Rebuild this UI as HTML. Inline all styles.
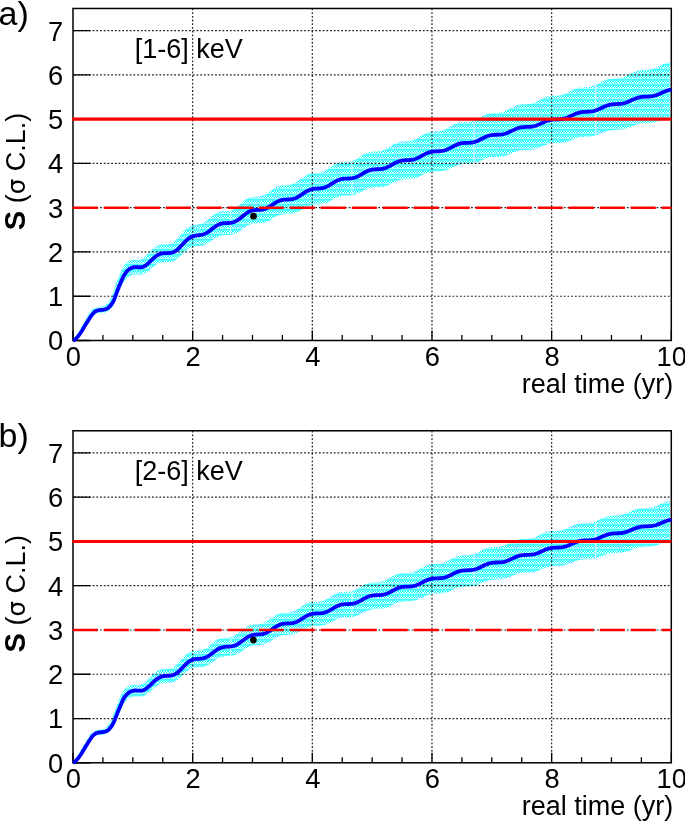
<!DOCTYPE html>
<html><head><meta charset="utf-8"><title>Significance vs real time</title>
<style>html,body{margin:0;padding:0;background:#fff;}svg{display:block;}</style>
</head><body>
<svg width="685" height="821" viewBox="0 0 685 821">
<defs><pattern id="hatch" width="5" height="5" patternUnits="userSpaceOnUse">
<rect width="5" height="5" fill="#00ffff"/>
<rect y="3" width="5" height="1" fill="#a8ffff"/>
<rect y="4" width="5" height="1" fill="#40ffff"/>
<rect y="0" width="5" height="1" fill="#60ffff"/>
<rect x="1" y="1" width="1" height="1" fill="#ffffff"/><rect x="4" y="1" width="1" height="1" fill="#ffffff"/>
<rect x="0" y="2" width="1" height="1" fill="#f0ffff"/><rect x="2" y="2" width="2" height="1" fill="#f0ffff"/>
</pattern></defs>
<rect width="685" height="821" fill="#fff"/>
<clipPath id="bca"><polygon points="73,339.35 73.5,338.86 74,338.32 74.5,337.73 74.99,337.12 75.49,336.49 75.99,335.87 76.49,335.19 76.99,334.47 77.49,333.71 77.99,332.92 78.48,332.12 78.98,331.29 79.48,330.46 79.98,329.6 80.48,328.7 80.98,327.77 81.48,326.82 81.97,325.87 82.47,324.94 82.97,324.03 83.47,323.14 83.97,322.25 84.47,321.38 84.97,320.51 85.46,319.64 85.96,318.79 86.46,317.94 86.96,317.09 87.46,316.22 87.96,315.34 88.46,314.46 88.95,313.62 89.45,312.83 89.95,312.12 90.45,311.5 90.95,310.91 91.45,310.34 91.95,309.8 92.44,309.3 92.94,308.87 93.44,308.5 93.94,308.22 94.44,308 94.94,307.8 95.44,307.63 95.93,307.48 96.43,307.34 96.93,307.23 97.43,307.14 97.93,307.06 98.43,307 98.93,306.95 99.42,306.91 99.92,306.86 100.42,306.81 100.92,306.75 101.42,306.67 101.92,306.57 102.42,306.44 102.91,306.3 103.41,306.13 103.91,305.95 104.41,305.73 104.91,305.49 105.41,305.2 105.91,304.82 106.41,304.37 106.9,303.86 107.4,303.3 107.9,302.71 108.4,302.08 108.9,301.44 109.4,300.74 109.9,299.98 110.39,299.15 110.89,298.24 111.39,297.24 111.89,296.13 112.39,294.85 112.89,293.13 113.39,291.54 113.88,290.02 114.38,288.53 114.88,287.06 115.38,285.63 115.88,284.21 116.38,282.83 116.88,281.48 117.37,280.15 117.87,278.84 118.37,277.52 118.87,276.19 119.37,274.87 119.87,273.58 120.37,272.34 120.86,271.16 121.36,270.07 121.86,269.08 122.36,268.2 122.86,267.4 123.36,266.62 123.86,265.87 124.35,265.16 124.85,264.48 125.35,263.87 125.85,263.3 126.35,262.78 126.85,262.31 127.35,261.9 127.84,261.55 128.34,261.29 128.84,261.05 129.34,260.83 129.84,260.62 130.34,260.43 130.84,260.26 131.33,260.12 131.83,260.01 132.33,259.93 132.83,259.88 133.33,259.85 133.83,259.86 134.33,259.89 134.82,259.94 135.32,259.98 135.82,260.02 136.32,260.05 136.82,260.08 137.32,260.09 137.82,260.09 138.31,260.08 138.81,260.04 139.31,259.98 139.81,259.89 140.31,259.76 140.81,259.61 141.31,259.41 141.8,259.18 142.3,258.9 142.8,258.57 143.3,258.2 143.8,257.81 144.3,257.4 144.8,256.97 145.29,256.52 145.79,256.05 146.29,255.57 146.79,255.07 147.29,254.56 147.79,254.03 148.29,253.51 148.78,252.97 149.28,252.44 149.78,251.91 150.28,251.38 150.78,250.86 151.28,250.35 151.78,249.85 152.27,249.37 152.77,248.91 153.27,248.46 153.77,248.04 154.27,247.64 154.77,247.26 155.27,246.91 155.76,246.58 156.26,246.28 156.76,246 157.26,245.75 157.76,245.53 158.26,245.33 158.76,245.16 159.25,245 159.75,244.87 160.25,244.77 160.75,244.68 161.25,244.6 161.75,244.55 162.25,244.5 162.75,244.47 163.24,244.45 163.74,244.44 164.24,244.43 164.74,244.42 165.24,244.41 165.74,244.4 166.24,244.38 166.73,244.36 167.23,244.32 167.73,244.28 168.23,244.21 168.73,244.13 169.23,244.03 169.73,243.9 170.22,243.75 170.72,243.58 171.22,243.38 171.72,243.15 172.22,242.9 172.72,242.61 173.22,242.28 173.71,241.92 174.21,241.53 174.71,241.11 175.21,240.67 175.71,240.19 176.21,239.7 176.71,239.18 177.2,238.64 177.7,238.08 178.2,237.52 178.7,236.94 179.2,236.35 179.7,235.75 180.2,235.16 180.69,234.56 181.19,233.97 181.69,233.38 182.19,232.8 182.69,232.23 183.19,231.68 183.69,231.14 184.18,230.62 184.68,230.11 185.18,229.63 185.68,229.17 186.18,228.73 186.68,228.32 187.18,227.94 187.67,227.58 188.17,227.25 188.67,226.94 189.17,226.66 189.67,226.4 190.17,226.17 190.67,225.97 191.16,225.79 191.66,225.62 192.16,225.48 192.66,225.36 193.16,225.25 193.66,225.16 194.16,225.08 194.65,225 195.15,224.94 195.65,224.87 196.15,224.82 196.65,224.75 197.15,224.69 197.65,224.62 198.14,224.55 198.64,224.46 199.14,224.36 199.64,224.25 200.14,224.12 200.64,223.97 201.14,223.81 201.63,223.62 202.13,223.42 202.63,223.2 203.13,222.95 203.63,222.68 204.13,222.39 204.63,222.08 205.12,221.76 205.62,221.41 206.12,221.05 206.62,220.67 207.12,220.27 207.62,219.87 208.12,219.46 208.61,219.03 209.11,218.61 209.61,218.17 210.11,217.74 210.61,217.31 211.11,216.88 211.61,216.46 212.1,216.05 212.6,215.64 213.1,215.25 213.6,214.87 214.1,214.51 214.6,214.16 215.1,213.83 215.59,213.52 216.09,213.23 216.59,212.97 217.09,212.72 217.59,212.49 218.09,212.29 218.59,212.11 219.08,211.95 219.58,211.81 220.08,211.7 220.58,211.6 221.08,211.51 221.58,211.45 222.08,211.4 222.57,211.36 223.07,211.33 223.57,211.31 224.07,211.3 224.57,211.29 225.07,211.28 225.57,211.27 226.07,211.26 226.56,211.25 227.06,211.22 227.56,211.18 228.06,211.14 228.56,211.07 229.06,211 229.56,210.9 230.05,210.79 230.55,210.65 231.05,210.5 231.55,210.32 232.05,210.12 232.55,209.9 233.05,209.65 233.54,209.38 234.04,209.09 234.54,208.77 235.04,208.44 235.54,208.08 236.04,207.7 236.54,207.31 237.03,206.9 237.53,206.48 238.03,206.05 238.53,205.6 239.03,205.15 239.53,204.69 240.03,204.23 240.52,203.77 241.02,203.31 241.52,202.86 242.02,202.41 242.52,201.97 243.02,201.54 243.52,201.12 244.01,200.72 244.51,200.33 245.01,199.97 245.51,199.62 246.01,199.29 246.51,198.98 247.01,198.69 247.5,198.43 248,198.19 248.5,197.97 249,197.77 249.5,197.6 250,197.44 250.5,197.31 250.99,197.19 251.49,197.1 251.99,197.02 252.49,196.95 252.99,196.9 253.49,196.86 253.99,196.82 254.48,196.8 254.98,196.78 255.48,196.77 255.98,196.75 256.48,196.74 256.98,196.72 257.48,196.69 257.97,196.66 258.47,196.62 258.97,196.57 259.47,196.5 259.97,196.43 260.47,196.33 260.97,196.22 261.46,196.09 261.96,195.95 262.46,195.78 262.96,195.6 263.46,195.39 263.96,195.17 264.46,194.92 264.95,194.66 265.45,194.39 265.95,194.09 266.45,193.78 266.95,193.46 267.45,193.12 267.95,192.77 268.44,192.42 268.94,192.05 269.44,191.69 269.94,191.31 270.44,190.94 270.94,190.57 271.44,190.2 271.93,189.83 272.43,189.48 272.93,189.13 273.43,188.79 273.93,188.46 274.43,188.14 274.93,187.84 275.42,187.56 275.92,187.29 276.42,187.04 276.92,186.8 277.42,186.59 277.92,186.39 278.42,186.21 278.91,186.05 279.41,185.91 279.91,185.79 280.41,185.68 280.91,185.59 281.41,185.51 281.91,185.45 282.4,185.39 282.9,185.35 283.4,185.32 283.9,185.29 284.4,185.27 284.9,185.25 285.4,185.23 285.9,185.21 286.39,185.19 286.89,185.17 287.39,185.14 287.89,185.1 288.39,185.05 288.89,184.98 289.39,184.91 289.88,184.82 290.38,184.72 290.88,184.59 291.38,184.45 291.88,184.3 292.38,184.12 292.88,183.92 293.37,183.71 293.87,183.47 294.37,183.22 294.87,182.95 295.37,182.67 295.87,182.36 296.37,182.05 296.86,181.71 297.36,181.37 297.86,181.02 298.36,180.65 298.86,180.28 299.36,179.91 299.86,179.53 300.35,179.15 300.85,178.77 301.35,178.39 301.85,178.02 302.35,177.65 302.85,177.29 303.35,176.94 303.84,176.6 304.34,176.28 304.84,175.96 305.34,175.67 305.84,175.39 306.34,175.12 306.84,174.87 307.33,174.65 307.83,174.43 308.33,174.24 308.83,174.07 309.33,173.91 309.83,173.77 310.33,173.65 310.82,173.54 311.32,173.44 311.82,173.36 312.32,173.3 312.82,173.24 313.32,173.19 313.82,173.15 314.31,173.12 314.81,173.09 315.31,173.06 315.81,173.03 316.31,173 316.81,172.97 317.31,172.93 317.8,172.89 318.3,172.83 318.8,172.77 319.3,172.7 319.8,172.61 320.3,172.51 320.8,172.39 321.29,172.26 321.79,172.11 322.29,171.95 322.79,171.76 323.29,171.56 323.79,171.35 324.29,171.11 324.78,170.86 325.28,170.6 325.78,170.32 326.28,170.02 326.78,169.72 327.28,169.4 327.78,169.07 328.27,168.74 328.77,168.4 329.27,168.05 329.77,167.71 330.27,167.36 330.77,167.01 331.27,166.66 331.76,166.32 332.26,165.99 332.76,165.66 333.26,165.34 333.76,165.03 334.26,164.74 334.76,164.45 335.25,164.19 335.75,163.93 336.25,163.7 336.75,163.48 337.25,163.27 337.75,163.09 338.25,162.92 338.74,162.76 339.24,162.63 339.74,162.51 340.24,162.41 340.74,162.32 341.24,162.24 341.74,162.18 342.24,162.13 342.73,162.09 343.23,162.06 343.73,162.03 344.23,162.01 344.73,161.99 345.23,161.98 345.73,161.96 346.22,161.95 346.72,161.93 347.22,161.9 347.72,161.87 348.22,161.83 348.72,161.78 349.22,161.72 349.71,161.64 350.21,161.56 350.71,161.45 351.21,161.33 351.71,161.2 352.21,161.05 352.71,160.88 353.2,160.7 353.7,160.5 354.2,160.28 354.7,160.05 355.2,159.8 355.7,159.54 356.2,159.27 356.69,158.98 357.19,158.68 357.69,158.37 358.19,158.06 358.69,157.74 359.19,157.41 359.69,157.08 360.18,156.75 360.68,156.42 361.18,156.09 361.68,155.77 362.18,155.45 362.68,155.14 363.18,154.83 363.67,154.54 364.17,154.26 364.67,153.99 365.17,153.73 365.67,153.49 366.17,153.26 366.67,153.05 367.16,152.85 367.66,152.67 368.16,152.51 368.66,152.36 369.16,152.23 369.66,152.12 370.16,152.01 370.65,151.93 371.15,151.85 371.65,151.79 372.15,151.74 372.65,151.7 373.15,151.66 373.65,151.63 374.14,151.61 374.64,151.59 375.14,151.57 375.64,151.56 376.14,151.54 376.64,151.51 377.14,151.49 377.63,151.45 378.13,151.41 378.63,151.36 379.13,151.29 379.63,151.22 380.13,151.13 380.63,151.03 381.12,150.91 381.62,150.78 382.12,150.63 382.62,150.47 383.12,150.29 383.62,150.09 384.12,149.88 384.61,149.66 385.11,149.42 385.61,149.16 386.11,148.9 386.61,148.62 387.11,148.33 387.61,148.03 388.1,147.73 388.6,147.42 389.1,147.1 389.6,146.79 390.1,146.47 390.6,146.15 391.1,145.83 391.59,145.52 392.09,145.21 392.59,144.91 393.09,144.61 393.59,144.33 394.09,144.05 394.59,143.79 395.08,143.54 395.58,143.31 396.08,143.09 396.58,142.88 397.08,142.69 397.58,142.52 398.08,142.36 398.57,142.21 399.07,142.09 399.57,141.97 400.07,141.87 400.57,141.79 401.07,141.71 401.57,141.65 402.06,141.6 402.56,141.55 403.06,141.52 403.56,141.49 404.06,141.46 404.56,141.44 405.06,141.42 405.56,141.4 406.05,141.38 406.55,141.36 407.05,141.33 407.55,141.29 408.05,141.25 408.55,141.2 409.05,141.13 409.54,141.06 410.04,140.97 410.54,140.87 411.04,140.76 411.54,140.63 412.04,140.49 412.54,140.33 413.03,140.16 413.53,139.97 414.03,139.76 414.53,139.55 415.03,139.31 415.53,139.07 416.03,138.81 416.52,138.54 417.02,138.26 417.52,137.98 418.02,137.68 418.52,137.38 419.02,137.08 419.52,136.77 420.01,136.46 420.51,136.16 421.01,135.85 421.51,135.55 422.01,135.25 422.51,134.96 423.01,134.67 423.5,134.4 424,134.14 424.5,133.88 425,133.64 425.5,133.42 426,133.2 426.5,133 426.99,132.82 427.49,132.65 427.99,132.5 428.49,132.36 428.99,132.23 429.49,132.12 429.99,132.02 430.48,131.94 430.98,131.87 431.48,131.81 431.98,131.76 432.48,131.71 432.98,131.68 433.48,131.65 433.97,131.63 434.47,131.61 434.97,131.59 435.47,131.57 435.97,131.55 436.47,131.52 436.97,131.49 437.46,131.46 437.96,131.42 438.46,131.37 438.96,131.31 439.46,131.23 439.96,131.15 440.46,131.05 440.95,130.95 441.45,130.82 441.95,130.68 442.45,130.53 442.95,130.36 443.45,130.18 443.95,129.99 444.44,129.77 444.94,129.55 445.44,129.32 445.94,129.07 446.44,128.81 446.94,128.54 447.44,128.27 447.93,127.98 448.43,127.69 448.93,127.4 449.43,127.11 449.93,126.81 450.43,126.51 450.93,126.22 451.42,125.93 451.92,125.64 452.42,125.36 452.92,125.09 453.42,124.82 453.92,124.57 454.42,124.33 454.91,124.09 455.41,123.88 455.91,123.67 456.41,123.48 456.91,123.3 457.41,123.14 457.91,122.99 458.4,122.86 458.9,122.74 459.4,122.63 459.9,122.54 460.4,122.46 460.9,122.39 461.4,122.33 461.89,122.28 462.39,122.24 462.89,122.21 463.39,122.18 463.89,122.16 464.39,122.14 464.89,122.12 465.39,122.1 465.88,122.08 466.38,122.06 466.88,122.03 467.38,122 467.88,121.96 468.38,121.91 468.88,121.86 469.37,121.79 469.87,121.71 470.37,121.62 470.87,121.51 471.37,121.39 471.87,121.26 472.37,121.11 472.86,120.95 473.36,120.78 473.86,120.59 474.36,120.39 474.86,120.17 475.36,119.94 475.86,119.71 476.35,119.46 476.85,119.2 477.35,118.93 477.85,118.66 478.35,118.38 478.85,118.1 479.35,117.82 479.84,117.53 480.34,117.24 480.84,116.96 481.34,116.68 481.84,116.4 482.34,116.13 482.84,115.87 483.33,115.62 483.83,115.37 484.33,115.14 484.83,114.91 485.33,114.7 485.83,114.51 486.33,114.32 486.82,114.15 487.32,113.99 487.82,113.85 488.32,113.72 488.82,113.61 489.32,113.51 489.82,113.42 490.31,113.34 490.81,113.27 491.31,113.22 491.81,113.17 492.31,113.14 492.81,113.1 493.31,113.08 493.8,113.06 494.3,113.04 494.8,113.02 495.3,113.01 495.8,112.99 496.3,112.97 496.8,112.94 497.29,112.91 497.79,112.87 498.29,112.83 498.79,112.77 499.29,112.71 499.79,112.63 500.29,112.54 500.78,112.44 501.28,112.33 501.78,112.2 502.28,112.06 502.78,111.91 503.28,111.74 503.78,111.56 504.27,111.36 504.77,111.16 505.27,110.94 505.77,110.71 506.27,110.47 506.77,110.22 507.27,109.96 507.76,109.7 508.26,109.43 508.76,109.16 509.26,108.88 509.76,108.61 510.26,108.33 510.76,108.06 511.25,107.79 511.75,107.52 512.25,107.26 512.75,107.01 513.25,106.76 513.75,106.53 514.25,106.3 514.74,106.09 515.24,105.88 515.74,105.69 516.24,105.51 516.74,105.35 517.24,105.2 517.74,105.06 518.23,104.94 518.73,104.83 519.23,104.73 519.73,104.65 520.23,104.57 520.73,104.51 521.23,104.46 521.72,104.41 522.22,104.38 522.72,104.35 523.22,104.33 523.72,104.31 524.22,104.29 524.72,104.27 525.22,104.26 525.71,104.24 526.21,104.22 526.71,104.2 527.21,104.17 527.71,104.13 528.21,104.09 528.71,104.04 529.2,103.98 529.7,103.9 530.2,103.82 530.7,103.72 531.2,103.61 531.7,103.49 532.2,103.35 532.69,103.2 533.19,103.04 533.69,102.86 534.19,102.68 534.69,102.48 535.19,102.26 535.69,102.04 536.18,101.81 536.68,101.57 537.18,101.32 537.68,101.06 538.18,100.8 538.68,100.54 539.18,100.27 539.67,100 540.17,99.74 540.67,99.47 541.17,99.21 541.67,98.95 542.17,98.69 542.67,98.45 543.16,98.21 543.66,97.98 544.16,97.76 544.66,97.55 545.16,97.35 545.66,97.17 546.16,96.99 546.65,96.83 547.15,96.68 547.65,96.55 548.15,96.43 548.65,96.32 549.15,96.22 549.65,96.14 550.14,96.07 550.64,96 551.14,95.95 551.64,95.91 552.14,95.87 552.64,95.84 553.14,95.82 553.63,95.8 554.13,95.78 554.63,95.76 555.13,95.74 555.63,95.73 556.13,95.71 556.63,95.68 557.12,95.65 557.62,95.61 558.12,95.57 558.62,95.51 559.12,95.45 559.62,95.38 560.12,95.29 560.61,95.2 561.11,95.09 561.61,94.96 562.11,94.83 562.61,94.68 563.11,94.52 563.61,94.34 564.1,94.16 564.6,93.96 565.1,93.75 565.6,93.53 566.1,93.3 566.6,93.06 567.1,92.82 567.59,92.57 568.09,92.31 568.59,92.05 569.09,91.79 569.59,91.52 570.09,91.26 570.59,90.99 571.08,90.73 571.58,90.48 572.08,90.23 572.58,89.98 573.08,89.75 573.58,89.52 574.08,89.3 574.57,89.09 575.07,88.9 575.57,88.71 576.07,88.54 576.57,88.38 577.07,88.23 577.57,88.09 578.06,87.97 578.56,87.86 579.06,87.76 579.56,87.67 580.06,87.6 580.56,87.53 581.06,87.47 581.56,87.43 582.05,87.38 582.55,87.35 583.05,87.32 583.55,87.29 584.05,87.27 584.55,87.25 585.05,87.23 585.54,87.2 586.04,87.18 586.54,87.15 587.04,87.11 587.54,87.07 588.04,87.02 588.54,86.96 589.03,86.89 589.53,86.82 590.03,86.73 590.53,86.63 591.03,86.51 591.53,86.39 592.03,86.25 592.52,86.1 593.02,85.93 593.52,85.76 594.02,85.57 594.52,85.37 595.02,85.16 595.52,84.94 596.01,84.71 596.51,84.47 597.01,84.22 597.51,83.97 598.01,83.71 598.51,83.45 599.01,83.19 599.5,82.92 600,82.66 600.5,82.39 601,82.13 601.5,81.88 602,81.62 602.5,81.38 602.99,81.14 603.49,80.91 603.99,80.69 604.49,80.48 604.99,80.28 605.49,80.09 605.99,79.92 606.48,79.75 606.98,79.6 607.48,79.46 607.98,79.34 608.48,79.22 608.98,79.12 609.48,79.03 609.97,78.95 610.47,78.88 610.97,78.81 611.47,78.76 611.97,78.71 612.47,78.68 612.97,78.64 613.46,78.61 613.96,78.58 614.46,78.55 614.96,78.53 615.46,78.5 615.96,78.47 616.46,78.44 616.95,78.4 617.45,78.35 617.95,78.3 618.45,78.24 618.95,78.17 619.45,78.09 619.95,78 620.44,77.89 620.94,77.78 621.44,77.66 621.94,77.52 622.44,77.37 622.94,77.21 623.44,77.03 623.93,76.85 624.43,76.65 624.93,76.45 625.43,76.23 625.93,76 626.43,75.77 626.93,75.53 627.42,75.28 627.92,75.03 628.42,74.78 628.92,74.52 629.42,74.27 629.92,74.01 630.42,73.75 630.91,73.5 631.41,73.25 631.91,73.01 632.41,72.77 632.91,72.54 633.41,72.32 633.91,72.11 634.4,71.91 634.9,71.72 635.4,71.54 635.9,71.38 636.4,71.22 636.9,71.08 637.4,70.95 637.89,70.83 638.39,70.72 638.89,70.63 639.39,70.55 639.89,70.47 640.39,70.41 640.89,70.36 641.38,70.31 641.88,70.28 642.38,70.24 642.88,70.22 643.38,70.2 643.88,70.17 644.38,70.16 644.88,70.14 645.37,70.12 645.87,70.09 646.37,70.07 646.87,70.03 647.37,70 647.87,69.95 648.37,69.9 648.86,69.84 649.36,69.76 649.86,69.68 650.36,69.59 650.86,69.48 651.36,69.36 651.86,69.23 652.35,69.09 652.85,68.94 653.35,68.77 653.85,68.59 654.35,68.4 654.85,68.2 655.35,67.99 655.84,67.77 656.34,67.55 656.84,67.31 657.34,67.07 657.84,66.83 658.34,66.58 658.84,66.32 659.33,66.07 659.83,65.81 660.33,65.56 660.83,65.31 661.33,65.06 661.83,64.82 662.33,64.58 662.82,64.35 663.32,64.12 663.82,63.91 664.32,63.7 664.82,63.5 665.32,63.32 665.82,63.14 666.31,62.97 666.81,62.82 667.31,62.68 667.81,62.55 668.31,62.42 668.81,62.31 669.31,62.23 669.8,62.23 669.8,117.43 669.31,117.54 668.81,117.65 668.31,117.77 667.81,117.9 667.31,118.04 666.81,118.19 666.31,118.34 665.82,118.51 665.32,118.68 664.82,118.86 664.32,119.04 663.82,119.23 663.32,119.42 662.82,119.62 662.33,119.81 661.83,120.01 661.33,120.21 660.83,120.41 660.33,120.61 659.83,120.81 659.33,121 658.84,121.19 658.34,121.37 657.84,121.55 657.34,121.72 656.84,121.88 656.34,122.04 655.84,122.18 655.35,122.32 654.85,122.45 654.35,122.57 653.85,122.68 653.35,122.77 652.85,122.86 652.35,122.94 651.86,123.01 651.36,123.07 650.86,123.12 650.36,123.17 649.86,123.21 649.36,123.24 648.86,123.26 648.37,123.28 647.87,123.3 647.37,123.31 646.87,123.33 646.37,123.34 645.87,123.35 645.37,123.36 644.88,123.38 644.38,123.39 643.88,123.42 643.38,123.44 642.88,123.48 642.38,123.52 641.88,123.57 641.38,123.62 640.89,123.69 640.39,123.76 639.89,123.84 639.39,123.94 638.89,124.04 638.39,124.15 637.89,124.27 637.4,124.4 636.9,124.55 636.4,124.7 635.9,124.86 635.4,125.02 634.9,125.2 634.4,125.38 633.91,125.57 633.41,125.76 632.91,125.96 632.41,126.16 631.91,126.36 631.41,126.56 630.91,126.76 630.42,126.96 629.92,127.16 629.42,127.36 628.92,127.55 628.42,127.74 627.92,127.92 627.42,128.1 626.93,128.27 626.43,128.43 625.93,128.58 625.43,128.72 624.93,128.86 624.43,128.98 623.93,129.1 623.44,129.2 622.94,129.3 622.44,129.38 621.94,129.46 621.44,129.53 620.94,129.58 620.44,129.63 619.95,129.68 619.45,129.72 618.95,129.75 618.45,129.77 617.95,129.8 617.45,129.82 616.95,129.84 616.46,129.85 615.96,129.87 615.46,129.89 614.96,129.91 614.46,129.94 613.96,129.97 613.46,130 612.97,130.04 612.47,130.09 611.97,130.14 611.47,130.2 610.97,130.28 610.47,130.36 609.97,130.45 609.48,130.55 608.98,130.66 608.48,130.78 607.98,130.91 607.48,131.05 606.98,131.2 606.48,131.35 605.99,131.52 605.49,131.7 604.99,131.88 604.49,132.07 603.99,132.26 603.49,132.46 602.99,132.66 602.5,132.87 602,133.08 601.5,133.29 601,133.5 600.5,133.71 600,133.91 599.5,134.12 599.01,134.31 598.51,134.51 598.01,134.69 597.51,134.87 597.01,135.05 596.51,135.21 596.01,135.37 595.52,135.51 595.02,135.65 594.52,135.77 594.02,135.89 593.52,136 593.02,136.09 592.52,136.18 592.03,136.25 591.53,136.32 591.03,136.38 590.53,136.42 590.03,136.47 589.53,136.5 589.03,136.53 588.54,136.55 588.04,136.57 587.54,136.59 587.04,136.61 586.54,136.62 586.04,136.63 585.54,136.65 585.05,136.67 584.55,136.69 584.05,136.71 583.55,136.74 583.05,136.78 582.55,136.82 582.05,136.87 581.56,136.93 581.06,137 580.56,137.08 580.06,137.17 579.56,137.26 579.06,137.37 578.56,137.49 578.06,137.62 577.57,137.75 577.07,137.9 576.57,138.06 576.07,138.22 575.57,138.4 575.07,138.58 574.57,138.77 574.08,138.96 573.58,139.16 573.08,139.36 572.58,139.57 572.08,139.78 571.58,139.99 571.08,140.2 570.59,140.41 570.09,140.61 569.59,140.81 569.09,141.01 568.59,141.2 568.09,141.39 567.59,141.57 567.1,141.74 566.6,141.91 566.1,142.06 565.6,142.2 565.1,142.34 564.6,142.46 564.1,142.58 563.61,142.68 563.11,142.77 562.61,142.86 562.11,142.93 561.61,142.99 561.11,143.05 560.61,143.09 560.12,143.13 559.62,143.16 559.12,143.19 558.62,143.21 558.12,143.22 557.62,143.23 557.12,143.24 556.63,143.25 556.13,143.26 555.63,143.28 555.13,143.29 554.63,143.31 554.13,143.33 553.63,143.35 553.14,143.39 552.64,143.43 552.14,143.48 551.64,143.53 551.14,143.6 550.64,143.68 550.14,143.76 549.65,143.86 549.15,143.96 548.65,144.08 548.15,144.21 547.65,144.35 547.15,144.5 546.65,144.65 546.16,144.82 545.66,145 545.16,145.18 544.66,145.37 544.16,145.57 543.66,145.77 543.16,145.97 542.67,146.18 542.17,146.39 541.67,146.61 541.17,146.82 540.67,147.03 540.17,147.24 539.67,147.45 539.18,147.65 538.68,147.84 538.18,148.03 537.68,148.21 537.18,148.39 536.68,148.55 536.18,148.71 535.69,148.86 535.19,148.99 534.69,149.12 534.19,149.23 533.69,149.34 533.19,149.43 532.69,149.51 532.2,149.59 531.7,149.65 531.2,149.7 530.7,149.75 530.2,149.79 529.7,149.82 529.2,149.84 528.71,149.86 528.21,149.88 527.71,149.89 527.21,149.9 526.71,149.9 526.21,149.91 525.71,149.92 525.22,149.94 524.72,149.95 524.22,149.97 523.72,150 523.22,150.03 522.72,150.07 522.22,150.12 521.72,150.18 521.23,150.25 520.73,150.33 520.23,150.41 519.73,150.51 519.23,150.62 518.73,150.74 518.23,150.87 517.74,151.01 517.24,151.17 516.74,151.33 516.24,151.5 515.74,151.68 515.24,151.87 514.74,152.07 514.25,152.27 513.75,152.48 513.25,152.69 512.75,152.9 512.25,153.12 511.75,153.34 511.25,153.56 510.76,153.78 510.26,153.99 509.76,154.21 509.26,154.41 508.76,154.62 508.26,154.81 507.76,155 507.27,155.18 506.77,155.35 506.27,155.51 505.77,155.67 505.27,155.81 504.77,155.94 504.27,156.06 503.78,156.17 503.28,156.26 502.78,156.35 502.28,156.42 501.78,156.49 501.28,156.55 500.78,156.59 500.29,156.63 499.79,156.67 499.29,156.69 498.79,156.71 498.29,156.73 497.79,156.74 497.29,156.75 496.8,156.76 496.3,156.77 495.8,156.78 495.3,156.8 494.8,156.82 494.3,156.84 493.8,156.87 493.31,156.9 492.81,156.95 492.31,157 491.81,157.06 491.31,157.13 490.81,157.21 490.31,157.3 489.82,157.4 489.32,157.52 488.82,157.64 488.32,157.78 487.82,157.93 487.32,158.09 486.82,158.25 486.33,158.43 485.83,158.62 485.33,158.82 484.83,159.02 484.33,159.23 483.83,159.45 483.33,159.67 482.84,159.89 482.34,160.12 481.84,160.35 481.34,160.57 480.84,160.8 480.34,161.02 479.84,161.25 479.35,161.46 478.85,161.67 478.35,161.88 477.85,162.07 477.35,162.26 476.85,162.44 476.35,162.61 475.86,162.76 475.36,162.91 474.86,163.05 474.36,163.17 473.86,163.28 473.36,163.39 472.86,163.48 472.37,163.56 471.87,163.63 471.37,163.68 470.87,163.73 470.37,163.78 469.87,163.81 469.37,163.84 468.88,163.86 468.38,163.88 467.88,163.89 467.38,163.91 466.88,163.92 466.38,163.93 465.88,163.94 465.39,163.96 464.89,163.98 464.39,164 463.89,164.03 463.39,164.07 462.89,164.11 462.39,164.17 461.89,164.23 461.4,164.31 460.9,164.39 460.4,164.49 459.9,164.59 459.4,164.71 458.9,164.84 458.4,164.99 457.91,165.14 457.41,165.31 456.91,165.48 456.41,165.67 455.91,165.86 455.41,166.07 454.91,166.28 454.42,166.5 453.92,166.72 453.42,166.95 452.92,167.18 452.42,167.42 451.92,167.66 451.42,167.89 450.93,168.13 450.43,168.36 449.93,168.59 449.43,168.82 448.93,169.04 448.43,169.25 447.93,169.45 447.44,169.65 446.94,169.83 446.44,170.01 445.94,170.17 445.44,170.33 444.94,170.47 444.44,170.6 443.95,170.72 443.45,170.82 442.95,170.92 442.45,171 441.95,171.07 441.45,171.14 440.95,171.19 440.46,171.23 439.96,171.27 439.46,171.3 438.96,171.32 438.46,171.34 437.96,171.36 437.46,171.37 436.97,171.38 436.47,171.4 435.97,171.41 435.47,171.43 434.97,171.45 434.47,171.48 433.97,171.51 433.48,171.55 432.98,171.6 432.48,171.65 431.98,171.72 431.48,171.8 430.98,171.89 430.48,171.99 429.99,172.1 429.49,172.22 428.99,172.36 428.49,172.51 427.99,172.67 427.49,172.84 426.99,173.02 426.5,173.22 426,173.42 425.5,173.63 425,173.85 424.5,174.08 424,174.31 423.5,174.55 423.01,174.8 422.51,175.04 422.01,175.29 421.51,175.53 421.01,175.78 420.51,176.02 420.01,176.26 419.52,176.5 419.02,176.72 418.52,176.94 418.02,177.16 417.52,177.36 417.02,177.55 416.52,177.74 416.03,177.91 415.53,178.07 415.03,178.22 414.53,178.35 414.03,178.47 413.53,178.59 413.03,178.68 412.54,178.77 412.04,178.85 411.54,178.91 411.04,178.97 410.54,179.01 410.04,179.05 409.54,179.08 409.05,179.11 408.55,179.13 408.05,179.14 407.55,179.16 407.05,179.17 406.55,179.18 406.05,179.2 405.56,179.21 405.06,179.24 404.56,179.26 404.06,179.3 403.56,179.34 403.06,179.39 402.56,179.45 402.06,179.52 401.57,179.6 401.07,179.69 400.57,179.79 400.07,179.91 399.57,180.04 399.07,180.18 398.57,180.33 398.08,180.5 397.58,180.68 397.08,180.87 396.58,181.07 396.08,181.28 395.58,181.5 395.08,181.73 394.59,181.96 394.09,182.21 393.59,182.45 393.09,182.71 392.59,182.96 392.09,183.22 391.59,183.47 391.1,183.73 390.6,183.98 390.1,184.23 389.6,184.47 389.1,184.71 388.6,184.94 388.1,185.16 387.61,185.37 387.11,185.57 386.61,185.76 386.11,185.94 385.61,186.1 385.11,186.26 384.61,186.4 384.12,186.52 383.62,186.64 383.12,186.74 382.62,186.83 382.12,186.91 381.62,186.97 381.12,187.03 380.63,187.08 380.13,187.11 379.63,187.14 379.13,187.17 378.63,187.19 378.13,187.2 377.63,187.21 377.14,187.23 376.64,187.24 376.14,187.25 375.64,187.27 375.14,187.29 374.64,187.31 374.14,187.35 373.65,187.39 373.15,187.44 372.65,187.5 372.15,187.57 371.65,187.65 371.15,187.74 370.65,187.85 370.16,187.97 369.66,188.1 369.16,188.25 368.66,188.41 368.16,188.58 367.66,188.76 367.16,188.96 366.67,189.17 366.17,189.38 365.67,189.61 365.17,189.85 364.67,190.09 364.17,190.35 363.67,190.6 363.18,190.86 362.68,191.13 362.18,191.39 361.68,191.66 361.18,191.92 360.68,192.19 360.18,192.44 359.69,192.69 359.19,192.94 358.69,193.18 358.19,193.41 357.69,193.62 357.19,193.83 356.69,194.03 356.2,194.21 355.7,194.38 355.2,194.54 354.7,194.68 354.2,194.81 353.7,194.93 353.2,195.03 352.71,195.12 352.21,195.2 351.71,195.27 351.21,195.32 350.71,195.37 350.21,195.41 349.71,195.44 349.22,195.46 348.72,195.48 348.22,195.49 347.72,195.5 347.22,195.51 346.72,195.52 346.22,195.53 345.73,195.54 345.23,195.56 344.73,195.59 344.23,195.62 343.73,195.66 343.23,195.71 342.73,195.77 342.24,195.84 341.74,195.93 341.24,196.02 340.74,196.13 340.24,196.26 339.74,196.39 339.24,196.54 338.74,196.71 338.25,196.89 337.75,197.08 337.25,197.29 336.75,197.51 336.25,197.73 335.75,197.97 335.25,198.22 334.76,198.48 334.26,198.75 333.76,199.02 333.26,199.29 332.76,199.57 332.26,199.85 331.76,200.13 331.27,200.41 330.77,200.69 330.27,200.96 329.77,201.23 329.27,201.49 328.77,201.75 328.27,201.99 327.78,202.22 327.28,202.45 326.78,202.66 326.28,202.86 325.78,203.04 325.28,203.21 324.78,203.37 324.29,203.51 323.79,203.64 323.29,203.76 322.79,203.86 322.29,203.95 321.79,204.03 321.29,204.09 320.8,204.15 320.3,204.2 319.8,204.23 319.3,204.27 318.8,204.29 318.3,204.32 317.8,204.34 317.31,204.36 316.81,204.38 316.31,204.4 315.81,204.43 315.31,204.46 314.81,204.5 314.31,204.54 313.82,204.6 313.32,204.66 312.82,204.74 312.32,204.83 311.82,204.93 311.32,205.04 310.82,205.17 310.33,205.31 309.83,205.47 309.33,205.64 308.83,205.83 308.33,206.03 307.83,206.24 307.33,206.47 306.84,206.71 306.34,206.97 305.84,207.23 305.34,207.51 304.84,207.79 304.34,208.08 303.84,208.38 303.35,208.68 302.85,208.99 302.35,209.29 301.85,209.6 301.35,209.91 300.85,210.21 300.35,210.51 299.86,210.8 299.36,211.08 298.86,211.36 298.36,211.62 297.86,211.88 297.36,212.12 296.86,212.35 296.37,212.56 295.87,212.76 295.37,212.95 294.87,213.12 294.37,213.27 293.87,213.41 293.37,213.53 292.88,213.64 292.38,213.73 291.88,213.81 291.38,213.88 290.88,213.94 290.38,213.98 289.88,214.02 289.39,214.05 288.89,214.07 288.39,214.09 287.89,214.1 287.39,214.12 286.89,214.13 286.39,214.14 285.9,214.16 285.4,214.18 284.9,214.2 284.4,214.24 283.9,214.28 283.4,214.33 282.9,214.4 282.4,214.47 281.91,214.56 281.41,214.66 280.91,214.78 280.41,214.91 279.91,215.05 279.41,215.21 278.91,215.39 278.42,215.58 277.92,215.79 277.42,216 276.92,216.24 276.42,216.48 275.92,216.74 275.42,217.01 274.93,217.28 274.43,217.57 273.93,217.86 273.43,218.15 272.93,218.45 272.43,218.75 271.93,219.06 271.44,219.36 270.94,219.65 270.44,219.95 269.94,220.23 269.44,220.51 268.94,220.78 268.44,221.04 267.95,221.29 267.45,221.52 266.95,221.74 266.45,221.95 265.95,222.14 265.45,222.32 264.95,222.48 264.46,222.63 263.96,222.76 263.46,222.87 262.96,222.97 262.46,223.06 261.96,223.13 261.46,223.19 260.97,223.24 260.47,223.27 259.97,223.3 259.47,223.33 258.97,223.34 258.47,223.35 257.97,223.36 257.48,223.37 256.98,223.39 256.48,223.4 255.98,223.42 255.48,223.44 254.98,223.48 254.48,223.52 253.99,223.57 253.49,223.64 252.99,223.72 252.49,223.81 251.99,223.92 251.49,224.05 250.99,224.2 250.5,224.36 250,224.54 249.5,224.74 249,224.95 248.5,225.19 248,225.44 247.5,225.71 247.01,226 246.51,226.3 246.01,226.61 245.51,226.94 245.01,227.28 244.51,227.63 244.01,227.99 243.52,228.35 243.02,228.72 242.52,229.1 242.02,229.47 241.52,229.84 241.02,230.21 240.52,230.58 240.03,230.94 239.53,231.29 239.03,231.63 238.53,231.95 238.03,232.27 237.53,232.57 237.03,232.86 236.54,233.13 236.04,233.38 235.54,233.61 235.04,233.82 234.54,234.02 234.04,234.2 233.54,234.35 233.05,234.49 232.55,234.61 232.05,234.72 231.55,234.81 231.05,234.88 230.55,234.94 230.05,234.98 229.56,235.02 229.06,235.04 228.56,235.06 228.06,235.07 227.56,235.08 227.06,235.08 226.56,235.09 226.07,235.09 225.57,235.1 225.07,235.12 224.57,235.14 224.07,235.17 223.57,235.22 223.07,235.27 222.57,235.34 222.08,235.42 221.58,235.52 221.08,235.63 220.58,235.76 220.08,235.91 219.58,236.08 219.08,236.26 218.59,236.47 218.09,236.69 217.59,236.92 217.09,237.18 216.59,237.45 216.09,237.73 215.59,238.03 215.1,238.34 214.6,238.66 214.1,238.99 213.6,239.33 213.1,239.67 212.6,240.02 212.1,240.37 211.61,240.72 211.11,241.07 210.61,241.42 210.11,241.76 209.61,242.09 209.11,242.42 208.61,242.74 208.12,243.04 207.62,243.33 207.12,243.61 206.62,243.87 206.12,244.12 205.62,244.35 205.12,244.56 204.63,244.76 204.13,244.94 203.63,245.1 203.13,245.25 202.63,245.38 202.13,245.49 201.63,245.59 201.14,245.68 200.64,245.76 200.14,245.82 199.64,245.88 199.14,245.94 198.64,245.99 198.14,246.03 197.65,246.08 197.15,246.13 196.65,246.18 196.15,246.24 195.65,246.31 195.15,246.39 194.65,246.47 194.16,246.58 193.66,246.69 193.16,246.83 192.66,246.98 192.16,247.15 191.66,247.34 191.16,247.55 190.67,247.78 190.17,248.03 189.67,248.31 189.17,248.6 188.67,248.92 188.17,249.26 187.67,249.62 187.18,250 186.68,250.39 186.18,250.81 185.68,251.23 185.18,251.68 184.68,252.13 184.18,252.6 183.69,253.07 183.19,253.55 182.69,254.03 182.19,254.52 181.69,255 181.19,255.48 180.69,255.96 180.2,256.43 179.7,256.89 179.2,257.34 178.7,257.78 178.2,258.2 177.7,258.6 177.2,258.98 176.71,259.34 176.21,259.68 175.71,259.99 175.21,260.27 174.71,260.54 174.21,260.76 173.71,260.97 173.22,261.15 172.72,261.3 172.22,261.44 171.72,261.56 171.22,261.65 170.72,261.73 170.22,261.79 169.73,261.84 169.23,261.88 168.73,261.9 168.23,261.92 167.73,261.93 167.23,261.94 166.73,261.94 166.24,261.95 165.74,261.95 165.24,261.97 164.74,261.98 164.24,262.01 163.74,262.05 163.24,262.09 162.75,262.15 162.25,262.23 161.75,262.32 161.25,262.43 160.75,262.55 160.25,262.7 159.75,262.86 159.25,263.05 158.76,263.26 158.26,263.48 157.76,263.73 157.26,264 156.76,264.3 156.26,264.61 155.76,264.94 155.27,265.29 154.77,265.65 154.27,266.04 153.77,266.43 153.27,266.84 152.77,267.26 152.27,267.68 151.78,268.11 151.28,268.55 150.78,268.98 150.28,269.41 149.78,269.84 149.28,270.27 148.78,270.69 148.29,271.09 147.79,271.48 147.29,271.86 146.79,272.23 146.29,272.57 145.79,272.9 145.29,273.22 144.8,273.52 144.3,273.77 143.8,273.99 143.3,274.18 142.8,274.33 142.3,274.45 141.8,274.54 141.31,274.61 140.81,274.66 140.31,274.68 139.81,274.69 139.31,274.69 138.81,274.68 138.31,274.65 137.82,274.62 137.32,274.59 136.82,274.55 136.32,274.51 135.82,274.49 135.32,274.49 134.82,274.51 134.33,274.55 133.83,274.63 133.33,274.72 132.83,274.84 132.33,274.98 131.83,275.13 131.33,275.31 130.84,275.5 130.34,275.69 129.84,275.91 129.34,276.21 128.84,276.55 128.34,276.94 127.84,277.38 127.35,277.85 126.85,278.36 126.35,278.92 125.85,279.51 125.35,280.13 124.85,280.77 124.35,281.43 123.86,282.17 123.36,283 122.86,283.9 122.36,284.88 121.86,285.9 121.36,286.96 120.86,288.05 120.37,289.13 119.87,290.22 119.37,291.29 118.87,292.38 118.37,293.49 117.87,294.63 117.37,295.79 116.88,296.97 116.38,298.17 115.88,299.4 115.38,300.65 114.88,301.98 114.38,303.35 113.88,304.34 113.39,305.23 112.89,306.03 112.39,306.77 111.89,307.43 111.39,308.04 110.89,308.6 110.39,309.13 109.9,309.63 109.4,310.12 108.9,310.56 108.4,310.97 107.9,311.33 107.4,311.63 106.9,311.86 106.41,312.05 105.91,312.22 105.41,312.37 104.91,312.5 104.41,312.61 103.91,312.71 103.41,312.79 102.91,312.85 102.42,312.9 101.92,312.94 101.42,312.97 100.92,313.01 100.42,313.05 99.92,313.1 99.42,313.17 98.93,313.25 98.43,313.34 97.93,313.45 97.43,313.58 96.93,313.73 96.43,313.89 95.93,314.08 95.44,314.32 94.94,314.64 94.44,315 93.94,315.42 93.44,315.86 92.94,316.33 92.44,316.82 91.95,317.34 91.45,317.94 90.95,318.6 90.45,319.29 89.95,320.01 89.45,320.74 88.95,321.45 88.46,322.14 87.96,322.83 87.46,323.54 86.96,324.25 86.46,325 85.96,325.8 85.46,326.61 84.97,327.42 84.47,328.26 83.97,329.11 83.47,329.98 82.97,330.83 82.47,331.68 81.97,332.5 81.48,333.27 80.98,334.03 80.48,334.78 79.98,335.51 79.48,336.22 78.98,336.91 78.48,337.56 77.99,338.16 77.49,338.62 76.99,339 76.49,339.37 75.99,339.72 75.49,340.02 74.99,340.27 74.5,340.45 74,340.55 73.5,340.59 73,340.58"/></clipPath>
<polygon points="73,339.35 73.5,338.86 74,338.32 74.5,337.73 74.99,337.12 75.49,336.49 75.99,335.87 76.49,335.19 76.99,334.47 77.49,333.71 77.99,332.92 78.48,332.12 78.98,331.29 79.48,330.46 79.98,329.6 80.48,328.7 80.98,327.77 81.48,326.82 81.97,325.87 82.47,324.94 82.97,324.03 83.47,323.14 83.97,322.25 84.47,321.38 84.97,320.51 85.46,319.64 85.96,318.79 86.46,317.94 86.96,317.09 87.46,316.22 87.96,315.34 88.46,314.46 88.95,313.62 89.45,312.83 89.95,312.12 90.45,311.5 90.95,310.91 91.45,310.34 91.95,309.8 92.44,309.3 92.94,308.87 93.44,308.5 93.94,308.22 94.44,308 94.94,307.8 95.44,307.63 95.93,307.48 96.43,307.34 96.93,307.23 97.43,307.14 97.93,307.06 98.43,307 98.93,306.95 99.42,306.91 99.92,306.86 100.42,306.81 100.92,306.75 101.42,306.67 101.92,306.57 102.42,306.44 102.91,306.3 103.41,306.13 103.91,305.95 104.41,305.73 104.91,305.49 105.41,305.2 105.91,304.82 106.41,304.37 106.9,303.86 107.4,303.3 107.9,302.71 108.4,302.08 108.9,301.44 109.4,300.74 109.9,299.98 110.39,299.15 110.89,298.24 111.39,297.24 111.89,296.13 112.39,294.85 112.89,293.13 113.39,291.54 113.88,290.02 114.38,288.53 114.88,287.06 115.38,285.63 115.88,284.21 116.38,282.83 116.88,281.48 117.37,280.15 117.87,278.84 118.37,277.52 118.87,276.19 119.37,274.87 119.87,273.58 120.37,272.34 120.86,271.16 121.36,270.07 121.86,269.08 122.36,268.2 122.86,267.4 123.36,266.62 123.86,265.87 124.35,265.16 124.85,264.48 125.35,263.87 125.85,263.3 126.35,262.78 126.85,262.31 127.35,261.9 127.84,261.55 128.34,261.29 128.84,261.05 129.34,260.83 129.84,260.62 130.34,260.43 130.84,260.26 131.33,260.12 131.83,260.01 132.33,259.93 132.83,259.88 133.33,259.85 133.83,259.86 134.33,259.89 134.82,259.94 135.32,259.98 135.82,260.02 136.32,260.05 136.82,260.08 137.32,260.09 137.82,260.09 138.31,260.08 138.81,260.04 139.31,259.98 139.81,259.89 140.31,259.76 140.81,259.61 141.31,259.41 141.8,259.18 142.3,258.9 142.8,258.57 143.3,258.2 143.8,257.81 144.3,257.4 144.8,256.97 145.29,256.52 145.79,256.05 146.29,255.57 146.79,255.07 147.29,254.56 147.79,254.03 148.29,253.51 148.78,252.97 149.28,252.44 149.78,251.91 150.28,251.38 150.78,250.86 151.28,250.35 151.78,249.85 152.27,249.37 152.77,248.91 153.27,248.46 153.77,248.04 154.27,247.64 154.77,247.26 155.27,246.91 155.76,246.58 156.26,246.28 156.76,246 157.26,245.75 157.76,245.53 158.26,245.33 158.76,245.16 159.25,245 159.75,244.87 160.25,244.77 160.75,244.68 161.25,244.6 161.75,244.55 162.25,244.5 162.75,244.47 163.24,244.45 163.74,244.44 164.24,244.43 164.74,244.42 165.24,244.41 165.74,244.4 166.24,244.38 166.73,244.36 167.23,244.32 167.73,244.28 168.23,244.21 168.73,244.13 169.23,244.03 169.73,243.9 170.22,243.75 170.72,243.58 171.22,243.38 171.72,243.15 172.22,242.9 172.72,242.61 173.22,242.28 173.71,241.92 174.21,241.53 174.71,241.11 175.21,240.67 175.71,240.19 176.21,239.7 176.71,239.18 177.2,238.64 177.7,238.08 178.2,237.52 178.7,236.94 179.2,236.35 179.7,235.75 180.2,235.16 180.69,234.56 181.19,233.97 181.69,233.38 182.19,232.8 182.69,232.23 183.19,231.68 183.69,231.14 184.18,230.62 184.68,230.11 185.18,229.63 185.68,229.17 186.18,228.73 186.68,228.32 187.18,227.94 187.67,227.58 188.17,227.25 188.67,226.94 189.17,226.66 189.67,226.4 190.17,226.17 190.67,225.97 191.16,225.79 191.66,225.62 192.16,225.48 192.66,225.36 193.16,225.25 193.66,225.16 194.16,225.08 194.65,225 195.15,224.94 195.65,224.87 196.15,224.82 196.65,224.75 197.15,224.69 197.65,224.62 198.14,224.55 198.64,224.46 199.14,224.36 199.64,224.25 200.14,224.12 200.64,223.97 201.14,223.81 201.63,223.62 202.13,223.42 202.63,223.2 203.13,222.95 203.63,222.68 204.13,222.39 204.63,222.08 205.12,221.76 205.62,221.41 206.12,221.05 206.62,220.67 207.12,220.27 207.62,219.87 208.12,219.46 208.61,219.03 209.11,218.61 209.61,218.17 210.11,217.74 210.61,217.31 211.11,216.88 211.61,216.46 212.1,216.05 212.6,215.64 213.1,215.25 213.6,214.87 214.1,214.51 214.6,214.16 215.1,213.83 215.59,213.52 216.09,213.23 216.59,212.97 217.09,212.72 217.59,212.49 218.09,212.29 218.59,212.11 219.08,211.95 219.58,211.81 220.08,211.7 220.58,211.6 221.08,211.51 221.58,211.45 222.08,211.4 222.57,211.36 223.07,211.33 223.57,211.31 224.07,211.3 224.57,211.29 225.07,211.28 225.57,211.27 226.07,211.26 226.56,211.25 227.06,211.22 227.56,211.18 228.06,211.14 228.56,211.07 229.06,211 229.56,210.9 230.05,210.79 230.55,210.65 231.05,210.5 231.55,210.32 232.05,210.12 232.55,209.9 233.05,209.65 233.54,209.38 234.04,209.09 234.54,208.77 235.04,208.44 235.54,208.08 236.04,207.7 236.54,207.31 237.03,206.9 237.53,206.48 238.03,206.05 238.53,205.6 239.03,205.15 239.53,204.69 240.03,204.23 240.52,203.77 241.02,203.31 241.52,202.86 242.02,202.41 242.52,201.97 243.02,201.54 243.52,201.12 244.01,200.72 244.51,200.33 245.01,199.97 245.51,199.62 246.01,199.29 246.51,198.98 247.01,198.69 247.5,198.43 248,198.19 248.5,197.97 249,197.77 249.5,197.6 250,197.44 250.5,197.31 250.99,197.19 251.49,197.1 251.99,197.02 252.49,196.95 252.99,196.9 253.49,196.86 253.99,196.82 254.48,196.8 254.98,196.78 255.48,196.77 255.98,196.75 256.48,196.74 256.98,196.72 257.48,196.69 257.97,196.66 258.47,196.62 258.97,196.57 259.47,196.5 259.97,196.43 260.47,196.33 260.97,196.22 261.46,196.09 261.96,195.95 262.46,195.78 262.96,195.6 263.46,195.39 263.96,195.17 264.46,194.92 264.95,194.66 265.45,194.39 265.95,194.09 266.45,193.78 266.95,193.46 267.45,193.12 267.95,192.77 268.44,192.42 268.94,192.05 269.44,191.69 269.94,191.31 270.44,190.94 270.94,190.57 271.44,190.2 271.93,189.83 272.43,189.48 272.93,189.13 273.43,188.79 273.93,188.46 274.43,188.14 274.93,187.84 275.42,187.56 275.92,187.29 276.42,187.04 276.92,186.8 277.42,186.59 277.92,186.39 278.42,186.21 278.91,186.05 279.41,185.91 279.91,185.79 280.41,185.68 280.91,185.59 281.41,185.51 281.91,185.45 282.4,185.39 282.9,185.35 283.4,185.32 283.9,185.29 284.4,185.27 284.9,185.25 285.4,185.23 285.9,185.21 286.39,185.19 286.89,185.17 287.39,185.14 287.89,185.1 288.39,185.05 288.89,184.98 289.39,184.91 289.88,184.82 290.38,184.72 290.88,184.59 291.38,184.45 291.88,184.3 292.38,184.12 292.88,183.92 293.37,183.71 293.87,183.47 294.37,183.22 294.87,182.95 295.37,182.67 295.87,182.36 296.37,182.05 296.86,181.71 297.36,181.37 297.86,181.02 298.36,180.65 298.86,180.28 299.36,179.91 299.86,179.53 300.35,179.15 300.85,178.77 301.35,178.39 301.85,178.02 302.35,177.65 302.85,177.29 303.35,176.94 303.84,176.6 304.34,176.28 304.84,175.96 305.34,175.67 305.84,175.39 306.34,175.12 306.84,174.87 307.33,174.65 307.83,174.43 308.33,174.24 308.83,174.07 309.33,173.91 309.83,173.77 310.33,173.65 310.82,173.54 311.32,173.44 311.82,173.36 312.32,173.3 312.82,173.24 313.32,173.19 313.82,173.15 314.31,173.12 314.81,173.09 315.31,173.06 315.81,173.03 316.31,173 316.81,172.97 317.31,172.93 317.8,172.89 318.3,172.83 318.8,172.77 319.3,172.7 319.8,172.61 320.3,172.51 320.8,172.39 321.29,172.26 321.79,172.11 322.29,171.95 322.79,171.76 323.29,171.56 323.79,171.35 324.29,171.11 324.78,170.86 325.28,170.6 325.78,170.32 326.28,170.02 326.78,169.72 327.28,169.4 327.78,169.07 328.27,168.74 328.77,168.4 329.27,168.05 329.77,167.71 330.27,167.36 330.77,167.01 331.27,166.66 331.76,166.32 332.26,165.99 332.76,165.66 333.26,165.34 333.76,165.03 334.26,164.74 334.76,164.45 335.25,164.19 335.75,163.93 336.25,163.7 336.75,163.48 337.25,163.27 337.75,163.09 338.25,162.92 338.74,162.76 339.24,162.63 339.74,162.51 340.24,162.41 340.74,162.32 341.24,162.24 341.74,162.18 342.24,162.13 342.73,162.09 343.23,162.06 343.73,162.03 344.23,162.01 344.73,161.99 345.23,161.98 345.73,161.96 346.22,161.95 346.72,161.93 347.22,161.9 347.72,161.87 348.22,161.83 348.72,161.78 349.22,161.72 349.71,161.64 350.21,161.56 350.71,161.45 351.21,161.33 351.71,161.2 352.21,161.05 352.71,160.88 353.2,160.7 353.7,160.5 354.2,160.28 354.7,160.05 355.2,159.8 355.7,159.54 356.2,159.27 356.69,158.98 357.19,158.68 357.69,158.37 358.19,158.06 358.69,157.74 359.19,157.41 359.69,157.08 360.18,156.75 360.68,156.42 361.18,156.09 361.68,155.77 362.18,155.45 362.68,155.14 363.18,154.83 363.67,154.54 364.17,154.26 364.67,153.99 365.17,153.73 365.67,153.49 366.17,153.26 366.67,153.05 367.16,152.85 367.66,152.67 368.16,152.51 368.66,152.36 369.16,152.23 369.66,152.12 370.16,152.01 370.65,151.93 371.15,151.85 371.65,151.79 372.15,151.74 372.65,151.7 373.15,151.66 373.65,151.63 374.14,151.61 374.64,151.59 375.14,151.57 375.64,151.56 376.14,151.54 376.64,151.51 377.14,151.49 377.63,151.45 378.13,151.41 378.63,151.36 379.13,151.29 379.63,151.22 380.13,151.13 380.63,151.03 381.12,150.91 381.62,150.78 382.12,150.63 382.62,150.47 383.12,150.29 383.62,150.09 384.12,149.88 384.61,149.66 385.11,149.42 385.61,149.16 386.11,148.9 386.61,148.62 387.11,148.33 387.61,148.03 388.1,147.73 388.6,147.42 389.1,147.1 389.6,146.79 390.1,146.47 390.6,146.15 391.1,145.83 391.59,145.52 392.09,145.21 392.59,144.91 393.09,144.61 393.59,144.33 394.09,144.05 394.59,143.79 395.08,143.54 395.58,143.31 396.08,143.09 396.58,142.88 397.08,142.69 397.58,142.52 398.08,142.36 398.57,142.21 399.07,142.09 399.57,141.97 400.07,141.87 400.57,141.79 401.07,141.71 401.57,141.65 402.06,141.6 402.56,141.55 403.06,141.52 403.56,141.49 404.06,141.46 404.56,141.44 405.06,141.42 405.56,141.4 406.05,141.38 406.55,141.36 407.05,141.33 407.55,141.29 408.05,141.25 408.55,141.2 409.05,141.13 409.54,141.06 410.04,140.97 410.54,140.87 411.04,140.76 411.54,140.63 412.04,140.49 412.54,140.33 413.03,140.16 413.53,139.97 414.03,139.76 414.53,139.55 415.03,139.31 415.53,139.07 416.03,138.81 416.52,138.54 417.02,138.26 417.52,137.98 418.02,137.68 418.52,137.38 419.02,137.08 419.52,136.77 420.01,136.46 420.51,136.16 421.01,135.85 421.51,135.55 422.01,135.25 422.51,134.96 423.01,134.67 423.5,134.4 424,134.14 424.5,133.88 425,133.64 425.5,133.42 426,133.2 426.5,133 426.99,132.82 427.49,132.65 427.99,132.5 428.49,132.36 428.99,132.23 429.49,132.12 429.99,132.02 430.48,131.94 430.98,131.87 431.48,131.81 431.98,131.76 432.48,131.71 432.98,131.68 433.48,131.65 433.97,131.63 434.47,131.61 434.97,131.59 435.47,131.57 435.97,131.55 436.47,131.52 436.97,131.49 437.46,131.46 437.96,131.42 438.46,131.37 438.96,131.31 439.46,131.23 439.96,131.15 440.46,131.05 440.95,130.95 441.45,130.82 441.95,130.68 442.45,130.53 442.95,130.36 443.45,130.18 443.95,129.99 444.44,129.77 444.94,129.55 445.44,129.32 445.94,129.07 446.44,128.81 446.94,128.54 447.44,128.27 447.93,127.98 448.43,127.69 448.93,127.4 449.43,127.11 449.93,126.81 450.43,126.51 450.93,126.22 451.42,125.93 451.92,125.64 452.42,125.36 452.92,125.09 453.42,124.82 453.92,124.57 454.42,124.33 454.91,124.09 455.41,123.88 455.91,123.67 456.41,123.48 456.91,123.3 457.41,123.14 457.91,122.99 458.4,122.86 458.9,122.74 459.4,122.63 459.9,122.54 460.4,122.46 460.9,122.39 461.4,122.33 461.89,122.28 462.39,122.24 462.89,122.21 463.39,122.18 463.89,122.16 464.39,122.14 464.89,122.12 465.39,122.1 465.88,122.08 466.38,122.06 466.88,122.03 467.38,122 467.88,121.96 468.38,121.91 468.88,121.86 469.37,121.79 469.87,121.71 470.37,121.62 470.87,121.51 471.37,121.39 471.87,121.26 472.37,121.11 472.86,120.95 473.36,120.78 473.86,120.59 474.36,120.39 474.86,120.17 475.36,119.94 475.86,119.71 476.35,119.46 476.85,119.2 477.35,118.93 477.85,118.66 478.35,118.38 478.85,118.1 479.35,117.82 479.84,117.53 480.34,117.24 480.84,116.96 481.34,116.68 481.84,116.4 482.34,116.13 482.84,115.87 483.33,115.62 483.83,115.37 484.33,115.14 484.83,114.91 485.33,114.7 485.83,114.51 486.33,114.32 486.82,114.15 487.32,113.99 487.82,113.85 488.32,113.72 488.82,113.61 489.32,113.51 489.82,113.42 490.31,113.34 490.81,113.27 491.31,113.22 491.81,113.17 492.31,113.14 492.81,113.1 493.31,113.08 493.8,113.06 494.3,113.04 494.8,113.02 495.3,113.01 495.8,112.99 496.3,112.97 496.8,112.94 497.29,112.91 497.79,112.87 498.29,112.83 498.79,112.77 499.29,112.71 499.79,112.63 500.29,112.54 500.78,112.44 501.28,112.33 501.78,112.2 502.28,112.06 502.78,111.91 503.28,111.74 503.78,111.56 504.27,111.36 504.77,111.16 505.27,110.94 505.77,110.71 506.27,110.47 506.77,110.22 507.27,109.96 507.76,109.7 508.26,109.43 508.76,109.16 509.26,108.88 509.76,108.61 510.26,108.33 510.76,108.06 511.25,107.79 511.75,107.52 512.25,107.26 512.75,107.01 513.25,106.76 513.75,106.53 514.25,106.3 514.74,106.09 515.24,105.88 515.74,105.69 516.24,105.51 516.74,105.35 517.24,105.2 517.74,105.06 518.23,104.94 518.73,104.83 519.23,104.73 519.73,104.65 520.23,104.57 520.73,104.51 521.23,104.46 521.72,104.41 522.22,104.38 522.72,104.35 523.22,104.33 523.72,104.31 524.22,104.29 524.72,104.27 525.22,104.26 525.71,104.24 526.21,104.22 526.71,104.2 527.21,104.17 527.71,104.13 528.21,104.09 528.71,104.04 529.2,103.98 529.7,103.9 530.2,103.82 530.7,103.72 531.2,103.61 531.7,103.49 532.2,103.35 532.69,103.2 533.19,103.04 533.69,102.86 534.19,102.68 534.69,102.48 535.19,102.26 535.69,102.04 536.18,101.81 536.68,101.57 537.18,101.32 537.68,101.06 538.18,100.8 538.68,100.54 539.18,100.27 539.67,100 540.17,99.74 540.67,99.47 541.17,99.21 541.67,98.95 542.17,98.69 542.67,98.45 543.16,98.21 543.66,97.98 544.16,97.76 544.66,97.55 545.16,97.35 545.66,97.17 546.16,96.99 546.65,96.83 547.15,96.68 547.65,96.55 548.15,96.43 548.65,96.32 549.15,96.22 549.65,96.14 550.14,96.07 550.64,96 551.14,95.95 551.64,95.91 552.14,95.87 552.64,95.84 553.14,95.82 553.63,95.8 554.13,95.78 554.63,95.76 555.13,95.74 555.63,95.73 556.13,95.71 556.63,95.68 557.12,95.65 557.62,95.61 558.12,95.57 558.62,95.51 559.12,95.45 559.62,95.38 560.12,95.29 560.61,95.2 561.11,95.09 561.61,94.96 562.11,94.83 562.61,94.68 563.11,94.52 563.61,94.34 564.1,94.16 564.6,93.96 565.1,93.75 565.6,93.53 566.1,93.3 566.6,93.06 567.1,92.82 567.59,92.57 568.09,92.31 568.59,92.05 569.09,91.79 569.59,91.52 570.09,91.26 570.59,90.99 571.08,90.73 571.58,90.48 572.08,90.23 572.58,89.98 573.08,89.75 573.58,89.52 574.08,89.3 574.57,89.09 575.07,88.9 575.57,88.71 576.07,88.54 576.57,88.38 577.07,88.23 577.57,88.09 578.06,87.97 578.56,87.86 579.06,87.76 579.56,87.67 580.06,87.6 580.56,87.53 581.06,87.47 581.56,87.43 582.05,87.38 582.55,87.35 583.05,87.32 583.55,87.29 584.05,87.27 584.55,87.25 585.05,87.23 585.54,87.2 586.04,87.18 586.54,87.15 587.04,87.11 587.54,87.07 588.04,87.02 588.54,86.96 589.03,86.89 589.53,86.82 590.03,86.73 590.53,86.63 591.03,86.51 591.53,86.39 592.03,86.25 592.52,86.1 593.02,85.93 593.52,85.76 594.02,85.57 594.52,85.37 595.02,85.16 595.52,84.94 596.01,84.71 596.51,84.47 597.01,84.22 597.51,83.97 598.01,83.71 598.51,83.45 599.01,83.19 599.5,82.92 600,82.66 600.5,82.39 601,82.13 601.5,81.88 602,81.62 602.5,81.38 602.99,81.14 603.49,80.91 603.99,80.69 604.49,80.48 604.99,80.28 605.49,80.09 605.99,79.92 606.48,79.75 606.98,79.6 607.48,79.46 607.98,79.34 608.48,79.22 608.98,79.12 609.48,79.03 609.97,78.95 610.47,78.88 610.97,78.81 611.47,78.76 611.97,78.71 612.47,78.68 612.97,78.64 613.46,78.61 613.96,78.58 614.46,78.55 614.96,78.53 615.46,78.5 615.96,78.47 616.46,78.44 616.95,78.4 617.45,78.35 617.95,78.3 618.45,78.24 618.95,78.17 619.45,78.09 619.95,78 620.44,77.89 620.94,77.78 621.44,77.66 621.94,77.52 622.44,77.37 622.94,77.21 623.44,77.03 623.93,76.85 624.43,76.65 624.93,76.45 625.43,76.23 625.93,76 626.43,75.77 626.93,75.53 627.42,75.28 627.92,75.03 628.42,74.78 628.92,74.52 629.42,74.27 629.92,74.01 630.42,73.75 630.91,73.5 631.41,73.25 631.91,73.01 632.41,72.77 632.91,72.54 633.41,72.32 633.91,72.11 634.4,71.91 634.9,71.72 635.4,71.54 635.9,71.38 636.4,71.22 636.9,71.08 637.4,70.95 637.89,70.83 638.39,70.72 638.89,70.63 639.39,70.55 639.89,70.47 640.39,70.41 640.89,70.36 641.38,70.31 641.88,70.28 642.38,70.24 642.88,70.22 643.38,70.2 643.88,70.17 644.38,70.16 644.88,70.14 645.37,70.12 645.87,70.09 646.37,70.07 646.87,70.03 647.37,70 647.87,69.95 648.37,69.9 648.86,69.84 649.36,69.76 649.86,69.68 650.36,69.59 650.86,69.48 651.36,69.36 651.86,69.23 652.35,69.09 652.85,68.94 653.35,68.77 653.85,68.59 654.35,68.4 654.85,68.2 655.35,67.99 655.84,67.77 656.34,67.55 656.84,67.31 657.34,67.07 657.84,66.83 658.34,66.58 658.84,66.32 659.33,66.07 659.83,65.81 660.33,65.56 660.83,65.31 661.33,65.06 661.83,64.82 662.33,64.58 662.82,64.35 663.32,64.12 663.82,63.91 664.32,63.7 664.82,63.5 665.32,63.32 665.82,63.14 666.31,62.97 666.81,62.82 667.31,62.68 667.81,62.55 668.31,62.42 668.81,62.31 669.31,62.23 669.8,62.23 669.8,117.43 669.31,117.54 668.81,117.65 668.31,117.77 667.81,117.9 667.31,118.04 666.81,118.19 666.31,118.34 665.82,118.51 665.32,118.68 664.82,118.86 664.32,119.04 663.82,119.23 663.32,119.42 662.82,119.62 662.33,119.81 661.83,120.01 661.33,120.21 660.83,120.41 660.33,120.61 659.83,120.81 659.33,121 658.84,121.19 658.34,121.37 657.84,121.55 657.34,121.72 656.84,121.88 656.34,122.04 655.84,122.18 655.35,122.32 654.85,122.45 654.35,122.57 653.85,122.68 653.35,122.77 652.85,122.86 652.35,122.94 651.86,123.01 651.36,123.07 650.86,123.12 650.36,123.17 649.86,123.21 649.36,123.24 648.86,123.26 648.37,123.28 647.87,123.3 647.37,123.31 646.87,123.33 646.37,123.34 645.87,123.35 645.37,123.36 644.88,123.38 644.38,123.39 643.88,123.42 643.38,123.44 642.88,123.48 642.38,123.52 641.88,123.57 641.38,123.62 640.89,123.69 640.39,123.76 639.89,123.84 639.39,123.94 638.89,124.04 638.39,124.15 637.89,124.27 637.4,124.4 636.9,124.55 636.4,124.7 635.9,124.86 635.4,125.02 634.9,125.2 634.4,125.38 633.91,125.57 633.41,125.76 632.91,125.96 632.41,126.16 631.91,126.36 631.41,126.56 630.91,126.76 630.42,126.96 629.92,127.16 629.42,127.36 628.92,127.55 628.42,127.74 627.92,127.92 627.42,128.1 626.93,128.27 626.43,128.43 625.93,128.58 625.43,128.72 624.93,128.86 624.43,128.98 623.93,129.1 623.44,129.2 622.94,129.3 622.44,129.38 621.94,129.46 621.44,129.53 620.94,129.58 620.44,129.63 619.95,129.68 619.45,129.72 618.95,129.75 618.45,129.77 617.95,129.8 617.45,129.82 616.95,129.84 616.46,129.85 615.96,129.87 615.46,129.89 614.96,129.91 614.46,129.94 613.96,129.97 613.46,130 612.97,130.04 612.47,130.09 611.97,130.14 611.47,130.2 610.97,130.28 610.47,130.36 609.97,130.45 609.48,130.55 608.98,130.66 608.48,130.78 607.98,130.91 607.48,131.05 606.98,131.2 606.48,131.35 605.99,131.52 605.49,131.7 604.99,131.88 604.49,132.07 603.99,132.26 603.49,132.46 602.99,132.66 602.5,132.87 602,133.08 601.5,133.29 601,133.5 600.5,133.71 600,133.91 599.5,134.12 599.01,134.31 598.51,134.51 598.01,134.69 597.51,134.87 597.01,135.05 596.51,135.21 596.01,135.37 595.52,135.51 595.02,135.65 594.52,135.77 594.02,135.89 593.52,136 593.02,136.09 592.52,136.18 592.03,136.25 591.53,136.32 591.03,136.38 590.53,136.42 590.03,136.47 589.53,136.5 589.03,136.53 588.54,136.55 588.04,136.57 587.54,136.59 587.04,136.61 586.54,136.62 586.04,136.63 585.54,136.65 585.05,136.67 584.55,136.69 584.05,136.71 583.55,136.74 583.05,136.78 582.55,136.82 582.05,136.87 581.56,136.93 581.06,137 580.56,137.08 580.06,137.17 579.56,137.26 579.06,137.37 578.56,137.49 578.06,137.62 577.57,137.75 577.07,137.9 576.57,138.06 576.07,138.22 575.57,138.4 575.07,138.58 574.57,138.77 574.08,138.96 573.58,139.16 573.08,139.36 572.58,139.57 572.08,139.78 571.58,139.99 571.08,140.2 570.59,140.41 570.09,140.61 569.59,140.81 569.09,141.01 568.59,141.2 568.09,141.39 567.59,141.57 567.1,141.74 566.6,141.91 566.1,142.06 565.6,142.2 565.1,142.34 564.6,142.46 564.1,142.58 563.61,142.68 563.11,142.77 562.61,142.86 562.11,142.93 561.61,142.99 561.11,143.05 560.61,143.09 560.12,143.13 559.62,143.16 559.12,143.19 558.62,143.21 558.12,143.22 557.62,143.23 557.12,143.24 556.63,143.25 556.13,143.26 555.63,143.28 555.13,143.29 554.63,143.31 554.13,143.33 553.63,143.35 553.14,143.39 552.64,143.43 552.14,143.48 551.64,143.53 551.14,143.6 550.64,143.68 550.14,143.76 549.65,143.86 549.15,143.96 548.65,144.08 548.15,144.21 547.65,144.35 547.15,144.5 546.65,144.65 546.16,144.82 545.66,145 545.16,145.18 544.66,145.37 544.16,145.57 543.66,145.77 543.16,145.97 542.67,146.18 542.17,146.39 541.67,146.61 541.17,146.82 540.67,147.03 540.17,147.24 539.67,147.45 539.18,147.65 538.68,147.84 538.18,148.03 537.68,148.21 537.18,148.39 536.68,148.55 536.18,148.71 535.69,148.86 535.19,148.99 534.69,149.12 534.19,149.23 533.69,149.34 533.19,149.43 532.69,149.51 532.2,149.59 531.7,149.65 531.2,149.7 530.7,149.75 530.2,149.79 529.7,149.82 529.2,149.84 528.71,149.86 528.21,149.88 527.71,149.89 527.21,149.9 526.71,149.9 526.21,149.91 525.71,149.92 525.22,149.94 524.72,149.95 524.22,149.97 523.72,150 523.22,150.03 522.72,150.07 522.22,150.12 521.72,150.18 521.23,150.25 520.73,150.33 520.23,150.41 519.73,150.51 519.23,150.62 518.73,150.74 518.23,150.87 517.74,151.01 517.24,151.17 516.74,151.33 516.24,151.5 515.74,151.68 515.24,151.87 514.74,152.07 514.25,152.27 513.75,152.48 513.25,152.69 512.75,152.9 512.25,153.12 511.75,153.34 511.25,153.56 510.76,153.78 510.26,153.99 509.76,154.21 509.26,154.41 508.76,154.62 508.26,154.81 507.76,155 507.27,155.18 506.77,155.35 506.27,155.51 505.77,155.67 505.27,155.81 504.77,155.94 504.27,156.06 503.78,156.17 503.28,156.26 502.78,156.35 502.28,156.42 501.78,156.49 501.28,156.55 500.78,156.59 500.29,156.63 499.79,156.67 499.29,156.69 498.79,156.71 498.29,156.73 497.79,156.74 497.29,156.75 496.8,156.76 496.3,156.77 495.8,156.78 495.3,156.8 494.8,156.82 494.3,156.84 493.8,156.87 493.31,156.9 492.81,156.95 492.31,157 491.81,157.06 491.31,157.13 490.81,157.21 490.31,157.3 489.82,157.4 489.32,157.52 488.82,157.64 488.32,157.78 487.82,157.93 487.32,158.09 486.82,158.25 486.33,158.43 485.83,158.62 485.33,158.82 484.83,159.02 484.33,159.23 483.83,159.45 483.33,159.67 482.84,159.89 482.34,160.12 481.84,160.35 481.34,160.57 480.84,160.8 480.34,161.02 479.84,161.25 479.35,161.46 478.85,161.67 478.35,161.88 477.85,162.07 477.35,162.26 476.85,162.44 476.35,162.61 475.86,162.76 475.36,162.91 474.86,163.05 474.36,163.17 473.86,163.28 473.36,163.39 472.86,163.48 472.37,163.56 471.87,163.63 471.37,163.68 470.87,163.73 470.37,163.78 469.87,163.81 469.37,163.84 468.88,163.86 468.38,163.88 467.88,163.89 467.38,163.91 466.88,163.92 466.38,163.93 465.88,163.94 465.39,163.96 464.89,163.98 464.39,164 463.89,164.03 463.39,164.07 462.89,164.11 462.39,164.17 461.89,164.23 461.4,164.31 460.9,164.39 460.4,164.49 459.9,164.59 459.4,164.71 458.9,164.84 458.4,164.99 457.91,165.14 457.41,165.31 456.91,165.48 456.41,165.67 455.91,165.86 455.41,166.07 454.91,166.28 454.42,166.5 453.92,166.72 453.42,166.95 452.92,167.18 452.42,167.42 451.92,167.66 451.42,167.89 450.93,168.13 450.43,168.36 449.93,168.59 449.43,168.82 448.93,169.04 448.43,169.25 447.93,169.45 447.44,169.65 446.94,169.83 446.44,170.01 445.94,170.17 445.44,170.33 444.94,170.47 444.44,170.6 443.95,170.72 443.45,170.82 442.95,170.92 442.45,171 441.95,171.07 441.45,171.14 440.95,171.19 440.46,171.23 439.96,171.27 439.46,171.3 438.96,171.32 438.46,171.34 437.96,171.36 437.46,171.37 436.97,171.38 436.47,171.4 435.97,171.41 435.47,171.43 434.97,171.45 434.47,171.48 433.97,171.51 433.48,171.55 432.98,171.6 432.48,171.65 431.98,171.72 431.48,171.8 430.98,171.89 430.48,171.99 429.99,172.1 429.49,172.22 428.99,172.36 428.49,172.51 427.99,172.67 427.49,172.84 426.99,173.02 426.5,173.22 426,173.42 425.5,173.63 425,173.85 424.5,174.08 424,174.31 423.5,174.55 423.01,174.8 422.51,175.04 422.01,175.29 421.51,175.53 421.01,175.78 420.51,176.02 420.01,176.26 419.52,176.5 419.02,176.72 418.52,176.94 418.02,177.16 417.52,177.36 417.02,177.55 416.52,177.74 416.03,177.91 415.53,178.07 415.03,178.22 414.53,178.35 414.03,178.47 413.53,178.59 413.03,178.68 412.54,178.77 412.04,178.85 411.54,178.91 411.04,178.97 410.54,179.01 410.04,179.05 409.54,179.08 409.05,179.11 408.55,179.13 408.05,179.14 407.55,179.16 407.05,179.17 406.55,179.18 406.05,179.2 405.56,179.21 405.06,179.24 404.56,179.26 404.06,179.3 403.56,179.34 403.06,179.39 402.56,179.45 402.06,179.52 401.57,179.6 401.07,179.69 400.57,179.79 400.07,179.91 399.57,180.04 399.07,180.18 398.57,180.33 398.08,180.5 397.58,180.68 397.08,180.87 396.58,181.07 396.08,181.28 395.58,181.5 395.08,181.73 394.59,181.96 394.09,182.21 393.59,182.45 393.09,182.71 392.59,182.96 392.09,183.22 391.59,183.47 391.1,183.73 390.6,183.98 390.1,184.23 389.6,184.47 389.1,184.71 388.6,184.94 388.1,185.16 387.61,185.37 387.11,185.57 386.61,185.76 386.11,185.94 385.61,186.1 385.11,186.26 384.61,186.4 384.12,186.52 383.62,186.64 383.12,186.74 382.62,186.83 382.12,186.91 381.62,186.97 381.12,187.03 380.63,187.08 380.13,187.11 379.63,187.14 379.13,187.17 378.63,187.19 378.13,187.2 377.63,187.21 377.14,187.23 376.64,187.24 376.14,187.25 375.64,187.27 375.14,187.29 374.64,187.31 374.14,187.35 373.65,187.39 373.15,187.44 372.65,187.5 372.15,187.57 371.65,187.65 371.15,187.74 370.65,187.85 370.16,187.97 369.66,188.1 369.16,188.25 368.66,188.41 368.16,188.58 367.66,188.76 367.16,188.96 366.67,189.17 366.17,189.38 365.67,189.61 365.17,189.85 364.67,190.09 364.17,190.35 363.67,190.6 363.18,190.86 362.68,191.13 362.18,191.39 361.68,191.66 361.18,191.92 360.68,192.19 360.18,192.44 359.69,192.69 359.19,192.94 358.69,193.18 358.19,193.41 357.69,193.62 357.19,193.83 356.69,194.03 356.2,194.21 355.7,194.38 355.2,194.54 354.7,194.68 354.2,194.81 353.7,194.93 353.2,195.03 352.71,195.12 352.21,195.2 351.71,195.27 351.21,195.32 350.71,195.37 350.21,195.41 349.71,195.44 349.22,195.46 348.72,195.48 348.22,195.49 347.72,195.5 347.22,195.51 346.72,195.52 346.22,195.53 345.73,195.54 345.23,195.56 344.73,195.59 344.23,195.62 343.73,195.66 343.23,195.71 342.73,195.77 342.24,195.84 341.74,195.93 341.24,196.02 340.74,196.13 340.24,196.26 339.74,196.39 339.24,196.54 338.74,196.71 338.25,196.89 337.75,197.08 337.25,197.29 336.75,197.51 336.25,197.73 335.75,197.97 335.25,198.22 334.76,198.48 334.26,198.75 333.76,199.02 333.26,199.29 332.76,199.57 332.26,199.85 331.76,200.13 331.27,200.41 330.77,200.69 330.27,200.96 329.77,201.23 329.27,201.49 328.77,201.75 328.27,201.99 327.78,202.22 327.28,202.45 326.78,202.66 326.28,202.86 325.78,203.04 325.28,203.21 324.78,203.37 324.29,203.51 323.79,203.64 323.29,203.76 322.79,203.86 322.29,203.95 321.79,204.03 321.29,204.09 320.8,204.15 320.3,204.2 319.8,204.23 319.3,204.27 318.8,204.29 318.3,204.32 317.8,204.34 317.31,204.36 316.81,204.38 316.31,204.4 315.81,204.43 315.31,204.46 314.81,204.5 314.31,204.54 313.82,204.6 313.32,204.66 312.82,204.74 312.32,204.83 311.82,204.93 311.32,205.04 310.82,205.17 310.33,205.31 309.83,205.47 309.33,205.64 308.83,205.83 308.33,206.03 307.83,206.24 307.33,206.47 306.84,206.71 306.34,206.97 305.84,207.23 305.34,207.51 304.84,207.79 304.34,208.08 303.84,208.38 303.35,208.68 302.85,208.99 302.35,209.29 301.85,209.6 301.35,209.91 300.85,210.21 300.35,210.51 299.86,210.8 299.36,211.08 298.86,211.36 298.36,211.62 297.86,211.88 297.36,212.12 296.86,212.35 296.37,212.56 295.87,212.76 295.37,212.95 294.87,213.12 294.37,213.27 293.87,213.41 293.37,213.53 292.88,213.64 292.38,213.73 291.88,213.81 291.38,213.88 290.88,213.94 290.38,213.98 289.88,214.02 289.39,214.05 288.89,214.07 288.39,214.09 287.89,214.1 287.39,214.12 286.89,214.13 286.39,214.14 285.9,214.16 285.4,214.18 284.9,214.2 284.4,214.24 283.9,214.28 283.4,214.33 282.9,214.4 282.4,214.47 281.91,214.56 281.41,214.66 280.91,214.78 280.41,214.91 279.91,215.05 279.41,215.21 278.91,215.39 278.42,215.58 277.92,215.79 277.42,216 276.92,216.24 276.42,216.48 275.92,216.74 275.42,217.01 274.93,217.28 274.43,217.57 273.93,217.86 273.43,218.15 272.93,218.45 272.43,218.75 271.93,219.06 271.44,219.36 270.94,219.65 270.44,219.95 269.94,220.23 269.44,220.51 268.94,220.78 268.44,221.04 267.95,221.29 267.45,221.52 266.95,221.74 266.45,221.95 265.95,222.14 265.45,222.32 264.95,222.48 264.46,222.63 263.96,222.76 263.46,222.87 262.96,222.97 262.46,223.06 261.96,223.13 261.46,223.19 260.97,223.24 260.47,223.27 259.97,223.3 259.47,223.33 258.97,223.34 258.47,223.35 257.97,223.36 257.48,223.37 256.98,223.39 256.48,223.4 255.98,223.42 255.48,223.44 254.98,223.48 254.48,223.52 253.99,223.57 253.49,223.64 252.99,223.72 252.49,223.81 251.99,223.92 251.49,224.05 250.99,224.2 250.5,224.36 250,224.54 249.5,224.74 249,224.95 248.5,225.19 248,225.44 247.5,225.71 247.01,226 246.51,226.3 246.01,226.61 245.51,226.94 245.01,227.28 244.51,227.63 244.01,227.99 243.52,228.35 243.02,228.72 242.52,229.1 242.02,229.47 241.52,229.84 241.02,230.21 240.52,230.58 240.03,230.94 239.53,231.29 239.03,231.63 238.53,231.95 238.03,232.27 237.53,232.57 237.03,232.86 236.54,233.13 236.04,233.38 235.54,233.61 235.04,233.82 234.54,234.02 234.04,234.2 233.54,234.35 233.05,234.49 232.55,234.61 232.05,234.72 231.55,234.81 231.05,234.88 230.55,234.94 230.05,234.98 229.56,235.02 229.06,235.04 228.56,235.06 228.06,235.07 227.56,235.08 227.06,235.08 226.56,235.09 226.07,235.09 225.57,235.1 225.07,235.12 224.57,235.14 224.07,235.17 223.57,235.22 223.07,235.27 222.57,235.34 222.08,235.42 221.58,235.52 221.08,235.63 220.58,235.76 220.08,235.91 219.58,236.08 219.08,236.26 218.59,236.47 218.09,236.69 217.59,236.92 217.09,237.18 216.59,237.45 216.09,237.73 215.59,238.03 215.1,238.34 214.6,238.66 214.1,238.99 213.6,239.33 213.1,239.67 212.6,240.02 212.1,240.37 211.61,240.72 211.11,241.07 210.61,241.42 210.11,241.76 209.61,242.09 209.11,242.42 208.61,242.74 208.12,243.04 207.62,243.33 207.12,243.61 206.62,243.87 206.12,244.12 205.62,244.35 205.12,244.56 204.63,244.76 204.13,244.94 203.63,245.1 203.13,245.25 202.63,245.38 202.13,245.49 201.63,245.59 201.14,245.68 200.64,245.76 200.14,245.82 199.64,245.88 199.14,245.94 198.64,245.99 198.14,246.03 197.65,246.08 197.15,246.13 196.65,246.18 196.15,246.24 195.65,246.31 195.15,246.39 194.65,246.47 194.16,246.58 193.66,246.69 193.16,246.83 192.66,246.98 192.16,247.15 191.66,247.34 191.16,247.55 190.67,247.78 190.17,248.03 189.67,248.31 189.17,248.6 188.67,248.92 188.17,249.26 187.67,249.62 187.18,250 186.68,250.39 186.18,250.81 185.68,251.23 185.18,251.68 184.68,252.13 184.18,252.6 183.69,253.07 183.19,253.55 182.69,254.03 182.19,254.52 181.69,255 181.19,255.48 180.69,255.96 180.2,256.43 179.7,256.89 179.2,257.34 178.7,257.78 178.2,258.2 177.7,258.6 177.2,258.98 176.71,259.34 176.21,259.68 175.71,259.99 175.21,260.27 174.71,260.54 174.21,260.76 173.71,260.97 173.22,261.15 172.72,261.3 172.22,261.44 171.72,261.56 171.22,261.65 170.72,261.73 170.22,261.79 169.73,261.84 169.23,261.88 168.73,261.9 168.23,261.92 167.73,261.93 167.23,261.94 166.73,261.94 166.24,261.95 165.74,261.95 165.24,261.97 164.74,261.98 164.24,262.01 163.74,262.05 163.24,262.09 162.75,262.15 162.25,262.23 161.75,262.32 161.25,262.43 160.75,262.55 160.25,262.7 159.75,262.86 159.25,263.05 158.76,263.26 158.26,263.48 157.76,263.73 157.26,264 156.76,264.3 156.26,264.61 155.76,264.94 155.27,265.29 154.77,265.65 154.27,266.04 153.77,266.43 153.27,266.84 152.77,267.26 152.27,267.68 151.78,268.11 151.28,268.55 150.78,268.98 150.28,269.41 149.78,269.84 149.28,270.27 148.78,270.69 148.29,271.09 147.79,271.48 147.29,271.86 146.79,272.23 146.29,272.57 145.79,272.9 145.29,273.22 144.8,273.52 144.3,273.77 143.8,273.99 143.3,274.18 142.8,274.33 142.3,274.45 141.8,274.54 141.31,274.61 140.81,274.66 140.31,274.68 139.81,274.69 139.31,274.69 138.81,274.68 138.31,274.65 137.82,274.62 137.32,274.59 136.82,274.55 136.32,274.51 135.82,274.49 135.32,274.49 134.82,274.51 134.33,274.55 133.83,274.63 133.33,274.72 132.83,274.84 132.33,274.98 131.83,275.13 131.33,275.31 130.84,275.5 130.34,275.69 129.84,275.91 129.34,276.21 128.84,276.55 128.34,276.94 127.84,277.38 127.35,277.85 126.85,278.36 126.35,278.92 125.85,279.51 125.35,280.13 124.85,280.77 124.35,281.43 123.86,282.17 123.36,283 122.86,283.9 122.36,284.88 121.86,285.9 121.36,286.96 120.86,288.05 120.37,289.13 119.87,290.22 119.37,291.29 118.87,292.38 118.37,293.49 117.87,294.63 117.37,295.79 116.88,296.97 116.38,298.17 115.88,299.4 115.38,300.65 114.88,301.98 114.38,303.35 113.88,304.34 113.39,305.23 112.89,306.03 112.39,306.77 111.89,307.43 111.39,308.04 110.89,308.6 110.39,309.13 109.9,309.63 109.4,310.12 108.9,310.56 108.4,310.97 107.9,311.33 107.4,311.63 106.9,311.86 106.41,312.05 105.91,312.22 105.41,312.37 104.91,312.5 104.41,312.61 103.91,312.71 103.41,312.79 102.91,312.85 102.42,312.9 101.92,312.94 101.42,312.97 100.92,313.01 100.42,313.05 99.92,313.1 99.42,313.17 98.93,313.25 98.43,313.34 97.93,313.45 97.43,313.58 96.93,313.73 96.43,313.89 95.93,314.08 95.44,314.32 94.94,314.64 94.44,315 93.94,315.42 93.44,315.86 92.94,316.33 92.44,316.82 91.95,317.34 91.45,317.94 90.95,318.6 90.45,319.29 89.95,320.01 89.45,320.74 88.95,321.45 88.46,322.14 87.96,322.83 87.46,323.54 86.96,324.25 86.46,325 85.96,325.8 85.46,326.61 84.97,327.42 84.47,328.26 83.97,329.11 83.47,329.98 82.97,330.83 82.47,331.68 81.97,332.5 81.48,333.27 80.98,334.03 80.48,334.78 79.98,335.51 79.48,336.22 78.98,336.91 78.48,337.56 77.99,338.16 77.49,338.62 76.99,339 76.49,339.37 75.99,339.72 75.49,340.02 74.99,340.27 74.5,340.45 74,340.55 73.5,340.59 73,340.58" fill="url(#hatch)"/>
<path d="M230.6,8.47V340.5M352.0,8.47V340.5M474.0,8.47V340.5M595.7,8.47V340.5" stroke="#fff" stroke-width="1" stroke-opacity="0.85" clip-path="url(#bca)"/>
<path d="M73.0,296.23H671.3M73.0,251.96H671.3M73.0,207.69H671.3M73.0,163.42H671.3M73.0,119.15H671.3M73.0,74.88H671.3M73.0,30.61H671.3" stroke="#222" stroke-width="1.2" stroke-dasharray="1.8 1.91" stroke-dashoffset="2.64" fill="none"/>
<path d="M192.66,8.47V340.5M312.32,8.47V340.5M431.98,8.47V340.5M551.64,8.47V340.5" stroke="#222" stroke-width="1.2" stroke-dasharray="1.8 1.91" fill="none"/>
<rect x="73.0" y="8.47" width="598.3" height="332.03" fill="none" stroke="#000" stroke-width="1.5"/>
<path d="M73.0,340.5h17.5M73.0,296.23h17.5M73.0,251.96h17.5M73.0,207.69h17.5M73.0,163.42h17.5M73.0,119.15h17.5M73.0,74.88h17.5M73.0,30.61h17.5M73,340.5v-10M102.91,340.5v-5.5M132.83,340.5v-5.5M162.75,340.5v-5.5M192.66,340.5v-10M222.57,340.5v-5.5M252.49,340.5v-5.5M282.4,340.5v-5.5M312.32,340.5v-10M342.24,340.5v-5.5M372.15,340.5v-5.5M402.06,340.5v-5.5M431.98,340.5v-10M461.89,340.5v-5.5M491.81,340.5v-5.5M521.72,340.5v-5.5M551.64,340.5v-10M581.56,340.5v-5.5M611.47,340.5v-5.5M641.38,340.5v-5.5M671.3,340.5v-10" stroke="#000" stroke-width="1.3" fill="none"/>
<polyline points="73,340.58 74,340.18 74.99,339.53 75.99,338.61 76.99,337.53 77.99,336.39 78.98,335.14 79.98,333.74 80.98,332.26 81.97,330.73 82.97,329.06 83.97,327.34 84.97,325.65 85.96,324.03 86.96,322.44 87.96,320.87 88.95,319.32 89.95,317.73 90.95,316.15 91.95,314.76 92.94,313.64 93.94,312.62 94.94,311.75 95.93,311.13 96.93,310.74 97.93,310.43 98.93,310.21 99.92,310.04 100.92,309.94 101.92,309.86 102.91,309.76 103.91,309.6 104.91,309.37 105.91,309.05 106.9,308.65 107.9,308.07 108.9,307.22 109.9,306.18 110.89,305.04 111.89,303.73 112.89,302.18 113.88,300.29 114.88,297.67 115.88,294.8 116.88,292.09 117.87,289.49 118.87,286.98 119.87,284.58 120.86,282.17 121.86,279.78 122.86,277.56 123.86,275.62 124.85,274.07 125.85,272.67 126.85,271.39 127.84,270.29 128.84,269.37 129.84,268.66 130.84,268.2 131.83,267.79 132.83,267.46 133.83,267.22 134.82,267.09 135.82,267.07 136.82,267.13 137.82,267.21 138.81,267.27 139.81,267.29 140.81,267.25 141.8,267.12 142.8,266.88 143.8,266.51 144.8,265.97 145.79,265.29 146.79,264.54 147.79,263.71 148.78,262.82 149.78,261.88 150.78,260.92 151.78,259.95 152.77,259 153.77,258.08 154.77,257.21 155.76,256.41 156.76,255.7 157.76,255.07 158.76,254.54 159.75,254.1 160.75,253.75 161.75,253.49 162.75,253.3 163.74,253.18 164.74,253.11 165.74,253.08 166.73,253.06 167.73,253.05 168.73,253.02 169.73,252.95 170.72,252.82 171.72,252.62 172.72,252.34 173.71,251.96 174.71,251.48 175.71,250.87 176.71,250.15 177.7,249.32 178.7,248.41 179.7,247.42 180.69,246.38 181.69,245.31 182.69,244.23 183.69,243.15 184.68,242.11 185.68,241.11 186.68,240.17 187.67,239.31 188.67,238.53 189.67,237.84 190.67,237.25 191.66,236.76 192.66,236.36 193.66,236.04 194.65,235.79 195.65,235.6 196.65,235.46 197.65,235.35 198.64,235.24 199.64,235.12 200.64,234.98 201.63,234.79 202.63,234.55 203.63,234.24 204.63,233.86 205.62,233.4 206.62,232.87 207.62,232.27 208.61,231.6 209.61,230.88 210.61,230.12 211.61,229.35 212.6,228.56 213.6,227.79 214.6,227.05 215.59,226.34 216.59,225.69 217.59,225.11 218.59,224.59 219.58,224.16 220.58,223.81 221.58,223.53 222.57,223.33 223.57,223.19 224.57,223.1 225.57,223.06 226.56,223.04 227.56,223.03 228.56,223.01 229.56,222.96 230.55,222.87 231.55,222.72 232.55,222.5 233.54,222.21 234.54,221.83 235.54,221.37 236.54,220.83 237.53,220.21 238.53,219.52 239.53,218.78 240.52,217.98 241.52,217.16 242.52,216.33 243.52,215.5 244.51,214.69 245.51,213.92 246.51,213.2 247.5,212.54 248.5,211.96 249.5,211.45 250.5,211.03 251.49,210.68 252.49,210.41 253.49,210.22 254.48,210.08 255.48,209.99 256.48,209.94 257.48,209.91 258.47,209.89 259.47,209.85 260.47,209.79 261.46,209.7 262.46,209.55 263.46,209.34 264.46,209.06 265.45,208.72 266.45,208.3 267.45,207.82 268.44,207.28 269.44,206.69 270.44,206.06 271.44,205.4 272.43,204.72 273.43,204.05 274.43,203.39 275.42,202.77 276.42,202.18 277.42,201.65 278.42,201.17 279.41,200.76 280.41,200.41 281.41,200.14 282.4,199.92 283.4,199.76 284.4,199.66 285.4,199.59 286.39,199.54 287.39,199.51 288.39,199.48 289.39,199.43 290.38,199.36 291.38,199.24 292.38,199.07 293.37,198.84 294.37,198.55 295.37,198.19 296.37,197.75 297.36,197.26 298.36,196.7 299.36,196.1 300.35,195.45 301.35,194.78 302.35,194.09 303.35,193.41 304.34,192.74 305.34,192.09 306.34,191.49 307.33,190.93 308.33,190.43 309.33,190 310.33,189.63 311.32,189.32 312.32,189.08 313.32,188.89 314.31,188.76 315.31,188.66 316.31,188.59 317.31,188.54 318.3,188.49 319.3,188.43 320.3,188.35 321.29,188.23 322.29,188.07 323.29,187.85 324.29,187.58 325.28,187.24 326.28,186.84 327.28,186.38 328.27,185.87 329.27,185.31 330.27,184.72 331.27,184.1 332.26,183.47 333.26,182.84 334.26,182.23 335.25,181.64 336.25,181.09 337.25,180.59 338.25,180.14 339.24,179.76 340.24,179.43 341.24,179.17 342.24,178.96 343.23,178.81 344.23,178.71 345.23,178.64 346.22,178.6 347.22,178.57 348.22,178.55 349.22,178.51 350.21,178.45 351.21,178.36 352.21,178.22 353.2,178.03 354.2,177.78 355.2,177.47 356.2,177.1 357.19,176.67 358.19,176.19 359.19,175.67 360.18,175.11 361.18,174.53 362.18,173.93 363.18,173.34 364.17,172.75 365.17,172.2 366.17,171.67 367.16,171.19 368.16,170.77 369.16,170.39 370.16,170.08 371.15,169.83 372.15,169.63 373.15,169.48 374.14,169.37 375.14,169.3 376.14,169.26 377.14,169.23 378.13,169.2 379.13,169.16 380.13,169.09 381.12,168.99 382.12,168.86 383.12,168.67 384.12,168.42 385.11,168.12 386.11,167.76 387.11,167.35 388.1,166.88 389.1,166.38 390.1,165.84 391.1,165.27 392.09,164.7 393.09,164.13 394.09,163.56 395.08,163.02 396.08,162.52 397.08,162.05 398.08,161.64 399.07,161.28 400.07,160.97 401.07,160.72 402.06,160.53 403.06,160.38 404.06,160.28 405.06,160.21 406.05,160.16 407.05,160.12 408.05,160.09 409.05,160.05 410.04,159.98 411.04,159.89 412.04,159.75 413.03,159.56 414.03,159.32 415.03,159.03 416.03,158.68 417.02,158.29 418.02,157.84 419.02,157.35 420.01,156.83 421.01,156.29 422.01,155.73 423.01,155.18 424,154.64 425,154.12 426,153.63 426.99,153.18 427.99,152.78 428.99,152.43 429.99,152.14 430.98,151.9 431.98,151.71 432.98,151.57 433.97,151.46 434.97,151.39 435.97,151.35 436.97,151.31 437.96,151.28 438.96,151.24 439.96,151.18 440.95,151.08 441.95,150.95 442.95,150.77 443.95,150.54 444.94,150.26 445.94,149.93 446.94,149.54 447.93,149.11 448.93,148.64 449.93,148.14 450.93,147.62 451.92,147.09 452.92,146.56 453.92,146.04 454.91,145.54 455.91,145.07 456.91,144.64 457.91,144.25 458.9,143.92 459.9,143.63 460.9,143.4 461.89,143.22 462.89,143.09 463.89,142.99 464.89,142.92 465.88,142.88 466.88,142.85 467.88,142.82 468.88,142.78 469.87,142.72 470.87,142.63 471.87,142.51 472.86,142.34 473.86,142.12 474.86,141.85 475.86,141.53 476.85,141.16 477.85,140.74 478.85,140.29 479.84,139.81 480.84,139.31 481.84,138.8 482.84,138.29 483.83,137.78 484.83,137.3 485.83,136.85 486.82,136.44 487.82,136.07 488.82,135.74 489.82,135.47 490.81,135.25 491.81,135.08 492.81,134.95 493.8,134.86 494.8,134.8 495.8,134.76 496.8,134.73 497.79,134.7 498.79,134.66 499.79,134.61 500.78,134.52 501.78,134.4 502.78,134.24 503.78,134.03 504.77,133.77 505.77,133.47 506.77,133.11 507.76,132.71 508.76,132.28 509.76,131.81 510.76,131.33 511.75,130.84 512.75,130.34 513.75,129.86 514.74,129.4 515.74,128.96 516.74,128.56 517.74,128.21 518.73,127.9 519.73,127.64 520.73,127.42 521.72,127.26 522.72,127.13 523.72,127.05 524.72,126.99 525.71,126.95 526.71,126.93 527.71,126.9 528.71,126.87 529.7,126.82 530.7,126.74 531.7,126.62 532.69,126.47 533.69,126.27 534.69,126.02 535.69,125.72 536.68,125.38 537.68,124.99 538.68,124.57 539.67,124.12 540.67,123.65 541.67,123.17 542.67,122.69 543.66,122.22 544.66,121.77 545.66,121.35 546.65,120.96 547.65,120.61 548.65,120.31 549.65,120.06 550.64,119.85 551.64,119.69 552.64,119.56 553.63,119.48 554.63,119.42 555.63,119.38 556.63,119.35 557.62,119.32 558.62,119.29 559.62,119.23 560.61,119.15 561.61,119.04 562.61,118.88 563.61,118.68 564.6,118.43 565.6,118.14 566.6,117.8 567.59,117.42 568.59,117 569.59,116.56 570.59,116.1 571.58,115.63 572.58,115.15 573.58,114.69 574.57,114.25 575.57,113.83 576.57,113.44 577.57,113.1 578.56,112.79 579.56,112.54 580.56,112.33 581.56,112.16 582.55,112.03 583.55,111.94 584.55,111.87 585.54,111.82 586.54,111.79 587.54,111.75 588.54,111.7 589.53,111.64 590.53,111.55 591.53,111.43 592.52,111.26 593.52,111.05 594.52,110.8 595.52,110.5 596.51,110.16 597.51,109.78 598.51,109.36 599.5,108.92 600.5,108.46 601.5,107.98 602.5,107.51 603.49,107.05 604.49,106.6 605.49,106.18 606.48,105.79 607.48,105.44 608.48,105.13 609.48,104.87 610.47,104.65 611.47,104.48 612.47,104.34 613.46,104.24 614.46,104.16 615.46,104.11 616.46,104.06 617.45,104.02 618.45,103.96 619.45,103.89 620.44,103.8 621.44,103.67 622.44,103.51 623.44,103.3 624.43,103.05 625.43,102.75 626.43,102.42 627.42,102.05 628.42,101.64 629.42,101.21 630.42,100.76 631.41,100.3 632.41,99.84 633.41,99.39 634.4,98.96 635.4,98.56 636.4,98.18 637.4,97.85 638.39,97.56 639.39,97.31 640.39,97.11 641.38,96.95 642.38,96.83 643.38,96.75 644.38,96.68 645.37,96.64 646.37,96.61 647.37,96.58 648.37,96.54 649.36,96.48 650.36,96.4 651.36,96.29 652.35,96.14 653.35,95.95 654.35,95.71 655.35,95.43 656.34,95.11 657.34,94.74 658.34,94.35 659.33,93.93 660.33,93.49 661.33,93.03 662.33,92.58 663.32,92.13 664.32,91.7 665.32,91.29 666.31,90.91 667.31,90.56 668.31,90.26 669.31,89.99 670.3,89.76 671.3,89.57" fill="none" stroke="#0000ff" stroke-width="3.8" stroke-linejoin="round" stroke-linecap="butt"/>
<path d="M72.5,119.15H671.3" stroke="#ff0000" stroke-width="3.1"/>
<path d="M72.8,207.69H671.3" stroke="#ff0000" stroke-width="2.5" stroke-dasharray="25 6"/>
<circle cx="253.51" cy="216.19" r="3.35" fill="#000"/>
<g font-family="'Liberation Sans', Arial, sans-serif" font-size="27.3" fill="#000"><text x="63.3" y="350.4" text-anchor="end">0</text><text x="63.3" y="306.13" text-anchor="end">1</text><text x="63.3" y="261.86" text-anchor="end">2</text><text x="63.3" y="217.59" text-anchor="end">3</text><text x="63.3" y="173.32" text-anchor="end">4</text><text x="63.3" y="129.05" text-anchor="end">5</text><text x="63.3" y="84.78" text-anchor="end">6</text><text x="63.3" y="40.51" text-anchor="end">7</text><text x="73.4" y="365.5" text-anchor="middle">0</text><text x="193.06" y="365.5" text-anchor="middle">2</text><text x="312.72" y="365.5" text-anchor="middle">4</text><text x="432.38" y="365.5" text-anchor="middle">6</text><text x="552.04" y="365.5" text-anchor="middle">8</text><text x="671.7" y="365.5" text-anchor="middle">10</text><text x="673.2" y="392.8" text-anchor="end" font-size="27">real time (yr)</text><text x="-1.5" y="24.9" font-size="34">a)</text><text x="134.8" y="57.7" font-size="27">[1-6] keV</text><text transform="translate(24.9,171.5) rotate(-90)" text-anchor="middle" font-size="27.0"><tspan font-weight="bold" font-size="29.2">S</tspan> (<tspan font-family="'DejaVu Sans', sans-serif" font-size="24.5">σ</tspan> C.L.)</text></g>
<clipPath id="bcb"><polygon points="73,761.47 73.5,760.98 74,760.43 74.5,759.84 74.99,759.22 75.49,758.59 75.99,757.96 76.49,757.28 76.99,756.56 77.49,755.8 77.99,755.02 78.48,754.22 78.98,753.41 79.48,752.59 79.98,751.75 80.48,750.87 80.98,749.98 81.48,749.07 81.97,748.16 82.47,747.26 82.97,746.37 83.47,745.49 83.97,744.62 84.47,743.74 84.97,742.87 85.46,742 85.96,741.15 86.46,740.31 86.96,739.48 87.46,738.63 87.96,737.77 88.46,736.92 88.95,736.11 89.45,735.35 89.95,734.67 90.45,734.09 90.95,733.54 91.45,733.01 91.95,732.51 92.44,732.05 92.94,731.65 93.44,731.31 93.94,731.05 94.44,730.84 94.94,730.66 95.44,730.49 95.93,730.34 96.43,730.21 96.93,730.11 97.43,730.03 97.93,729.97 98.43,729.92 98.93,729.88 99.42,729.85 99.92,729.82 100.42,729.78 100.92,729.73 101.42,729.67 101.92,729.58 102.42,729.45 102.91,729.29 103.41,729.1 103.91,728.89 104.41,728.65 104.91,728.4 105.41,728.09 105.91,727.7 106.41,727.23 106.9,726.7 107.4,726.12 107.9,725.51 108.4,724.87 108.9,724.2 109.4,723.46 109.9,722.66 110.39,721.78 110.89,720.82 111.39,719.8 111.89,718.7 112.39,717.48 112.89,715.95 113.39,714.52 113.88,713.12 114.38,711.74 114.88,710.37 115.38,709.02 115.88,707.7 116.38,706.39 116.88,705.1 117.37,703.84 117.87,702.6 118.37,701.34 118.87,700.05 119.37,698.76 119.87,697.49 120.37,696.26 120.86,695.1 121.36,694.03 121.86,693.06 122.36,692.23 122.86,691.5 123.36,690.82 123.86,690.16 124.35,689.54 124.85,688.96 125.35,688.43 125.85,687.95 126.35,687.51 126.85,687.12 127.35,686.77 127.84,686.47 128.34,686.24 128.84,686.02 129.34,685.81 129.84,685.61 130.34,685.43 130.84,685.28 131.33,685.14 131.83,685.04 132.33,684.96 132.83,684.92 133.33,684.9 133.83,684.9 134.33,684.94 134.82,684.98 135.32,685.03 135.82,685.07 136.32,685.11 136.82,685.14 137.32,685.16 137.82,685.17 138.31,685.16 138.81,685.13 139.31,685.07 139.81,684.99 140.31,684.89 140.81,684.74 141.31,684.57 141.8,684.35 142.3,684.09 142.8,683.78 143.3,683.42 143.8,683.07 144.3,682.69 144.8,682.3 145.29,681.88 145.79,681.44 146.29,680.98 146.79,680.5 147.29,680.01 147.79,679.51 148.29,678.99 148.78,678.47 149.28,677.95 149.78,677.43 150.28,676.9 150.78,676.38 151.28,675.87 151.78,675.36 152.27,674.87 152.77,674.39 153.27,673.92 153.77,673.47 154.27,673.05 154.77,672.64 155.27,672.25 155.76,671.89 156.26,671.55 156.76,671.23 157.26,670.94 157.76,670.68 158.26,670.44 158.76,670.22 159.25,670.03 159.75,669.86 160.25,669.71 160.75,669.59 161.25,669.48 161.75,669.39 162.25,669.32 162.75,669.26 163.24,669.22 163.74,669.18 164.24,669.15 164.74,669.13 165.24,669.11 165.74,669.09 166.24,669.07 166.73,669.04 167.23,669.01 167.73,668.96 168.23,668.9 168.73,668.83 169.23,668.74 169.73,668.63 170.22,668.5 170.72,668.35 171.22,668.18 171.72,667.98 172.22,667.75 172.72,667.5 173.22,667.21 173.71,666.89 174.21,666.54 174.71,666.16 175.21,665.75 175.71,665.32 176.21,664.87 176.71,664.39 177.2,663.9 177.7,663.38 178.2,662.85 178.7,662.31 179.2,661.75 179.7,661.19 180.2,660.62 180.69,660.05 181.19,659.48 181.69,658.92 182.19,658.35 182.69,657.8 183.19,657.26 183.69,656.73 184.18,656.22 184.68,655.73 185.18,655.26 185.68,654.8 186.18,654.37 186.68,653.97 187.18,653.59 187.67,653.24 188.17,652.91 188.67,652.61 189.17,652.34 189.67,652.09 190.17,651.87 190.67,651.68 191.16,651.51 191.66,651.36 192.16,651.24 192.66,651.14 193.16,651.06 193.66,650.99 194.16,650.94 194.65,650.89 195.15,650.86 195.65,650.83 196.15,650.81 196.65,650.79 197.15,650.77 197.65,650.74 198.14,650.71 198.64,650.67 199.14,650.62 199.64,650.56 200.14,650.48 200.64,650.39 201.14,650.27 201.63,650.14 202.13,649.99 202.63,649.82 203.13,649.62 203.63,649.4 204.13,649.17 204.63,648.91 205.12,648.62 205.62,648.32 206.12,648 206.62,647.66 207.12,647.3 207.62,646.93 208.12,646.55 208.61,646.15 209.11,645.74 209.61,645.33 210.11,644.91 210.61,644.49 211.11,644.06 211.61,643.64 212.1,643.22 212.6,642.81 213.1,642.41 213.6,642.02 214.1,641.64 214.6,641.27 215.1,640.92 215.59,640.58 216.09,640.27 216.59,639.97 217.09,639.69 217.59,639.43 218.09,639.2 218.59,638.98 219.08,638.79 219.58,638.61 220.08,638.46 220.58,638.32 221.08,638.2 221.58,638.1 222.08,638.02 222.57,637.95 223.07,637.89 223.57,637.84 224.07,637.8 224.57,637.77 225.07,637.75 225.57,637.72 226.07,637.7 226.56,637.68 227.06,637.65 227.56,637.62 228.06,637.57 228.56,637.52 229.06,637.46 229.56,637.38 230.05,637.29 230.55,637.18 231.05,637.06 231.55,636.91 232.05,636.75 232.55,636.56 233.05,636.36 233.54,636.13 234.04,635.89 234.54,635.62 235.04,635.34 235.54,635.03 236.04,634.71 236.54,634.37 237.03,634.02 237.53,633.65 238.03,633.27 238.53,632.88 239.03,632.48 239.53,632.08 240.03,631.67 240.52,631.26 241.02,630.85 241.52,630.44 242.02,630.03 242.52,629.64 243.02,629.25 243.52,628.87 244.01,628.5 244.51,628.14 245.01,627.8 245.51,627.48 246.01,627.17 246.51,626.88 247.01,626.61 247.5,626.36 248,626.13 248.5,625.92 249,625.72 249.5,625.55 250,625.4 250.5,625.26 250.99,625.14 251.49,625.04 251.99,624.95 252.49,624.88 252.99,624.82 253.49,624.77 253.99,624.73 254.48,624.69 254.98,624.66 255.48,624.64 255.98,624.61 256.48,624.58 256.98,624.55 257.48,624.52 257.97,624.48 258.47,624.43 258.97,624.37 259.47,624.3 259.97,624.21 260.47,624.11 260.97,624 261.46,623.86 261.96,623.71 262.46,623.54 262.96,623.36 263.46,623.15 263.96,622.93 264.46,622.68 264.95,622.42 265.45,622.14 265.95,621.85 266.45,621.54 266.95,621.22 267.45,620.88 267.95,620.54 268.44,620.18 268.94,619.82 269.44,619.45 269.94,619.07 270.44,618.7 270.94,618.32 271.44,617.95 271.93,617.58 272.43,617.22 272.93,616.86 273.43,616.51 273.93,616.18 274.43,615.85 274.93,615.54 275.42,615.25 275.92,614.97 276.42,614.71 276.92,614.46 277.42,614.23 277.92,614.02 278.42,613.83 278.91,613.66 279.41,613.5 279.91,613.37 280.41,613.24 280.91,613.14 281.41,613.05 281.91,612.98 282.4,612.91 282.9,612.86 283.4,612.82 283.9,612.79 284.4,612.76 284.9,612.74 285.4,612.72 285.9,612.7 286.39,612.68 286.89,612.66 287.39,612.64 287.89,612.6 288.39,612.56 288.89,612.51 289.39,612.45 289.88,612.38 290.38,612.29 290.88,612.19 291.38,612.07 291.88,611.94 292.38,611.79 292.88,611.62 293.37,611.43 293.87,611.23 294.37,611.01 294.87,610.77 295.37,610.52 295.87,610.25 296.37,609.96 296.86,609.67 297.36,609.36 297.86,609.04 298.36,608.72 298.86,608.38 299.36,608.04 299.86,607.7 300.35,607.35 300.85,607.01 301.35,606.67 301.85,606.32 302.35,605.99 302.85,605.66 303.35,605.34 303.84,605.03 304.34,604.73 304.84,604.45 305.34,604.18 305.84,603.92 306.34,603.68 306.84,603.45 307.33,603.24 307.83,603.05 308.33,602.88 308.83,602.72 309.33,602.58 309.83,602.45 310.33,602.34 310.82,602.25 311.32,602.17 311.82,602.11 312.32,602.05 312.82,602.01 313.32,601.97 313.82,601.95 314.31,601.93 314.81,601.91 315.31,601.9 315.81,601.88 316.31,601.87 316.81,601.85 317.31,601.83 317.8,601.81 318.3,601.77 318.8,601.73 319.3,601.68 319.8,601.61 320.3,601.53 320.8,601.44 321.29,601.33 321.79,601.21 322.29,601.07 322.79,600.92 323.29,600.74 323.79,600.56 324.29,600.35 324.78,600.13 325.28,599.9 325.78,599.65 326.28,599.38 326.78,599.11 327.28,598.82 327.78,598.52 328.27,598.22 328.77,597.91 329.27,597.59 329.77,597.27 330.27,596.95 330.77,596.62 331.27,596.3 331.76,595.98 332.26,595.67 332.76,595.36 333.26,595.06 333.76,594.77 334.26,594.49 334.76,594.22 335.25,593.97 335.75,593.73 336.25,593.5 336.75,593.29 337.25,593.09 337.75,592.91 338.25,592.75 338.74,592.6 339.24,592.47 339.74,592.35 340.24,592.25 340.74,592.17 341.24,592.09 341.74,592.03 342.24,591.98 342.73,591.94 343.23,591.91 343.73,591.88 344.23,591.87 344.73,591.85 345.23,591.84 345.73,591.83 346.22,591.82 346.72,591.8 347.22,591.78 347.72,591.76 348.22,591.73 348.72,591.69 349.22,591.64 349.71,591.57 350.21,591.5 350.71,591.41 351.21,591.31 351.71,591.2 352.21,591.06 352.71,590.92 353.2,590.76 353.7,590.58 354.2,590.38 354.7,590.17 355.2,589.95 355.7,589.71 356.2,589.46 356.69,589.2 357.19,588.93 357.69,588.65 358.19,588.36 358.69,588.06 359.19,587.76 359.69,587.45 360.18,587.15 360.68,586.84 361.18,586.53 361.68,586.23 362.18,585.93 362.68,585.64 363.18,585.35 363.67,585.07 364.17,584.81 364.67,584.55 365.17,584.31 365.67,584.08 366.17,583.86 366.67,583.66 367.16,583.47 367.66,583.3 368.16,583.14 368.66,583 369.16,582.87 369.66,582.76 370.16,582.66 370.65,582.58 371.15,582.51 371.65,582.45 372.15,582.4 372.65,582.36 373.15,582.33 373.65,582.3 374.14,582.29 374.64,582.27 375.14,582.26 375.64,582.25 376.14,582.23 376.64,582.22 377.14,582.2 377.63,582.17 378.13,582.14 378.63,582.1 379.13,582.05 379.63,581.99 380.13,581.92 380.63,581.84 381.12,581.74 381.62,581.62 382.12,581.5 382.62,581.36 383.12,581.2 383.62,581.03 384.12,580.84 384.61,580.64 385.11,580.43 385.61,580.2 386.11,579.96 386.61,579.71 387.11,579.45 387.61,579.18 388.1,578.9 388.6,578.62 389.1,578.33 389.6,578.03 390.1,577.74 390.6,577.44 391.1,577.15 391.59,576.86 392.09,576.57 392.59,576.29 393.09,576.02 393.59,575.75 394.09,575.49 394.59,575.25 395.08,575.01 395.58,574.79 396.08,574.58 396.58,574.39 397.08,574.21 397.58,574.04 398.08,573.89 398.57,573.75 399.07,573.63 399.57,573.52 400.07,573.43 400.57,573.35 401.07,573.28 401.57,573.22 402.06,573.17 402.56,573.13 403.06,573.1 403.56,573.07 404.06,573.05 404.56,573.04 405.06,573.02 405.56,573.01 406.05,573 406.55,572.98 407.05,572.96 407.55,572.94 408.05,572.9 408.55,572.87 409.05,572.82 409.54,572.76 410.04,572.69 410.54,572.6 411.04,572.51 411.54,572.4 412.04,572.28 412.54,572.14 413.03,571.99 413.53,571.83 414.03,571.65 414.53,571.45 415.03,571.25 415.53,571.03 416.03,570.8 416.52,570.56 417.02,570.3 417.52,570.04 418.02,569.78 418.52,569.5 419.02,569.22 419.52,568.94 420.01,568.66 420.51,568.37 421.01,568.09 421.51,567.81 422.01,567.53 422.51,567.26 423.01,567 423.5,566.74 424,566.49 424.5,566.26 425,566.03 425.5,565.82 426,565.62 426.5,565.43 426.99,565.25 427.49,565.09 427.99,564.95 428.49,564.81 428.99,564.69 429.49,564.59 429.99,564.5 430.48,564.42 430.98,564.35 431.48,564.29 431.98,564.24 432.48,564.2 432.98,564.17 433.48,564.15 433.97,564.13 434.47,564.11 434.97,564.1 435.47,564.08 435.97,564.07 436.47,564.05 436.97,564.03 437.46,564.01 437.96,563.98 438.46,563.94 438.96,563.89 439.46,563.83 439.96,563.76 440.46,563.68 440.95,563.59 441.45,563.48 441.95,563.37 442.45,563.23 442.95,563.09 443.45,562.93 443.95,562.75 444.44,562.57 444.94,562.37 445.44,562.16 445.94,561.93 446.44,561.7 446.94,561.46 447.44,561.21 447.93,560.95 448.43,560.68 448.93,560.41 449.43,560.14 449.93,559.87 450.43,559.59 450.93,559.32 451.42,559.05 451.92,558.78 452.42,558.52 452.92,558.26 453.42,558.02 453.92,557.78 454.42,557.55 454.91,557.33 455.41,557.12 455.91,556.93 456.41,556.75 456.91,556.58 457.41,556.42 457.91,556.28 458.4,556.15 458.9,556.03 459.4,555.93 459.9,555.84 460.4,555.76 460.9,555.7 461.4,555.64 461.89,555.6 462.39,555.56 462.89,555.53 463.39,555.5 463.89,555.48 464.39,555.46 464.89,555.45 465.39,555.43 465.88,555.42 466.38,555.4 466.88,555.38 467.38,555.36 467.88,555.33 468.38,555.29 468.88,555.24 469.37,555.18 469.87,555.12 470.37,555.04 470.87,554.95 471.37,554.85 471.87,554.73 472.37,554.6 472.86,554.46 473.36,554.31 473.86,554.14 474.36,553.96 474.86,553.76 475.36,553.56 475.86,553.34 476.35,553.12 476.85,552.88 477.35,552.64 477.85,552.39 478.35,552.13 478.85,551.87 479.35,551.61 479.84,551.35 480.34,551.08 480.84,550.82 481.34,550.55 481.84,550.29 482.34,550.04 482.84,549.79 483.33,549.55 483.83,549.32 484.33,549.1 484.83,548.89 485.33,548.69 485.83,548.5 486.33,548.32 486.82,548.16 487.32,548.01 487.82,547.87 488.32,547.74 488.82,547.63 489.32,547.53 489.82,547.44 490.31,547.37 490.81,547.3 491.31,547.25 491.81,547.2 492.31,547.16 492.81,547.13 493.31,547.11 493.8,547.09 494.3,547.07 494.8,547.06 495.3,547.04 495.8,547.03 496.3,547.01 496.8,546.99 497.29,546.97 497.79,546.93 498.29,546.9 498.79,546.85 499.29,546.79 499.79,546.73 500.29,546.65 500.78,546.57 501.28,546.47 501.78,546.35 502.28,546.23 502.78,546.09 503.28,545.94 503.78,545.78 504.27,545.6 504.77,545.42 505.27,545.22 505.77,545.01 506.27,544.79 506.77,544.56 507.27,544.33 507.76,544.08 508.26,543.84 508.76,543.58 509.26,543.33 509.76,543.07 510.26,542.81 510.76,542.56 511.25,542.3 511.75,542.05 512.25,541.81 512.75,541.57 513.25,541.33 513.75,541.11 514.25,540.89 514.74,540.69 515.24,540.49 515.74,540.31 516.24,540.14 516.74,539.98 517.24,539.83 517.74,539.7 518.23,539.58 518.73,539.47 519.23,539.37 519.73,539.29 520.23,539.21 520.73,539.15 521.23,539.1 521.72,539.05 522.22,539.01 522.72,538.98 523.22,538.96 523.72,538.94 524.22,538.92 524.72,538.91 525.22,538.89 525.71,538.88 526.21,538.86 526.71,538.84 527.21,538.82 527.71,538.79 528.21,538.75 528.71,538.7 529.2,538.65 529.7,538.59 530.2,538.51 530.7,538.43 531.2,538.33 531.7,538.22 532.2,538.1 532.69,537.97 533.19,537.82 533.69,537.66 534.19,537.49 534.69,537.31 535.19,537.12 535.69,536.91 536.18,536.7 536.68,536.48 537.18,536.25 537.68,536.02 538.18,535.77 538.68,535.53 539.18,535.28 539.67,535.03 540.17,534.78 540.67,534.53 541.17,534.29 541.67,534.04 542.17,533.8 542.67,533.57 543.16,533.34 543.66,533.13 544.16,532.92 544.66,532.72 545.16,532.53 545.66,532.35 546.16,532.18 546.65,532.03 547.15,531.88 547.65,531.75 548.15,531.63 548.65,531.53 549.15,531.43 549.65,531.35 550.14,531.28 550.64,531.22 551.14,531.16 551.64,531.12 552.14,531.08 552.64,531.05 553.14,531.03 553.63,531.01 554.13,530.99 554.63,530.98 555.13,530.96 555.63,530.95 556.13,530.93 556.63,530.91 557.12,530.88 557.62,530.85 558.12,530.82 558.62,530.77 559.12,530.72 559.62,530.66 560.12,530.58 560.61,530.5 561.11,530.41 561.61,530.3 562.11,530.18 562.61,530.05 563.11,529.91 563.61,529.75 564.1,529.59 564.6,529.41 565.1,529.22 565.6,529.03 566.1,528.82 566.6,528.6 567.1,528.38 567.59,528.15 568.09,527.92 568.59,527.68 569.09,527.44 569.59,527.19 570.09,526.95 570.59,526.71 571.08,526.47 571.58,526.23 572.08,526 572.58,525.77 573.08,525.55 573.58,525.33 574.08,525.13 574.57,524.94 575.07,524.75 575.57,524.58 576.07,524.41 576.57,524.26 577.07,524.12 577.57,523.99 578.06,523.88 578.56,523.77 579.06,523.68 579.56,523.6 580.06,523.53 580.56,523.47 581.06,523.41 581.56,523.37 582.05,523.33 582.55,523.3 583.05,523.28 583.55,523.26 584.05,523.24 584.55,523.23 585.05,523.21 585.54,523.19 586.04,523.18 586.54,523.16 587.04,523.13 587.54,523.1 588.04,523.06 588.54,523.02 589.03,522.97 589.53,522.91 590.03,522.83 590.53,522.75 591.03,522.66 591.53,522.55 592.03,522.44 592.52,522.31 593.02,522.17 593.52,522.02 594.02,521.86 594.52,521.68 595.02,521.5 595.52,521.31 596.01,521.1 596.51,520.89 597.01,520.68 597.51,520.45 598.01,520.22 598.51,519.99 599.01,519.75 599.5,519.52 600,519.28 600.5,519.04 601,518.8 601.5,518.57 602,518.35 602.5,518.12 602.99,517.91 603.49,517.7 603.99,517.5 604.49,517.31 604.99,517.13 605.49,516.96 605.99,516.8 606.48,516.65 606.98,516.51 607.48,516.38 607.98,516.27 608.48,516.17 608.98,516.08 609.48,515.99 609.97,515.92 610.47,515.86 610.97,515.81 611.47,515.77 611.97,515.73 612.47,515.7 612.97,515.67 613.46,515.65 613.96,515.64 614.46,515.62 614.96,515.6 615.46,515.59 615.96,515.57 616.46,515.55 616.95,515.52 617.45,515.49 617.95,515.45 618.45,515.41 618.95,515.36 619.45,515.3 619.95,515.22 620.44,515.14 620.94,515.05 621.44,514.95 621.94,514.83 622.44,514.71 622.94,514.57 623.44,514.42 623.93,514.26 624.43,514.09 624.93,513.91 625.43,513.72 625.93,513.52 626.43,513.32 626.93,513.1 627.42,512.88 627.92,512.66 628.42,512.43 628.92,512.2 629.42,511.97 629.92,511.73 630.42,511.5 630.91,511.27 631.41,511.04 631.91,510.82 632.41,510.6 632.91,510.39 633.41,510.18 633.91,509.99 634.4,509.8 634.9,509.62 635.4,509.45 635.9,509.3 636.4,509.15 636.9,509.01 637.4,508.89 637.89,508.78 638.39,508.68 638.89,508.59 639.39,508.5 639.89,508.43 640.39,508.37 640.89,508.32 641.38,508.28 641.88,508.24 642.38,508.21 642.88,508.18 643.38,508.16 643.88,508.14 644.38,508.12 644.88,508.11 645.37,508.09 645.87,508.07 646.37,508.05 646.87,508.02 647.37,507.99 647.87,507.95 648.37,507.91 648.86,507.85 649.36,507.79 649.86,507.72 650.36,507.64 650.86,507.55 651.36,507.45 651.86,507.33 652.35,507.21 652.85,507.07 653.35,506.93 653.85,506.77 654.35,506.6 654.85,506.42 655.35,506.24 655.84,506.04 656.34,505.84 656.84,505.63 657.34,505.41 657.84,505.19 658.34,504.97 658.84,504.74 659.33,504.51 659.83,504.28 660.33,504.05 660.83,503.83 661.33,503.6 661.83,503.38 662.33,503.17 662.82,502.96 663.32,502.76 663.82,502.56 664.32,502.38 664.82,502.2 665.32,502.04 665.82,501.88 666.31,501.74 666.81,501.6 667.31,501.48 667.81,501.37 668.31,501.27 668.81,501.18 669.31,501.11 669.8,501.11 669.8,540.95 669.31,541.05 668.81,541.15 668.31,541.27 667.81,541.39 667.31,541.52 666.81,541.66 666.31,541.81 665.82,541.97 665.32,542.13 664.82,542.3 664.32,542.48 663.82,542.66 663.32,542.85 662.82,543.04 662.33,543.23 661.83,543.42 661.33,543.62 660.83,543.81 660.33,544 659.83,544.19 659.33,544.38 658.84,544.56 658.34,544.73 657.84,544.9 657.34,545.07 656.84,545.22 656.34,545.37 655.84,545.51 655.35,545.64 654.85,545.76 654.35,545.87 653.85,545.98 653.35,546.07 652.85,546.15 652.35,546.23 651.86,546.29 651.36,546.35 650.86,546.4 650.36,546.44 649.86,546.48 649.36,546.51 648.86,546.53 648.37,546.55 647.87,546.57 647.37,546.58 646.87,546.6 646.37,546.61 645.87,546.63 645.37,546.64 644.88,546.66 644.38,546.68 643.88,546.71 643.38,546.74 642.88,546.78 642.38,546.82 641.88,546.87 641.38,546.93 640.89,547 640.39,547.08 639.89,547.17 639.39,547.26 638.89,547.37 638.39,547.49 637.89,547.61 637.4,547.74 636.9,547.89 636.4,548.04 635.9,548.2 635.4,548.37 634.9,548.54 634.4,548.72 633.91,548.9 633.41,549.09 632.91,549.29 632.41,549.48 631.91,549.68 631.41,549.88 630.91,550.07 630.42,550.27 629.92,550.46 629.42,550.65 628.92,550.83 628.42,551.01 627.92,551.18 627.42,551.35 626.93,551.51 626.43,551.66 625.93,551.8 625.43,551.93 624.93,552.06 624.43,552.17 623.93,552.27 623.44,552.37 622.94,552.45 622.44,552.53 621.94,552.59 621.44,552.65 620.94,552.7 620.44,552.74 619.95,552.78 619.45,552.81 618.95,552.83 618.45,552.85 617.95,552.87 617.45,552.88 616.95,552.89 616.46,552.91 615.96,552.92 615.46,552.93 614.96,552.95 614.46,552.97 613.96,553 613.46,553.03 612.97,553.07 612.47,553.11 611.97,553.16 611.47,553.22 610.97,553.29 610.47,553.37 609.97,553.46 609.48,553.56 608.98,553.66 608.48,553.78 607.98,553.91 607.48,554.05 606.98,554.19 606.48,554.35 605.99,554.51 605.49,554.68 604.99,554.86 604.49,555.04 603.99,555.23 603.49,555.42 602.99,555.62 602.5,555.82 602,556.02 601.5,556.22 601,556.42 600.5,556.62 600,556.81 599.5,557.01 599.01,557.19 598.51,557.38 598.01,557.55 597.51,557.72 597.01,557.88 596.51,558.04 596.01,558.18 595.52,558.32 595.02,558.44 594.52,558.56 594.02,558.66 593.52,558.76 593.02,558.85 592.52,558.92 592.03,558.99 591.53,559.05 591.03,559.1 590.53,559.14 590.03,559.17 589.53,559.2 589.03,559.23 588.54,559.24 588.04,559.26 587.54,559.27 587.04,559.29 586.54,559.3 586.04,559.31 585.54,559.32 585.05,559.34 584.55,559.36 584.05,559.39 583.55,559.42 583.05,559.46 582.55,559.5 582.05,559.55 581.56,559.61 581.06,559.68 580.56,559.76 580.06,559.85 579.56,559.95 579.06,560.06 578.56,560.18 578.06,560.31 577.57,560.45 577.07,560.6 576.57,560.76 576.07,560.92 575.57,561.1 575.07,561.28 574.57,561.47 574.08,561.66 573.58,561.86 573.08,562.06 572.58,562.26 572.08,562.47 571.58,562.67 571.08,562.88 570.59,563.08 570.09,563.28 569.59,563.48 569.09,563.67 568.59,563.86 568.09,564.04 567.59,564.21 567.1,564.38 566.6,564.54 566.1,564.68 565.6,564.82 565.1,564.95 564.6,565.07 564.1,565.18 563.61,565.27 563.11,565.36 562.61,565.44 562.11,565.51 561.61,565.57 561.11,565.62 560.61,565.66 560.12,565.69 559.62,565.72 559.12,565.75 558.62,565.77 558.12,565.78 557.62,565.79 557.12,565.81 556.63,565.82 556.13,565.83 555.63,565.84 555.13,565.86 554.63,565.88 554.13,565.91 553.63,565.94 553.14,565.97 552.64,566.02 552.14,566.07 551.64,566.14 551.14,566.21 550.64,566.29 550.14,566.38 549.65,566.48 549.15,566.59 548.65,566.72 548.15,566.85 547.65,566.99 547.15,567.14 546.65,567.31 546.16,567.48 545.66,567.65 545.16,567.84 544.66,568.03 544.16,568.23 543.66,568.43 543.16,568.64 542.67,568.85 542.17,569.06 541.67,569.27 541.17,569.48 540.67,569.69 540.17,569.9 539.67,570.1 539.18,570.3 538.68,570.49 538.18,570.68 537.68,570.85 537.18,571.02 536.68,571.19 536.18,571.34 535.69,571.48 535.19,571.61 534.69,571.73 534.19,571.84 533.69,571.94 533.19,572.03 532.69,572.11 532.2,572.18 531.7,572.24 531.2,572.29 530.7,572.33 530.2,572.37 529.7,572.4 529.2,572.42 528.71,572.44 528.21,572.46 527.71,572.47 527.21,572.48 526.71,572.49 526.21,572.51 525.71,572.52 525.22,572.54 524.72,572.56 524.22,572.58 523.72,572.61 523.22,572.65 522.72,572.7 522.22,572.75 521.72,572.82 521.23,572.89 520.73,572.97 520.23,573.07 519.73,573.17 519.23,573.29 518.73,573.41 518.23,573.55 517.74,573.7 517.24,573.85 516.74,574.02 516.24,574.19 515.74,574.38 515.24,574.57 514.74,574.77 514.25,574.97 513.75,575.18 513.25,575.39 512.75,575.61 512.25,575.83 511.75,576.04 511.25,576.26 510.76,576.48 510.26,576.69 509.76,576.9 509.26,577.1 508.76,577.3 508.26,577.49 507.76,577.68 507.27,577.85 506.77,578.02 506.27,578.17 505.77,578.32 505.27,578.45 504.77,578.58 504.27,578.69 503.78,578.79 503.28,578.89 502.78,578.97 502.28,579.04 501.78,579.1 501.28,579.15 500.78,579.2 500.29,579.24 499.79,579.27 499.29,579.29 498.79,579.31 498.29,579.32 497.79,579.34 497.29,579.35 496.8,579.36 496.3,579.37 495.8,579.39 495.3,579.4 494.8,579.42 494.3,579.45 493.8,579.48 493.31,579.52 492.81,579.57 492.31,579.63 491.81,579.69 491.31,579.77 490.81,579.85 490.31,579.95 489.82,580.06 489.32,580.18 488.82,580.31 488.32,580.45 487.82,580.6 487.32,580.76 486.82,580.93 486.33,581.11 485.83,581.3 485.33,581.5 484.83,581.7 484.33,581.91 483.83,582.13 483.33,582.35 482.84,582.57 482.34,582.8 481.84,583.02 481.34,583.24 480.84,583.47 480.34,583.69 479.84,583.9 479.35,584.11 478.85,584.32 478.35,584.51 477.85,584.7 477.35,584.88 476.85,585.06 476.35,585.22 475.86,585.37 475.36,585.51 474.86,585.64 474.36,585.75 473.86,585.86 473.36,585.95 472.86,586.04 472.37,586.11 471.87,586.18 471.37,586.23 470.87,586.28 470.37,586.31 469.87,586.34 469.37,586.37 468.88,586.39 468.38,586.4 467.88,586.42 467.38,586.43 466.88,586.44 466.38,586.45 465.88,586.46 465.39,586.48 464.89,586.5 464.39,586.53 463.89,586.56 463.39,586.6 462.89,586.65 462.39,586.71 461.89,586.78 461.4,586.85 460.9,586.94 460.4,587.04 459.9,587.15 459.4,587.27 458.9,587.41 458.4,587.55 457.91,587.71 457.41,587.88 456.91,588.05 456.41,588.24 455.91,588.44 455.41,588.64 454.91,588.85 454.42,589.07 453.92,589.29 453.42,589.52 452.92,589.75 452.42,589.98 451.92,590.21 451.42,590.45 450.93,590.68 450.43,590.9 449.93,591.13 449.43,591.34 448.93,591.55 448.43,591.76 447.93,591.95 447.44,592.14 446.94,592.32 446.44,592.49 445.94,592.64 445.44,592.79 444.94,592.92 444.44,593.04 443.95,593.15 443.45,593.25 442.95,593.33 442.45,593.41 441.95,593.47 441.45,593.53 440.95,593.58 440.46,593.61 439.96,593.64 439.46,593.67 438.96,593.69 438.46,593.7 437.96,593.72 437.46,593.73 436.97,593.74 436.47,593.75 435.97,593.76 435.47,593.78 434.97,593.8 434.47,593.83 433.97,593.86 433.48,593.9 432.98,593.95 432.48,594.01 431.98,594.08 431.48,594.16 430.98,594.25 430.48,594.36 429.99,594.47 429.49,594.6 428.99,594.73 428.49,594.88 427.99,595.05 427.49,595.22 426.99,595.4 426.5,595.59 426,595.8 425.5,596.01 425,596.23 424.5,596.45 424,596.68 423.5,596.92 423.01,597.16 422.51,597.4 422.01,597.64 421.51,597.88 421.01,598.12 420.51,598.35 420.01,598.58 419.52,598.81 419.02,599.03 418.52,599.24 418.02,599.44 417.52,599.64 417.02,599.82 416.52,599.99 416.03,600.15 415.53,600.3 415.03,600.44 414.53,600.57 414.03,600.68 413.53,600.78 413.03,600.87 412.54,600.95 412.04,601.01 411.54,601.07 411.04,601.12 410.54,601.16 410.04,601.19 409.54,601.21 409.05,601.23 408.55,601.25 408.05,601.26 407.55,601.27 407.05,601.28 406.55,601.29 406.05,601.31 405.56,601.32 405.06,601.34 404.56,601.37 404.06,601.4 403.56,601.45 403.06,601.5 402.56,601.56 402.06,601.63 401.57,601.71 401.07,601.8 400.57,601.91 400.07,602.03 399.57,602.16 399.07,602.3 398.57,602.46 398.08,602.62 397.58,602.8 397.08,602.99 396.58,603.19 396.08,603.4 395.58,603.62 395.08,603.85 394.59,604.08 394.09,604.32 393.59,604.57 393.09,604.82 392.59,605.07 392.09,605.32 391.59,605.57 391.1,605.81 390.6,606.06 390.1,606.3 389.6,606.53 389.1,606.76 388.6,606.98 388.1,607.19 387.61,607.39 387.11,607.58 386.61,607.76 386.11,607.93 385.61,608.09 385.11,608.23 384.61,608.36 384.12,608.48 383.62,608.58 383.12,608.67 382.62,608.75 382.12,608.82 381.62,608.88 381.12,608.93 380.63,608.97 380.13,609 379.63,609.02 379.13,609.04 378.63,609.06 378.13,609.07 377.63,609.08 377.14,609.09 376.64,609.1 376.14,609.11 375.64,609.13 375.14,609.15 374.64,609.18 374.14,609.21 373.65,609.25 373.15,609.31 372.65,609.37 372.15,609.44 371.65,609.53 371.15,609.62 370.65,609.73 370.16,609.85 369.66,609.99 369.16,610.14 368.66,610.3 368.16,610.47 367.66,610.66 367.16,610.86 366.67,611.07 366.17,611.29 365.67,611.51 365.17,611.75 364.67,611.99 364.17,612.24 363.67,612.5 363.18,612.76 362.68,613.02 362.18,613.28 361.68,613.54 361.18,613.8 360.68,614.05 360.18,614.3 359.69,614.55 359.19,614.79 358.69,615.02 358.19,615.24 357.69,615.45 357.19,615.64 356.69,615.83 356.2,616.01 355.7,616.17 355.2,616.32 354.7,616.45 354.2,616.57 353.7,616.68 353.2,616.78 352.71,616.86 352.21,616.93 351.71,616.99 351.21,617.04 350.71,617.08 350.21,617.11 349.71,617.14 349.22,617.16 348.72,617.17 348.22,617.18 347.72,617.19 347.22,617.2 346.72,617.21 346.22,617.22 345.73,617.24 345.23,617.26 344.73,617.29 344.23,617.32 343.73,617.36 343.23,617.42 342.73,617.48 342.24,617.56 341.74,617.65 341.24,617.75 340.74,617.86 340.24,617.99 339.74,618.13 339.24,618.28 338.74,618.45 338.25,618.63 337.75,618.83 337.25,619.04 336.75,619.26 336.25,619.49 335.75,619.72 335.25,619.97 334.76,620.23 334.26,620.49 333.76,620.76 333.26,621.03 332.76,621.3 332.26,621.58 331.76,621.85 331.27,622.12 330.77,622.39 330.27,622.66 329.77,622.92 329.27,623.17 328.77,623.41 328.27,623.64 327.78,623.86 327.28,624.07 326.78,624.27 326.28,624.45 325.78,624.62 325.28,624.78 324.78,624.92 324.29,625.05 323.79,625.17 323.29,625.27 322.79,625.35 322.29,625.43 321.79,625.49 321.29,625.55 320.8,625.59 320.3,625.62 319.8,625.65 319.3,625.67 318.8,625.69 318.3,625.7 317.8,625.71 317.31,625.72 316.81,625.73 316.31,625.75 315.81,625.76 315.31,625.79 314.81,625.82 314.31,625.85 313.82,625.9 313.32,625.96 312.82,626.03 312.32,626.11 311.82,626.2 311.32,626.31 310.82,626.43 310.33,626.57 309.83,626.72 309.33,626.89 308.83,627.07 308.33,627.26 307.83,627.47 307.33,627.69 306.84,627.92 306.34,628.17 305.84,628.42 305.34,628.69 304.84,628.96 304.34,629.24 303.84,629.53 303.35,629.82 302.85,630.11 302.35,630.41 301.85,630.7 301.35,630.99 300.85,631.28 300.35,631.56 299.86,631.84 299.36,632.11 298.86,632.36 298.36,632.61 297.86,632.85 297.36,633.08 296.86,633.29 296.37,633.49 295.87,633.67 295.37,633.84 294.87,634 294.37,634.14 293.87,634.26 293.37,634.37 292.88,634.47 292.38,634.56 291.88,634.63 291.38,634.69 290.88,634.74 290.38,634.78 289.88,634.81 289.39,634.83 288.89,634.85 288.39,634.87 287.89,634.89 287.39,634.9 286.89,634.92 286.39,634.94 285.9,634.96 285.4,634.99 284.9,635.02 284.4,635.07 283.9,635.12 283.4,635.19 282.9,635.27 282.4,635.36 281.91,635.46 281.41,635.58 280.91,635.72 280.41,635.87 279.91,636.03 279.41,636.21 278.91,636.41 278.42,636.62 277.92,636.85 277.42,637.09 276.92,637.34 276.42,637.61 275.92,637.89 275.42,638.17 274.93,638.47 274.43,638.77 273.93,639.09 273.43,639.4 272.93,639.72 272.43,640.04 271.93,640.36 271.44,640.67 270.94,640.99 270.44,641.29 269.94,641.6 269.44,641.89 268.94,642.17 268.44,642.44 267.95,642.7 267.45,642.95 266.95,643.19 266.45,643.4 265.95,643.61 265.45,643.79 264.95,643.97 264.46,644.12 263.96,644.26 263.46,644.39 262.96,644.5 262.46,644.59 261.96,644.67 261.46,644.74 260.97,644.8 260.47,644.85 259.97,644.89 259.47,644.92 258.97,644.95 258.47,644.98 257.97,645 257.48,645.02 256.98,645.04 256.48,645.07 255.98,645.1 255.48,645.13 254.98,645.18 254.48,645.23 253.99,645.29 253.49,645.37 252.99,645.46 252.49,645.56 251.99,645.68 251.49,645.81 250.99,645.96 250.5,646.13 250,646.31 249.5,646.51 249,646.73 248.5,646.96 248,647.21 247.5,647.48 247.01,647.76 246.51,648.05 246.01,648.35 245.51,648.67 245.01,648.99 244.51,649.33 244.01,649.67 243.52,650.01 243.02,650.36 242.52,650.71 242.02,651.06 241.52,651.41 241.02,651.75 240.52,652.09 240.03,652.42 239.53,652.74 239.03,653.05 238.53,653.35 238.03,653.63 237.53,653.91 237.03,654.16 236.54,654.4 236.04,654.62 235.54,654.83 235.04,655.02 234.54,655.19 234.04,655.34 233.54,655.48 233.05,655.6 232.55,655.7 232.05,655.79 231.55,655.86 231.05,655.93 230.55,655.98 230.05,656.02 229.56,656.05 229.06,656.08 228.56,656.1 228.06,656.12 227.56,656.14 227.06,656.16 226.56,656.18 226.07,656.21 225.57,656.24 225.07,656.28 224.57,656.33 224.07,656.4 223.57,656.47 223.07,656.56 222.57,656.66 222.08,656.78 221.58,656.91 221.08,657.07 220.58,657.24 220.08,657.42 219.58,657.63 219.08,657.85 218.59,658.09 218.09,658.35 217.59,658.62 217.09,658.91 216.59,659.21 216.09,659.52 215.59,659.85 215.1,660.19 214.6,660.53 214.1,660.88 213.6,661.24 213.1,661.6 212.6,661.96 212.1,662.32 211.61,662.68 211.11,663.03 210.61,663.37 210.11,663.71 209.61,664.04 209.11,664.35 208.61,664.65 208.12,664.94 207.62,665.21 207.12,665.46 206.62,665.7 206.12,665.91 205.62,666.11 205.12,666.29 204.63,666.46 204.13,666.6 203.63,666.72 203.13,666.83 202.63,666.93 202.13,667 201.63,667.07 201.14,667.12 200.64,667.16 200.14,667.19 199.64,667.22 199.14,667.24 198.64,667.25 198.14,667.27 197.65,667.29 197.15,667.31 196.65,667.34 196.15,667.38 195.65,667.43 195.15,667.49 194.65,667.56 194.16,667.65 193.66,667.76 193.16,667.88 192.66,668.03 192.16,668.2 191.66,668.39 191.16,668.61 190.67,668.84 190.17,669.1 189.67,669.39 189.17,669.69 188.67,670.02 188.17,670.37 187.67,670.74 187.18,671.13 186.68,671.53 186.18,671.96 185.68,672.4 185.18,672.85 184.68,673.31 184.18,673.78 183.69,674.26 183.19,674.75 182.69,675.23 182.19,675.72 181.69,676.2 181.19,676.68 180.69,677.15 180.2,677.61 179.7,678.06 179.2,678.5 178.7,678.92 178.2,679.32 177.7,679.7 177.2,680.07 176.71,680.41 176.21,680.72 175.71,681.02 175.21,681.28 174.71,681.53 174.21,681.74 173.71,681.93 173.22,682.09 172.72,682.24 172.22,682.36 171.72,682.47 171.22,682.56 170.72,682.63 170.22,682.69 169.73,682.73 169.23,682.77 168.73,682.8 168.23,682.82 167.73,682.84 167.23,682.85 166.73,682.87 166.24,682.89 165.74,682.92 165.24,682.95 164.74,682.99 164.24,683.04 163.74,683.1 163.24,683.18 162.75,683.27 162.25,683.38 161.75,683.51 161.25,683.66 160.75,683.83 160.25,684.02 159.75,684.23 159.25,684.46 158.76,684.71 158.26,684.98 157.76,685.27 157.26,685.59 156.76,685.92 156.26,686.27 155.76,686.64 155.27,687.03 154.77,687.42 154.27,687.84 153.77,688.26 153.27,688.69 152.77,689.13 152.27,689.58 151.78,690.02 151.28,690.47 150.78,690.92 150.28,691.36 149.78,691.79 149.28,692.22 148.78,692.64 148.29,693.04 147.79,693.43 147.29,693.8 146.79,694.16 146.29,694.49 145.79,694.81 145.29,695.11 144.8,695.41 144.3,695.66 143.8,695.88 143.3,696.05 142.8,696.2 142.3,696.31 141.8,696.4 141.31,696.46 140.81,696.5 140.31,696.53 139.81,696.53 139.31,696.52 138.81,696.5 138.31,696.48 137.82,696.44 137.32,696.41 136.82,696.37 136.32,696.33 135.82,696.3 135.32,696.3 134.82,696.32 134.33,696.37 133.83,696.44 133.33,696.53 132.83,696.65 132.33,696.78 131.83,696.94 131.33,697.11 130.84,697.29 130.34,697.48 129.84,697.69 129.34,697.95 128.84,698.25 128.34,698.6 127.84,698.98 127.35,699.4 126.85,699.85 126.35,700.36 125.85,700.89 125.35,701.46 124.85,702.05 124.35,702.68 123.86,703.42 123.36,704.26 122.86,705.2 122.36,706.2 121.86,707.26 121.36,708.34 120.86,709.44 120.37,710.54 119.87,711.61 119.37,712.67 118.87,713.76 118.37,714.86 117.87,715.98 117.37,717.12 116.88,718.27 116.38,719.44 115.88,720.62 115.38,721.81 114.88,723.07 114.38,724.33 113.88,725.33 113.39,726.26 112.89,727.12 112.39,727.93 111.89,728.67 111.39,729.34 110.89,729.96 110.39,730.52 109.9,731.07 109.4,731.59 108.9,732.07 108.4,732.51 107.9,732.9 107.4,733.22 106.9,733.47 106.41,733.68 105.91,733.88 105.41,734.06 104.91,734.21 104.41,734.34 103.91,734.45 103.41,734.52 102.91,734.57 102.42,734.61 101.92,734.64 101.42,734.67 100.92,734.7 100.42,734.73 99.92,734.77 99.42,734.82 98.93,734.9 98.43,734.99 97.93,735.1 97.43,735.23 96.93,735.38 96.43,735.54 95.93,735.72 95.44,735.96 94.94,736.26 94.44,736.61 93.94,737.01 93.44,737.44 92.94,737.9 92.44,738.37 91.95,738.89 91.45,739.48 90.95,740.14 90.45,740.84 89.95,741.57 89.45,742.3 88.95,743.07 88.46,743.84 87.96,744.62 87.46,745.42 86.96,746.22 86.46,747.03 85.96,747.85 85.46,748.67 84.97,749.48 84.47,750.31 83.97,751.15 83.47,751.99 82.97,752.83 82.47,753.66 81.97,754.47 81.48,755.24 80.98,756 80.48,756.75 79.98,757.5 79.48,758.22 78.98,758.91 78.48,759.57 77.99,760.2 77.49,760.67 76.99,761.07 76.49,761.46 75.99,761.82 75.49,762.13 74.99,762.39 74.5,762.57 74,762.67 73.5,762.7 73,762.68"/></clipPath>
<polygon points="73,761.47 73.5,760.98 74,760.43 74.5,759.84 74.99,759.22 75.49,758.59 75.99,757.96 76.49,757.28 76.99,756.56 77.49,755.8 77.99,755.02 78.48,754.22 78.98,753.41 79.48,752.59 79.98,751.75 80.48,750.87 80.98,749.98 81.48,749.07 81.97,748.16 82.47,747.26 82.97,746.37 83.47,745.49 83.97,744.62 84.47,743.74 84.97,742.87 85.46,742 85.96,741.15 86.46,740.31 86.96,739.48 87.46,738.63 87.96,737.77 88.46,736.92 88.95,736.11 89.45,735.35 89.95,734.67 90.45,734.09 90.95,733.54 91.45,733.01 91.95,732.51 92.44,732.05 92.94,731.65 93.44,731.31 93.94,731.05 94.44,730.84 94.94,730.66 95.44,730.49 95.93,730.34 96.43,730.21 96.93,730.11 97.43,730.03 97.93,729.97 98.43,729.92 98.93,729.88 99.42,729.85 99.92,729.82 100.42,729.78 100.92,729.73 101.42,729.67 101.92,729.58 102.42,729.45 102.91,729.29 103.41,729.1 103.91,728.89 104.41,728.65 104.91,728.4 105.41,728.09 105.91,727.7 106.41,727.23 106.9,726.7 107.4,726.12 107.9,725.51 108.4,724.87 108.9,724.2 109.4,723.46 109.9,722.66 110.39,721.78 110.89,720.82 111.39,719.8 111.89,718.7 112.39,717.48 112.89,715.95 113.39,714.52 113.88,713.12 114.38,711.74 114.88,710.37 115.38,709.02 115.88,707.7 116.38,706.39 116.88,705.1 117.37,703.84 117.87,702.6 118.37,701.34 118.87,700.05 119.37,698.76 119.87,697.49 120.37,696.26 120.86,695.1 121.36,694.03 121.86,693.06 122.36,692.23 122.86,691.5 123.36,690.82 123.86,690.16 124.35,689.54 124.85,688.96 125.35,688.43 125.85,687.95 126.35,687.51 126.85,687.12 127.35,686.77 127.84,686.47 128.34,686.24 128.84,686.02 129.34,685.81 129.84,685.61 130.34,685.43 130.84,685.28 131.33,685.14 131.83,685.04 132.33,684.96 132.83,684.92 133.33,684.9 133.83,684.9 134.33,684.94 134.82,684.98 135.32,685.03 135.82,685.07 136.32,685.11 136.82,685.14 137.32,685.16 137.82,685.17 138.31,685.16 138.81,685.13 139.31,685.07 139.81,684.99 140.31,684.89 140.81,684.74 141.31,684.57 141.8,684.35 142.3,684.09 142.8,683.78 143.3,683.42 143.8,683.07 144.3,682.69 144.8,682.3 145.29,681.88 145.79,681.44 146.29,680.98 146.79,680.5 147.29,680.01 147.79,679.51 148.29,678.99 148.78,678.47 149.28,677.95 149.78,677.43 150.28,676.9 150.78,676.38 151.28,675.87 151.78,675.36 152.27,674.87 152.77,674.39 153.27,673.92 153.77,673.47 154.27,673.05 154.77,672.64 155.27,672.25 155.76,671.89 156.26,671.55 156.76,671.23 157.26,670.94 157.76,670.68 158.26,670.44 158.76,670.22 159.25,670.03 159.75,669.86 160.25,669.71 160.75,669.59 161.25,669.48 161.75,669.39 162.25,669.32 162.75,669.26 163.24,669.22 163.74,669.18 164.24,669.15 164.74,669.13 165.24,669.11 165.74,669.09 166.24,669.07 166.73,669.04 167.23,669.01 167.73,668.96 168.23,668.9 168.73,668.83 169.23,668.74 169.73,668.63 170.22,668.5 170.72,668.35 171.22,668.18 171.72,667.98 172.22,667.75 172.72,667.5 173.22,667.21 173.71,666.89 174.21,666.54 174.71,666.16 175.21,665.75 175.71,665.32 176.21,664.87 176.71,664.39 177.2,663.9 177.7,663.38 178.2,662.85 178.7,662.31 179.2,661.75 179.7,661.19 180.2,660.62 180.69,660.05 181.19,659.48 181.69,658.92 182.19,658.35 182.69,657.8 183.19,657.26 183.69,656.73 184.18,656.22 184.68,655.73 185.18,655.26 185.68,654.8 186.18,654.37 186.68,653.97 187.18,653.59 187.67,653.24 188.17,652.91 188.67,652.61 189.17,652.34 189.67,652.09 190.17,651.87 190.67,651.68 191.16,651.51 191.66,651.36 192.16,651.24 192.66,651.14 193.16,651.06 193.66,650.99 194.16,650.94 194.65,650.89 195.15,650.86 195.65,650.83 196.15,650.81 196.65,650.79 197.15,650.77 197.65,650.74 198.14,650.71 198.64,650.67 199.14,650.62 199.64,650.56 200.14,650.48 200.64,650.39 201.14,650.27 201.63,650.14 202.13,649.99 202.63,649.82 203.13,649.62 203.63,649.4 204.13,649.17 204.63,648.91 205.12,648.62 205.62,648.32 206.12,648 206.62,647.66 207.12,647.3 207.62,646.93 208.12,646.55 208.61,646.15 209.11,645.74 209.61,645.33 210.11,644.91 210.61,644.49 211.11,644.06 211.61,643.64 212.1,643.22 212.6,642.81 213.1,642.41 213.6,642.02 214.1,641.64 214.6,641.27 215.1,640.92 215.59,640.58 216.09,640.27 216.59,639.97 217.09,639.69 217.59,639.43 218.09,639.2 218.59,638.98 219.08,638.79 219.58,638.61 220.08,638.46 220.58,638.32 221.08,638.2 221.58,638.1 222.08,638.02 222.57,637.95 223.07,637.89 223.57,637.84 224.07,637.8 224.57,637.77 225.07,637.75 225.57,637.72 226.07,637.7 226.56,637.68 227.06,637.65 227.56,637.62 228.06,637.57 228.56,637.52 229.06,637.46 229.56,637.38 230.05,637.29 230.55,637.18 231.05,637.06 231.55,636.91 232.05,636.75 232.55,636.56 233.05,636.36 233.54,636.13 234.04,635.89 234.54,635.62 235.04,635.34 235.54,635.03 236.04,634.71 236.54,634.37 237.03,634.02 237.53,633.65 238.03,633.27 238.53,632.88 239.03,632.48 239.53,632.08 240.03,631.67 240.52,631.26 241.02,630.85 241.52,630.44 242.02,630.03 242.52,629.64 243.02,629.25 243.52,628.87 244.01,628.5 244.51,628.14 245.01,627.8 245.51,627.48 246.01,627.17 246.51,626.88 247.01,626.61 247.5,626.36 248,626.13 248.5,625.92 249,625.72 249.5,625.55 250,625.4 250.5,625.26 250.99,625.14 251.49,625.04 251.99,624.95 252.49,624.88 252.99,624.82 253.49,624.77 253.99,624.73 254.48,624.69 254.98,624.66 255.48,624.64 255.98,624.61 256.48,624.58 256.98,624.55 257.48,624.52 257.97,624.48 258.47,624.43 258.97,624.37 259.47,624.3 259.97,624.21 260.47,624.11 260.97,624 261.46,623.86 261.96,623.71 262.46,623.54 262.96,623.36 263.46,623.15 263.96,622.93 264.46,622.68 264.95,622.42 265.45,622.14 265.95,621.85 266.45,621.54 266.95,621.22 267.45,620.88 267.95,620.54 268.44,620.18 268.94,619.82 269.44,619.45 269.94,619.07 270.44,618.7 270.94,618.32 271.44,617.95 271.93,617.58 272.43,617.22 272.93,616.86 273.43,616.51 273.93,616.18 274.43,615.85 274.93,615.54 275.42,615.25 275.92,614.97 276.42,614.71 276.92,614.46 277.42,614.23 277.92,614.02 278.42,613.83 278.91,613.66 279.41,613.5 279.91,613.37 280.41,613.24 280.91,613.14 281.41,613.05 281.91,612.98 282.4,612.91 282.9,612.86 283.4,612.82 283.9,612.79 284.4,612.76 284.9,612.74 285.4,612.72 285.9,612.7 286.39,612.68 286.89,612.66 287.39,612.64 287.89,612.6 288.39,612.56 288.89,612.51 289.39,612.45 289.88,612.38 290.38,612.29 290.88,612.19 291.38,612.07 291.88,611.94 292.38,611.79 292.88,611.62 293.37,611.43 293.87,611.23 294.37,611.01 294.87,610.77 295.37,610.52 295.87,610.25 296.37,609.96 296.86,609.67 297.36,609.36 297.86,609.04 298.36,608.72 298.86,608.38 299.36,608.04 299.86,607.7 300.35,607.35 300.85,607.01 301.35,606.67 301.85,606.32 302.35,605.99 302.85,605.66 303.35,605.34 303.84,605.03 304.34,604.73 304.84,604.45 305.34,604.18 305.84,603.92 306.34,603.68 306.84,603.45 307.33,603.24 307.83,603.05 308.33,602.88 308.83,602.72 309.33,602.58 309.83,602.45 310.33,602.34 310.82,602.25 311.32,602.17 311.82,602.11 312.32,602.05 312.82,602.01 313.32,601.97 313.82,601.95 314.31,601.93 314.81,601.91 315.31,601.9 315.81,601.88 316.31,601.87 316.81,601.85 317.31,601.83 317.8,601.81 318.3,601.77 318.8,601.73 319.3,601.68 319.8,601.61 320.3,601.53 320.8,601.44 321.29,601.33 321.79,601.21 322.29,601.07 322.79,600.92 323.29,600.74 323.79,600.56 324.29,600.35 324.78,600.13 325.28,599.9 325.78,599.65 326.28,599.38 326.78,599.11 327.28,598.82 327.78,598.52 328.27,598.22 328.77,597.91 329.27,597.59 329.77,597.27 330.27,596.95 330.77,596.62 331.27,596.3 331.76,595.98 332.26,595.67 332.76,595.36 333.26,595.06 333.76,594.77 334.26,594.49 334.76,594.22 335.25,593.97 335.75,593.73 336.25,593.5 336.75,593.29 337.25,593.09 337.75,592.91 338.25,592.75 338.74,592.6 339.24,592.47 339.74,592.35 340.24,592.25 340.74,592.17 341.24,592.09 341.74,592.03 342.24,591.98 342.73,591.94 343.23,591.91 343.73,591.88 344.23,591.87 344.73,591.85 345.23,591.84 345.73,591.83 346.22,591.82 346.72,591.8 347.22,591.78 347.72,591.76 348.22,591.73 348.72,591.69 349.22,591.64 349.71,591.57 350.21,591.5 350.71,591.41 351.21,591.31 351.71,591.2 352.21,591.06 352.71,590.92 353.2,590.76 353.7,590.58 354.2,590.38 354.7,590.17 355.2,589.95 355.7,589.71 356.2,589.46 356.69,589.2 357.19,588.93 357.69,588.65 358.19,588.36 358.69,588.06 359.19,587.76 359.69,587.45 360.18,587.15 360.68,586.84 361.18,586.53 361.68,586.23 362.18,585.93 362.68,585.64 363.18,585.35 363.67,585.07 364.17,584.81 364.67,584.55 365.17,584.31 365.67,584.08 366.17,583.86 366.67,583.66 367.16,583.47 367.66,583.3 368.16,583.14 368.66,583 369.16,582.87 369.66,582.76 370.16,582.66 370.65,582.58 371.15,582.51 371.65,582.45 372.15,582.4 372.65,582.36 373.15,582.33 373.65,582.3 374.14,582.29 374.64,582.27 375.14,582.26 375.64,582.25 376.14,582.23 376.64,582.22 377.14,582.2 377.63,582.17 378.13,582.14 378.63,582.1 379.13,582.05 379.63,581.99 380.13,581.92 380.63,581.84 381.12,581.74 381.62,581.62 382.12,581.5 382.62,581.36 383.12,581.2 383.62,581.03 384.12,580.84 384.61,580.64 385.11,580.43 385.61,580.2 386.11,579.96 386.61,579.71 387.11,579.45 387.61,579.18 388.1,578.9 388.6,578.62 389.1,578.33 389.6,578.03 390.1,577.74 390.6,577.44 391.1,577.15 391.59,576.86 392.09,576.57 392.59,576.29 393.09,576.02 393.59,575.75 394.09,575.49 394.59,575.25 395.08,575.01 395.58,574.79 396.08,574.58 396.58,574.39 397.08,574.21 397.58,574.04 398.08,573.89 398.57,573.75 399.07,573.63 399.57,573.52 400.07,573.43 400.57,573.35 401.07,573.28 401.57,573.22 402.06,573.17 402.56,573.13 403.06,573.1 403.56,573.07 404.06,573.05 404.56,573.04 405.06,573.02 405.56,573.01 406.05,573 406.55,572.98 407.05,572.96 407.55,572.94 408.05,572.9 408.55,572.87 409.05,572.82 409.54,572.76 410.04,572.69 410.54,572.6 411.04,572.51 411.54,572.4 412.04,572.28 412.54,572.14 413.03,571.99 413.53,571.83 414.03,571.65 414.53,571.45 415.03,571.25 415.53,571.03 416.03,570.8 416.52,570.56 417.02,570.3 417.52,570.04 418.02,569.78 418.52,569.5 419.02,569.22 419.52,568.94 420.01,568.66 420.51,568.37 421.01,568.09 421.51,567.81 422.01,567.53 422.51,567.26 423.01,567 423.5,566.74 424,566.49 424.5,566.26 425,566.03 425.5,565.82 426,565.62 426.5,565.43 426.99,565.25 427.49,565.09 427.99,564.95 428.49,564.81 428.99,564.69 429.49,564.59 429.99,564.5 430.48,564.42 430.98,564.35 431.48,564.29 431.98,564.24 432.48,564.2 432.98,564.17 433.48,564.15 433.97,564.13 434.47,564.11 434.97,564.1 435.47,564.08 435.97,564.07 436.47,564.05 436.97,564.03 437.46,564.01 437.96,563.98 438.46,563.94 438.96,563.89 439.46,563.83 439.96,563.76 440.46,563.68 440.95,563.59 441.45,563.48 441.95,563.37 442.45,563.23 442.95,563.09 443.45,562.93 443.95,562.75 444.44,562.57 444.94,562.37 445.44,562.16 445.94,561.93 446.44,561.7 446.94,561.46 447.44,561.21 447.93,560.95 448.43,560.68 448.93,560.41 449.43,560.14 449.93,559.87 450.43,559.59 450.93,559.32 451.42,559.05 451.92,558.78 452.42,558.52 452.92,558.26 453.42,558.02 453.92,557.78 454.42,557.55 454.91,557.33 455.41,557.12 455.91,556.93 456.41,556.75 456.91,556.58 457.41,556.42 457.91,556.28 458.4,556.15 458.9,556.03 459.4,555.93 459.9,555.84 460.4,555.76 460.9,555.7 461.4,555.64 461.89,555.6 462.39,555.56 462.89,555.53 463.39,555.5 463.89,555.48 464.39,555.46 464.89,555.45 465.39,555.43 465.88,555.42 466.38,555.4 466.88,555.38 467.38,555.36 467.88,555.33 468.38,555.29 468.88,555.24 469.37,555.18 469.87,555.12 470.37,555.04 470.87,554.95 471.37,554.85 471.87,554.73 472.37,554.6 472.86,554.46 473.36,554.31 473.86,554.14 474.36,553.96 474.86,553.76 475.36,553.56 475.86,553.34 476.35,553.12 476.85,552.88 477.35,552.64 477.85,552.39 478.35,552.13 478.85,551.87 479.35,551.61 479.84,551.35 480.34,551.08 480.84,550.82 481.34,550.55 481.84,550.29 482.34,550.04 482.84,549.79 483.33,549.55 483.83,549.32 484.33,549.1 484.83,548.89 485.33,548.69 485.83,548.5 486.33,548.32 486.82,548.16 487.32,548.01 487.82,547.87 488.32,547.74 488.82,547.63 489.32,547.53 489.82,547.44 490.31,547.37 490.81,547.3 491.31,547.25 491.81,547.2 492.31,547.16 492.81,547.13 493.31,547.11 493.8,547.09 494.3,547.07 494.8,547.06 495.3,547.04 495.8,547.03 496.3,547.01 496.8,546.99 497.29,546.97 497.79,546.93 498.29,546.9 498.79,546.85 499.29,546.79 499.79,546.73 500.29,546.65 500.78,546.57 501.28,546.47 501.78,546.35 502.28,546.23 502.78,546.09 503.28,545.94 503.78,545.78 504.27,545.6 504.77,545.42 505.27,545.22 505.77,545.01 506.27,544.79 506.77,544.56 507.27,544.33 507.76,544.08 508.26,543.84 508.76,543.58 509.26,543.33 509.76,543.07 510.26,542.81 510.76,542.56 511.25,542.3 511.75,542.05 512.25,541.81 512.75,541.57 513.25,541.33 513.75,541.11 514.25,540.89 514.74,540.69 515.24,540.49 515.74,540.31 516.24,540.14 516.74,539.98 517.24,539.83 517.74,539.7 518.23,539.58 518.73,539.47 519.23,539.37 519.73,539.29 520.23,539.21 520.73,539.15 521.23,539.1 521.72,539.05 522.22,539.01 522.72,538.98 523.22,538.96 523.72,538.94 524.22,538.92 524.72,538.91 525.22,538.89 525.71,538.88 526.21,538.86 526.71,538.84 527.21,538.82 527.71,538.79 528.21,538.75 528.71,538.7 529.2,538.65 529.7,538.59 530.2,538.51 530.7,538.43 531.2,538.33 531.7,538.22 532.2,538.1 532.69,537.97 533.19,537.82 533.69,537.66 534.19,537.49 534.69,537.31 535.19,537.12 535.69,536.91 536.18,536.7 536.68,536.48 537.18,536.25 537.68,536.02 538.18,535.77 538.68,535.53 539.18,535.28 539.67,535.03 540.17,534.78 540.67,534.53 541.17,534.29 541.67,534.04 542.17,533.8 542.67,533.57 543.16,533.34 543.66,533.13 544.16,532.92 544.66,532.72 545.16,532.53 545.66,532.35 546.16,532.18 546.65,532.03 547.15,531.88 547.65,531.75 548.15,531.63 548.65,531.53 549.15,531.43 549.65,531.35 550.14,531.28 550.64,531.22 551.14,531.16 551.64,531.12 552.14,531.08 552.64,531.05 553.14,531.03 553.63,531.01 554.13,530.99 554.63,530.98 555.13,530.96 555.63,530.95 556.13,530.93 556.63,530.91 557.12,530.88 557.62,530.85 558.12,530.82 558.62,530.77 559.12,530.72 559.62,530.66 560.12,530.58 560.61,530.5 561.11,530.41 561.61,530.3 562.11,530.18 562.61,530.05 563.11,529.91 563.61,529.75 564.1,529.59 564.6,529.41 565.1,529.22 565.6,529.03 566.1,528.82 566.6,528.6 567.1,528.38 567.59,528.15 568.09,527.92 568.59,527.68 569.09,527.44 569.59,527.19 570.09,526.95 570.59,526.71 571.08,526.47 571.58,526.23 572.08,526 572.58,525.77 573.08,525.55 573.58,525.33 574.08,525.13 574.57,524.94 575.07,524.75 575.57,524.58 576.07,524.41 576.57,524.26 577.07,524.12 577.57,523.99 578.06,523.88 578.56,523.77 579.06,523.68 579.56,523.6 580.06,523.53 580.56,523.47 581.06,523.41 581.56,523.37 582.05,523.33 582.55,523.3 583.05,523.28 583.55,523.26 584.05,523.24 584.55,523.23 585.05,523.21 585.54,523.19 586.04,523.18 586.54,523.16 587.04,523.13 587.54,523.1 588.04,523.06 588.54,523.02 589.03,522.97 589.53,522.91 590.03,522.83 590.53,522.75 591.03,522.66 591.53,522.55 592.03,522.44 592.52,522.31 593.02,522.17 593.52,522.02 594.02,521.86 594.52,521.68 595.02,521.5 595.52,521.31 596.01,521.1 596.51,520.89 597.01,520.68 597.51,520.45 598.01,520.22 598.51,519.99 599.01,519.75 599.5,519.52 600,519.28 600.5,519.04 601,518.8 601.5,518.57 602,518.35 602.5,518.12 602.99,517.91 603.49,517.7 603.99,517.5 604.49,517.31 604.99,517.13 605.49,516.96 605.99,516.8 606.48,516.65 606.98,516.51 607.48,516.38 607.98,516.27 608.48,516.17 608.98,516.08 609.48,515.99 609.97,515.92 610.47,515.86 610.97,515.81 611.47,515.77 611.97,515.73 612.47,515.7 612.97,515.67 613.46,515.65 613.96,515.64 614.46,515.62 614.96,515.6 615.46,515.59 615.96,515.57 616.46,515.55 616.95,515.52 617.45,515.49 617.95,515.45 618.45,515.41 618.95,515.36 619.45,515.3 619.95,515.22 620.44,515.14 620.94,515.05 621.44,514.95 621.94,514.83 622.44,514.71 622.94,514.57 623.44,514.42 623.93,514.26 624.43,514.09 624.93,513.91 625.43,513.72 625.93,513.52 626.43,513.32 626.93,513.1 627.42,512.88 627.92,512.66 628.42,512.43 628.92,512.2 629.42,511.97 629.92,511.73 630.42,511.5 630.91,511.27 631.41,511.04 631.91,510.82 632.41,510.6 632.91,510.39 633.41,510.18 633.91,509.99 634.4,509.8 634.9,509.62 635.4,509.45 635.9,509.3 636.4,509.15 636.9,509.01 637.4,508.89 637.89,508.78 638.39,508.68 638.89,508.59 639.39,508.5 639.89,508.43 640.39,508.37 640.89,508.32 641.38,508.28 641.88,508.24 642.38,508.21 642.88,508.18 643.38,508.16 643.88,508.14 644.38,508.12 644.88,508.11 645.37,508.09 645.87,508.07 646.37,508.05 646.87,508.02 647.37,507.99 647.87,507.95 648.37,507.91 648.86,507.85 649.36,507.79 649.86,507.72 650.36,507.64 650.86,507.55 651.36,507.45 651.86,507.33 652.35,507.21 652.85,507.07 653.35,506.93 653.85,506.77 654.35,506.6 654.85,506.42 655.35,506.24 655.84,506.04 656.34,505.84 656.84,505.63 657.34,505.41 657.84,505.19 658.34,504.97 658.84,504.74 659.33,504.51 659.83,504.28 660.33,504.05 660.83,503.83 661.33,503.6 661.83,503.38 662.33,503.17 662.82,502.96 663.32,502.76 663.82,502.56 664.32,502.38 664.82,502.2 665.32,502.04 665.82,501.88 666.31,501.74 666.81,501.6 667.31,501.48 667.81,501.37 668.31,501.27 668.81,501.18 669.31,501.11 669.8,501.11 669.8,540.95 669.31,541.05 668.81,541.15 668.31,541.27 667.81,541.39 667.31,541.52 666.81,541.66 666.31,541.81 665.82,541.97 665.32,542.13 664.82,542.3 664.32,542.48 663.82,542.66 663.32,542.85 662.82,543.04 662.33,543.23 661.83,543.42 661.33,543.62 660.83,543.81 660.33,544 659.83,544.19 659.33,544.38 658.84,544.56 658.34,544.73 657.84,544.9 657.34,545.07 656.84,545.22 656.34,545.37 655.84,545.51 655.35,545.64 654.85,545.76 654.35,545.87 653.85,545.98 653.35,546.07 652.85,546.15 652.35,546.23 651.86,546.29 651.36,546.35 650.86,546.4 650.36,546.44 649.86,546.48 649.36,546.51 648.86,546.53 648.37,546.55 647.87,546.57 647.37,546.58 646.87,546.6 646.37,546.61 645.87,546.63 645.37,546.64 644.88,546.66 644.38,546.68 643.88,546.71 643.38,546.74 642.88,546.78 642.38,546.82 641.88,546.87 641.38,546.93 640.89,547 640.39,547.08 639.89,547.17 639.39,547.26 638.89,547.37 638.39,547.49 637.89,547.61 637.4,547.74 636.9,547.89 636.4,548.04 635.9,548.2 635.4,548.37 634.9,548.54 634.4,548.72 633.91,548.9 633.41,549.09 632.91,549.29 632.41,549.48 631.91,549.68 631.41,549.88 630.91,550.07 630.42,550.27 629.92,550.46 629.42,550.65 628.92,550.83 628.42,551.01 627.92,551.18 627.42,551.35 626.93,551.51 626.43,551.66 625.93,551.8 625.43,551.93 624.93,552.06 624.43,552.17 623.93,552.27 623.44,552.37 622.94,552.45 622.44,552.53 621.94,552.59 621.44,552.65 620.94,552.7 620.44,552.74 619.95,552.78 619.45,552.81 618.95,552.83 618.45,552.85 617.95,552.87 617.45,552.88 616.95,552.89 616.46,552.91 615.96,552.92 615.46,552.93 614.96,552.95 614.46,552.97 613.96,553 613.46,553.03 612.97,553.07 612.47,553.11 611.97,553.16 611.47,553.22 610.97,553.29 610.47,553.37 609.97,553.46 609.48,553.56 608.98,553.66 608.48,553.78 607.98,553.91 607.48,554.05 606.98,554.19 606.48,554.35 605.99,554.51 605.49,554.68 604.99,554.86 604.49,555.04 603.99,555.23 603.49,555.42 602.99,555.62 602.5,555.82 602,556.02 601.5,556.22 601,556.42 600.5,556.62 600,556.81 599.5,557.01 599.01,557.19 598.51,557.38 598.01,557.55 597.51,557.72 597.01,557.88 596.51,558.04 596.01,558.18 595.52,558.32 595.02,558.44 594.52,558.56 594.02,558.66 593.52,558.76 593.02,558.85 592.52,558.92 592.03,558.99 591.53,559.05 591.03,559.1 590.53,559.14 590.03,559.17 589.53,559.2 589.03,559.23 588.54,559.24 588.04,559.26 587.54,559.27 587.04,559.29 586.54,559.3 586.04,559.31 585.54,559.32 585.05,559.34 584.55,559.36 584.05,559.39 583.55,559.42 583.05,559.46 582.55,559.5 582.05,559.55 581.56,559.61 581.06,559.68 580.56,559.76 580.06,559.85 579.56,559.95 579.06,560.06 578.56,560.18 578.06,560.31 577.57,560.45 577.07,560.6 576.57,560.76 576.07,560.92 575.57,561.1 575.07,561.28 574.57,561.47 574.08,561.66 573.58,561.86 573.08,562.06 572.58,562.26 572.08,562.47 571.58,562.67 571.08,562.88 570.59,563.08 570.09,563.28 569.59,563.48 569.09,563.67 568.59,563.86 568.09,564.04 567.59,564.21 567.1,564.38 566.6,564.54 566.1,564.68 565.6,564.82 565.1,564.95 564.6,565.07 564.1,565.18 563.61,565.27 563.11,565.36 562.61,565.44 562.11,565.51 561.61,565.57 561.11,565.62 560.61,565.66 560.12,565.69 559.62,565.72 559.12,565.75 558.62,565.77 558.12,565.78 557.62,565.79 557.12,565.81 556.63,565.82 556.13,565.83 555.63,565.84 555.13,565.86 554.63,565.88 554.13,565.91 553.63,565.94 553.14,565.97 552.64,566.02 552.14,566.07 551.64,566.14 551.14,566.21 550.64,566.29 550.14,566.38 549.65,566.48 549.15,566.59 548.65,566.72 548.15,566.85 547.65,566.99 547.15,567.14 546.65,567.31 546.16,567.48 545.66,567.65 545.16,567.84 544.66,568.03 544.16,568.23 543.66,568.43 543.16,568.64 542.67,568.85 542.17,569.06 541.67,569.27 541.17,569.48 540.67,569.69 540.17,569.9 539.67,570.1 539.18,570.3 538.68,570.49 538.18,570.68 537.68,570.85 537.18,571.02 536.68,571.19 536.18,571.34 535.69,571.48 535.19,571.61 534.69,571.73 534.19,571.84 533.69,571.94 533.19,572.03 532.69,572.11 532.2,572.18 531.7,572.24 531.2,572.29 530.7,572.33 530.2,572.37 529.7,572.4 529.2,572.42 528.71,572.44 528.21,572.46 527.71,572.47 527.21,572.48 526.71,572.49 526.21,572.51 525.71,572.52 525.22,572.54 524.72,572.56 524.22,572.58 523.72,572.61 523.22,572.65 522.72,572.7 522.22,572.75 521.72,572.82 521.23,572.89 520.73,572.97 520.23,573.07 519.73,573.17 519.23,573.29 518.73,573.41 518.23,573.55 517.74,573.7 517.24,573.85 516.74,574.02 516.24,574.19 515.74,574.38 515.24,574.57 514.74,574.77 514.25,574.97 513.75,575.18 513.25,575.39 512.75,575.61 512.25,575.83 511.75,576.04 511.25,576.26 510.76,576.48 510.26,576.69 509.76,576.9 509.26,577.1 508.76,577.3 508.26,577.49 507.76,577.68 507.27,577.85 506.77,578.02 506.27,578.17 505.77,578.32 505.27,578.45 504.77,578.58 504.27,578.69 503.78,578.79 503.28,578.89 502.78,578.97 502.28,579.04 501.78,579.1 501.28,579.15 500.78,579.2 500.29,579.24 499.79,579.27 499.29,579.29 498.79,579.31 498.29,579.32 497.79,579.34 497.29,579.35 496.8,579.36 496.3,579.37 495.8,579.39 495.3,579.4 494.8,579.42 494.3,579.45 493.8,579.48 493.31,579.52 492.81,579.57 492.31,579.63 491.81,579.69 491.31,579.77 490.81,579.85 490.31,579.95 489.82,580.06 489.32,580.18 488.82,580.31 488.32,580.45 487.82,580.6 487.32,580.76 486.82,580.93 486.33,581.11 485.83,581.3 485.33,581.5 484.83,581.7 484.33,581.91 483.83,582.13 483.33,582.35 482.84,582.57 482.34,582.8 481.84,583.02 481.34,583.24 480.84,583.47 480.34,583.69 479.84,583.9 479.35,584.11 478.85,584.32 478.35,584.51 477.85,584.7 477.35,584.88 476.85,585.06 476.35,585.22 475.86,585.37 475.36,585.51 474.86,585.64 474.36,585.75 473.86,585.86 473.36,585.95 472.86,586.04 472.37,586.11 471.87,586.18 471.37,586.23 470.87,586.28 470.37,586.31 469.87,586.34 469.37,586.37 468.88,586.39 468.38,586.4 467.88,586.42 467.38,586.43 466.88,586.44 466.38,586.45 465.88,586.46 465.39,586.48 464.89,586.5 464.39,586.53 463.89,586.56 463.39,586.6 462.89,586.65 462.39,586.71 461.89,586.78 461.4,586.85 460.9,586.94 460.4,587.04 459.9,587.15 459.4,587.27 458.9,587.41 458.4,587.55 457.91,587.71 457.41,587.88 456.91,588.05 456.41,588.24 455.91,588.44 455.41,588.64 454.91,588.85 454.42,589.07 453.92,589.29 453.42,589.52 452.92,589.75 452.42,589.98 451.92,590.21 451.42,590.45 450.93,590.68 450.43,590.9 449.93,591.13 449.43,591.34 448.93,591.55 448.43,591.76 447.93,591.95 447.44,592.14 446.94,592.32 446.44,592.49 445.94,592.64 445.44,592.79 444.94,592.92 444.44,593.04 443.95,593.15 443.45,593.25 442.95,593.33 442.45,593.41 441.95,593.47 441.45,593.53 440.95,593.58 440.46,593.61 439.96,593.64 439.46,593.67 438.96,593.69 438.46,593.7 437.96,593.72 437.46,593.73 436.97,593.74 436.47,593.75 435.97,593.76 435.47,593.78 434.97,593.8 434.47,593.83 433.97,593.86 433.48,593.9 432.98,593.95 432.48,594.01 431.98,594.08 431.48,594.16 430.98,594.25 430.48,594.36 429.99,594.47 429.49,594.6 428.99,594.73 428.49,594.88 427.99,595.05 427.49,595.22 426.99,595.4 426.5,595.59 426,595.8 425.5,596.01 425,596.23 424.5,596.45 424,596.68 423.5,596.92 423.01,597.16 422.51,597.4 422.01,597.64 421.51,597.88 421.01,598.12 420.51,598.35 420.01,598.58 419.52,598.81 419.02,599.03 418.52,599.24 418.02,599.44 417.52,599.64 417.02,599.82 416.52,599.99 416.03,600.15 415.53,600.3 415.03,600.44 414.53,600.57 414.03,600.68 413.53,600.78 413.03,600.87 412.54,600.95 412.04,601.01 411.54,601.07 411.04,601.12 410.54,601.16 410.04,601.19 409.54,601.21 409.05,601.23 408.55,601.25 408.05,601.26 407.55,601.27 407.05,601.28 406.55,601.29 406.05,601.31 405.56,601.32 405.06,601.34 404.56,601.37 404.06,601.4 403.56,601.45 403.06,601.5 402.56,601.56 402.06,601.63 401.57,601.71 401.07,601.8 400.57,601.91 400.07,602.03 399.57,602.16 399.07,602.3 398.57,602.46 398.08,602.62 397.58,602.8 397.08,602.99 396.58,603.19 396.08,603.4 395.58,603.62 395.08,603.85 394.59,604.08 394.09,604.32 393.59,604.57 393.09,604.82 392.59,605.07 392.09,605.32 391.59,605.57 391.1,605.81 390.6,606.06 390.1,606.3 389.6,606.53 389.1,606.76 388.6,606.98 388.1,607.19 387.61,607.39 387.11,607.58 386.61,607.76 386.11,607.93 385.61,608.09 385.11,608.23 384.61,608.36 384.12,608.48 383.62,608.58 383.12,608.67 382.62,608.75 382.12,608.82 381.62,608.88 381.12,608.93 380.63,608.97 380.13,609 379.63,609.02 379.13,609.04 378.63,609.06 378.13,609.07 377.63,609.08 377.14,609.09 376.64,609.1 376.14,609.11 375.64,609.13 375.14,609.15 374.64,609.18 374.14,609.21 373.65,609.25 373.15,609.31 372.65,609.37 372.15,609.44 371.65,609.53 371.15,609.62 370.65,609.73 370.16,609.85 369.66,609.99 369.16,610.14 368.66,610.3 368.16,610.47 367.66,610.66 367.16,610.86 366.67,611.07 366.17,611.29 365.67,611.51 365.17,611.75 364.67,611.99 364.17,612.24 363.67,612.5 363.18,612.76 362.68,613.02 362.18,613.28 361.68,613.54 361.18,613.8 360.68,614.05 360.18,614.3 359.69,614.55 359.19,614.79 358.69,615.02 358.19,615.24 357.69,615.45 357.19,615.64 356.69,615.83 356.2,616.01 355.7,616.17 355.2,616.32 354.7,616.45 354.2,616.57 353.7,616.68 353.2,616.78 352.71,616.86 352.21,616.93 351.71,616.99 351.21,617.04 350.71,617.08 350.21,617.11 349.71,617.14 349.22,617.16 348.72,617.17 348.22,617.18 347.72,617.19 347.22,617.2 346.72,617.21 346.22,617.22 345.73,617.24 345.23,617.26 344.73,617.29 344.23,617.32 343.73,617.36 343.23,617.42 342.73,617.48 342.24,617.56 341.74,617.65 341.24,617.75 340.74,617.86 340.24,617.99 339.74,618.13 339.24,618.28 338.74,618.45 338.25,618.63 337.75,618.83 337.25,619.04 336.75,619.26 336.25,619.49 335.75,619.72 335.25,619.97 334.76,620.23 334.26,620.49 333.76,620.76 333.26,621.03 332.76,621.3 332.26,621.58 331.76,621.85 331.27,622.12 330.77,622.39 330.27,622.66 329.77,622.92 329.27,623.17 328.77,623.41 328.27,623.64 327.78,623.86 327.28,624.07 326.78,624.27 326.28,624.45 325.78,624.62 325.28,624.78 324.78,624.92 324.29,625.05 323.79,625.17 323.29,625.27 322.79,625.35 322.29,625.43 321.79,625.49 321.29,625.55 320.8,625.59 320.3,625.62 319.8,625.65 319.3,625.67 318.8,625.69 318.3,625.7 317.8,625.71 317.31,625.72 316.81,625.73 316.31,625.75 315.81,625.76 315.31,625.79 314.81,625.82 314.31,625.85 313.82,625.9 313.32,625.96 312.82,626.03 312.32,626.11 311.82,626.2 311.32,626.31 310.82,626.43 310.33,626.57 309.83,626.72 309.33,626.89 308.83,627.07 308.33,627.26 307.83,627.47 307.33,627.69 306.84,627.92 306.34,628.17 305.84,628.42 305.34,628.69 304.84,628.96 304.34,629.24 303.84,629.53 303.35,629.82 302.85,630.11 302.35,630.41 301.85,630.7 301.35,630.99 300.85,631.28 300.35,631.56 299.86,631.84 299.36,632.11 298.86,632.36 298.36,632.61 297.86,632.85 297.36,633.08 296.86,633.29 296.37,633.49 295.87,633.67 295.37,633.84 294.87,634 294.37,634.14 293.87,634.26 293.37,634.37 292.88,634.47 292.38,634.56 291.88,634.63 291.38,634.69 290.88,634.74 290.38,634.78 289.88,634.81 289.39,634.83 288.89,634.85 288.39,634.87 287.89,634.89 287.39,634.9 286.89,634.92 286.39,634.94 285.9,634.96 285.4,634.99 284.9,635.02 284.4,635.07 283.9,635.12 283.4,635.19 282.9,635.27 282.4,635.36 281.91,635.46 281.41,635.58 280.91,635.72 280.41,635.87 279.91,636.03 279.41,636.21 278.91,636.41 278.42,636.62 277.92,636.85 277.42,637.09 276.92,637.34 276.42,637.61 275.92,637.89 275.42,638.17 274.93,638.47 274.43,638.77 273.93,639.09 273.43,639.4 272.93,639.72 272.43,640.04 271.93,640.36 271.44,640.67 270.94,640.99 270.44,641.29 269.94,641.6 269.44,641.89 268.94,642.17 268.44,642.44 267.95,642.7 267.45,642.95 266.95,643.19 266.45,643.4 265.95,643.61 265.45,643.79 264.95,643.97 264.46,644.12 263.96,644.26 263.46,644.39 262.96,644.5 262.46,644.59 261.96,644.67 261.46,644.74 260.97,644.8 260.47,644.85 259.97,644.89 259.47,644.92 258.97,644.95 258.47,644.98 257.97,645 257.48,645.02 256.98,645.04 256.48,645.07 255.98,645.1 255.48,645.13 254.98,645.18 254.48,645.23 253.99,645.29 253.49,645.37 252.99,645.46 252.49,645.56 251.99,645.68 251.49,645.81 250.99,645.96 250.5,646.13 250,646.31 249.5,646.51 249,646.73 248.5,646.96 248,647.21 247.5,647.48 247.01,647.76 246.51,648.05 246.01,648.35 245.51,648.67 245.01,648.99 244.51,649.33 244.01,649.67 243.52,650.01 243.02,650.36 242.52,650.71 242.02,651.06 241.52,651.41 241.02,651.75 240.52,652.09 240.03,652.42 239.53,652.74 239.03,653.05 238.53,653.35 238.03,653.63 237.53,653.91 237.03,654.16 236.54,654.4 236.04,654.62 235.54,654.83 235.04,655.02 234.54,655.19 234.04,655.34 233.54,655.48 233.05,655.6 232.55,655.7 232.05,655.79 231.55,655.86 231.05,655.93 230.55,655.98 230.05,656.02 229.56,656.05 229.06,656.08 228.56,656.1 228.06,656.12 227.56,656.14 227.06,656.16 226.56,656.18 226.07,656.21 225.57,656.24 225.07,656.28 224.57,656.33 224.07,656.4 223.57,656.47 223.07,656.56 222.57,656.66 222.08,656.78 221.58,656.91 221.08,657.07 220.58,657.24 220.08,657.42 219.58,657.63 219.08,657.85 218.59,658.09 218.09,658.35 217.59,658.62 217.09,658.91 216.59,659.21 216.09,659.52 215.59,659.85 215.1,660.19 214.6,660.53 214.1,660.88 213.6,661.24 213.1,661.6 212.6,661.96 212.1,662.32 211.61,662.68 211.11,663.03 210.61,663.37 210.11,663.71 209.61,664.04 209.11,664.35 208.61,664.65 208.12,664.94 207.62,665.21 207.12,665.46 206.62,665.7 206.12,665.91 205.62,666.11 205.12,666.29 204.63,666.46 204.13,666.6 203.63,666.72 203.13,666.83 202.63,666.93 202.13,667 201.63,667.07 201.14,667.12 200.64,667.16 200.14,667.19 199.64,667.22 199.14,667.24 198.64,667.25 198.14,667.27 197.65,667.29 197.15,667.31 196.65,667.34 196.15,667.38 195.65,667.43 195.15,667.49 194.65,667.56 194.16,667.65 193.66,667.76 193.16,667.88 192.66,668.03 192.16,668.2 191.66,668.39 191.16,668.61 190.67,668.84 190.17,669.1 189.67,669.39 189.17,669.69 188.67,670.02 188.17,670.37 187.67,670.74 187.18,671.13 186.68,671.53 186.18,671.96 185.68,672.4 185.18,672.85 184.68,673.31 184.18,673.78 183.69,674.26 183.19,674.75 182.69,675.23 182.19,675.72 181.69,676.2 181.19,676.68 180.69,677.15 180.2,677.61 179.7,678.06 179.2,678.5 178.7,678.92 178.2,679.32 177.7,679.7 177.2,680.07 176.71,680.41 176.21,680.72 175.71,681.02 175.21,681.28 174.71,681.53 174.21,681.74 173.71,681.93 173.22,682.09 172.72,682.24 172.22,682.36 171.72,682.47 171.22,682.56 170.72,682.63 170.22,682.69 169.73,682.73 169.23,682.77 168.73,682.8 168.23,682.82 167.73,682.84 167.23,682.85 166.73,682.87 166.24,682.89 165.74,682.92 165.24,682.95 164.74,682.99 164.24,683.04 163.74,683.1 163.24,683.18 162.75,683.27 162.25,683.38 161.75,683.51 161.25,683.66 160.75,683.83 160.25,684.02 159.75,684.23 159.25,684.46 158.76,684.71 158.26,684.98 157.76,685.27 157.26,685.59 156.76,685.92 156.26,686.27 155.76,686.64 155.27,687.03 154.77,687.42 154.27,687.84 153.77,688.26 153.27,688.69 152.77,689.13 152.27,689.58 151.78,690.02 151.28,690.47 150.78,690.92 150.28,691.36 149.78,691.79 149.28,692.22 148.78,692.64 148.29,693.04 147.79,693.43 147.29,693.8 146.79,694.16 146.29,694.49 145.79,694.81 145.29,695.11 144.8,695.41 144.3,695.66 143.8,695.88 143.3,696.05 142.8,696.2 142.3,696.31 141.8,696.4 141.31,696.46 140.81,696.5 140.31,696.53 139.81,696.53 139.31,696.52 138.81,696.5 138.31,696.48 137.82,696.44 137.32,696.41 136.82,696.37 136.32,696.33 135.82,696.3 135.32,696.3 134.82,696.32 134.33,696.37 133.83,696.44 133.33,696.53 132.83,696.65 132.33,696.78 131.83,696.94 131.33,697.11 130.84,697.29 130.34,697.48 129.84,697.69 129.34,697.95 128.84,698.25 128.34,698.6 127.84,698.98 127.35,699.4 126.85,699.85 126.35,700.36 125.85,700.89 125.35,701.46 124.85,702.05 124.35,702.68 123.86,703.42 123.36,704.26 122.86,705.2 122.36,706.2 121.86,707.26 121.36,708.34 120.86,709.44 120.37,710.54 119.87,711.61 119.37,712.67 118.87,713.76 118.37,714.86 117.87,715.98 117.37,717.12 116.88,718.27 116.38,719.44 115.88,720.62 115.38,721.81 114.88,723.07 114.38,724.33 113.88,725.33 113.39,726.26 112.89,727.12 112.39,727.93 111.89,728.67 111.39,729.34 110.89,729.96 110.39,730.52 109.9,731.07 109.4,731.59 108.9,732.07 108.4,732.51 107.9,732.9 107.4,733.22 106.9,733.47 106.41,733.68 105.91,733.88 105.41,734.06 104.91,734.21 104.41,734.34 103.91,734.45 103.41,734.52 102.91,734.57 102.42,734.61 101.92,734.64 101.42,734.67 100.92,734.7 100.42,734.73 99.92,734.77 99.42,734.82 98.93,734.9 98.43,734.99 97.93,735.1 97.43,735.23 96.93,735.38 96.43,735.54 95.93,735.72 95.44,735.96 94.94,736.26 94.44,736.61 93.94,737.01 93.44,737.44 92.94,737.9 92.44,738.37 91.95,738.89 91.45,739.48 90.95,740.14 90.45,740.84 89.95,741.57 89.45,742.3 88.95,743.07 88.46,743.84 87.96,744.62 87.46,745.42 86.96,746.22 86.46,747.03 85.96,747.85 85.46,748.67 84.97,749.48 84.47,750.31 83.97,751.15 83.47,751.99 82.97,752.83 82.47,753.66 81.97,754.47 81.48,755.24 80.98,756 80.48,756.75 79.98,757.5 79.48,758.22 78.98,758.91 78.48,759.57 77.99,760.2 77.49,760.67 76.99,761.07 76.49,761.46 75.99,761.82 75.49,762.13 74.99,762.39 74.5,762.57 74,762.67 73.5,762.7 73,762.68" fill="url(#hatch)"/>
<path d="M230.6,430.77V762.8M352.0,430.77V762.8M474.0,430.77V762.8M595.7,430.77V762.8" stroke="#fff" stroke-width="1" stroke-opacity="0.85" clip-path="url(#bcb)"/>
<path d="M73.0,718.53H671.3M73.0,674.26H671.3M73.0,629.99H671.3M73.0,585.72H671.3M73.0,541.45H671.3M73.0,497.18H671.3M73.0,452.91H671.3" stroke="#222" stroke-width="1.2" stroke-dasharray="1.8 1.91" stroke-dashoffset="2.64" fill="none"/>
<path d="M192.66,430.77V762.8M312.32,430.77V762.8M431.98,430.77V762.8M551.64,430.77V762.8" stroke="#222" stroke-width="1.2" stroke-dasharray="1.8 1.91" fill="none"/>
<rect x="73.0" y="430.77" width="598.3" height="332.03" fill="none" stroke="#000" stroke-width="1.5"/>
<path d="M73.0,762.8h17.5M73.0,718.53h17.5M73.0,674.26h17.5M73.0,629.99h17.5M73.0,585.72h17.5M73.0,541.45h17.5M73.0,497.18h17.5M73.0,452.91h17.5M73,762.8v-10M102.91,762.8v-5.5M132.83,762.8v-5.5M162.75,762.8v-5.5M192.66,762.8v-10M222.57,762.8v-5.5M252.49,762.8v-5.5M282.4,762.8v-5.5M312.32,762.8v-10M342.24,762.8v-5.5M372.15,762.8v-5.5M402.06,762.8v-5.5M431.98,762.8v-10M461.89,762.8v-5.5M491.81,762.8v-5.5M521.72,762.8v-5.5M551.64,762.8v-10M581.56,762.8v-5.5M611.47,762.8v-5.5M641.38,762.8v-5.5M671.3,762.8v-10" stroke="#000" stroke-width="1.3" fill="none"/>
<polyline points="73,762.67 74,762.3 74.99,761.65 75.99,760.71 76.99,759.59 77.99,758.42 78.98,757.14 79.98,755.73 80.98,754.23 81.97,752.7 82.97,751.06 83.97,749.38 84.97,747.71 85.96,746.08 86.96,744.45 87.96,742.85 88.95,741.3 89.95,739.72 90.95,738.16 91.95,736.8 92.94,735.73 93.94,734.76 94.94,733.95 95.93,733.36 96.93,732.99 97.93,732.69 98.93,732.46 99.92,732.32 100.92,732.24 101.92,732.18 102.91,732.1 103.91,731.97 104.91,731.72 105.91,731.35 106.9,730.91 107.9,730.28 108.9,729.38 109.9,728.29 110.89,727.09 111.89,725.68 112.89,724.01 113.88,722.06 114.88,719.59 115.88,716.93 116.88,714.37 117.87,711.88 118.87,709.46 119.87,707.13 120.86,704.78 121.86,702.39 122.86,700.15 123.86,698.22 124.85,696.73 125.85,695.47 126.85,694.34 127.84,693.39 128.84,692.6 129.84,691.98 130.84,691.55 131.83,691.16 132.83,690.85 133.83,690.62 134.82,690.49 135.82,690.47 136.82,690.54 137.82,690.62 138.81,690.69 139.81,690.72 140.81,690.69 141.8,690.57 142.8,690.35 143.8,690 144.8,689.49 145.79,688.83 146.79,688.13 147.79,687.34 148.78,686.47 149.78,685.56 150.78,684.6 151.78,683.63 152.77,682.66 153.77,681.71 154.77,680.8 155.76,679.94 156.76,679.16 157.76,678.45 158.76,677.84 159.75,677.31 160.75,676.88 161.75,676.54 162.75,676.27 163.74,676.09 164.74,675.96 165.74,675.88 166.73,675.83 167.73,675.79 168.73,675.75 169.73,675.68 170.72,675.56 171.72,675.39 172.72,675.14 173.71,674.8 174.71,674.36 175.71,673.8 176.71,673.14 177.7,672.38 178.7,671.52 179.7,670.59 180.69,669.59 181.69,668.56 182.69,667.5 183.69,666.45 184.68,665.41 185.68,664.41 186.68,663.48 187.67,662.61 188.67,661.82 189.67,661.13 190.67,660.54 191.66,660.05 192.66,659.66 193.66,659.36 194.65,659.14 195.65,658.99 196.65,658.9 197.65,658.84 198.64,658.8 199.64,658.76 200.64,658.7 201.63,658.6 202.63,658.44 203.63,658.22 204.63,657.93 205.62,657.55 206.62,657.1 207.62,656.56 208.61,655.96 209.61,655.29 210.61,654.56 211.61,653.8 212.6,653.02 213.6,652.24 214.6,651.47 215.59,650.72 216.59,650.02 217.59,649.38 218.59,648.8 219.58,648.3 220.58,647.87 221.58,647.52 222.57,647.24 223.57,647.03 224.57,646.89 225.57,646.78 226.56,646.72 227.56,646.67 228.56,646.63 229.56,646.57 230.55,646.49 231.55,646.36 232.55,646.18 233.54,645.94 234.54,645.62 235.54,645.23 236.54,644.76 237.53,644.22 238.53,643.62 239.53,642.95 240.52,642.24 241.52,641.5 242.52,640.74 243.52,639.98 244.51,639.23 245.51,638.51 246.51,637.83 247.5,637.21 248.5,636.65 249.5,636.16 250.5,635.74 251.49,635.39 252.49,635.12 253.49,634.91 254.48,634.75 255.48,634.65 256.48,634.57 257.48,634.52 258.47,634.47 259.47,634.41 260.47,634.33 261.46,634.21 262.46,634.05 263.46,633.82 264.46,633.53 265.45,633.17 266.45,632.75 267.45,632.25 268.44,631.7 269.44,631.09 270.44,630.44 271.44,629.77 272.43,629.07 273.43,628.38 274.43,627.69 275.42,627.04 276.42,626.42 277.42,625.85 278.42,625.34 279.41,624.89 280.41,624.52 281.41,624.2 282.4,623.96 283.4,623.77 284.4,623.64 285.4,623.55 286.39,623.49 287.39,623.45 288.39,623.42 289.39,623.38 290.38,623.31 291.38,623.21 292.38,623.07 293.37,622.87 294.37,622.61 295.37,622.29 296.37,621.9 297.36,621.45 298.36,620.95 299.36,620.39 300.35,619.79 301.35,619.17 302.35,618.53 303.35,617.89 304.34,617.26 305.34,616.66 306.34,616.09 307.33,615.57 308.33,615.1 309.33,614.69 310.33,614.34 311.32,614.06 312.32,613.84 313.32,613.67 314.31,613.55 315.31,613.48 316.31,613.43 317.31,613.4 318.3,613.38 319.3,613.35 320.3,613.29 321.29,613.21 322.29,613.08 323.29,612.9 324.29,612.66 325.28,612.36 326.28,612.01 327.28,611.59 328.27,611.12 329.27,610.6 330.27,610.04 331.27,609.46 332.26,608.86 333.26,608.26 334.26,607.67 335.25,607.11 336.25,606.57 337.25,606.08 338.25,605.64 339.24,605.26 340.24,604.94 341.24,604.67 342.24,604.46 343.23,604.31 344.23,604.2 345.23,604.13 346.22,604.09 347.22,604.06 348.22,604.04 349.22,604.01 350.21,603.96 351.21,603.88 352.21,603.76 353.2,603.59 354.2,603.37 355.2,603.09 356.2,602.75 357.19,602.35 358.19,601.9 359.19,601.41 360.18,600.88 361.18,600.33 362.18,599.76 363.18,599.19 364.17,598.63 365.17,598.09 366.17,597.58 367.16,597.11 368.16,596.69 369.16,596.33 370.16,596.01 371.15,595.76 372.15,595.56 373.15,595.41 374.14,595.31 375.14,595.24 376.14,595.19 377.14,595.17 378.13,595.14 379.13,595.11 380.13,595.06 381.12,594.98 382.12,594.87 383.12,594.7 384.12,594.48 385.11,594.21 386.11,593.89 387.11,593.51 388.1,593.08 389.1,592.61 390.1,592.1 391.1,591.57 392.09,591.02 393.09,590.48 394.09,589.94 395.08,589.42 396.08,588.93 397.08,588.48 398.08,588.08 399.07,587.72 400.07,587.42 401.07,587.18 402.06,586.98 403.06,586.84 404.06,586.73 405.06,586.67 406.05,586.62 407.05,586.59 408.05,586.57 409.05,586.54 410.04,586.49 411.04,586.41 412.04,586.29 413.03,586.13 414.03,585.92 415.03,585.66 416.03,585.35 417.02,584.98 418.02,584.57 419.02,584.11 420.01,583.63 421.01,583.12 422.01,582.59 423.01,582.06 424,581.54 425,581.05 426,580.57 426.99,580.14 427.99,579.75 428.99,579.41 429.99,579.12 430.98,578.88 431.98,578.69 432.98,578.55 433.97,578.45 434.97,578.38 435.97,578.34 436.97,578.31 437.96,578.28 438.96,578.25 439.96,578.2 440.95,578.12 441.95,578.01 442.95,577.85 443.95,577.65 444.94,577.39 445.94,577.09 446.94,576.74 447.93,576.34 448.93,575.9 449.93,575.43 450.93,574.93 451.92,574.43 452.92,573.92 453.92,573.42 454.91,572.93 455.91,572.48 456.91,572.06 457.91,571.68 458.9,571.35 459.9,571.07 460.9,570.84 461.89,570.65 462.89,570.52 463.89,570.42 464.89,570.35 465.88,570.31 466.88,570.28 467.88,570.25 468.88,570.22 469.87,570.17 470.87,570.09 471.87,569.98 472.86,569.83 473.86,569.63 474.86,569.38 475.86,569.09 476.85,568.75 477.85,568.36 478.85,567.94 479.84,567.48 480.84,567 481.84,566.51 482.84,566.02 483.83,565.54 484.83,565.07 485.83,564.63 486.82,564.22 487.82,563.85 488.82,563.53 489.82,563.26 490.81,563.03 491.81,562.86 492.81,562.72 493.8,562.62 494.8,562.56 495.8,562.51 496.8,562.48 497.79,562.46 498.79,562.42 499.79,562.37 500.78,562.3 501.78,562.19 502.78,562.04 503.78,561.85 504.77,561.61 505.77,561.33 506.77,560.99 507.76,560.62 508.76,560.21 509.76,559.77 510.76,559.3 511.75,558.83 512.75,558.35 513.75,557.88 514.74,557.43 515.74,557 516.74,556.61 517.74,556.25 518.73,555.94 519.73,555.67 520.73,555.46 521.72,555.28 522.72,555.15 523.72,555.06 524.72,554.99 525.71,554.95 526.71,554.92 527.71,554.89 528.71,554.86 529.7,554.81 530.7,554.73 531.7,554.63 532.69,554.48 533.69,554.3 534.69,554.07 535.69,553.79 536.68,553.46 537.68,553.1 538.68,552.7 539.67,552.27 540.67,551.82 541.67,551.36 542.67,550.9 543.66,550.44 544.66,550 545.66,549.59 546.65,549.2 547.65,548.86 548.65,548.55 549.65,548.3 550.64,548.08 551.64,547.91 552.64,547.78 553.63,547.69 554.63,547.63 555.63,547.58 556.63,547.55 557.62,547.53 558.62,547.49 559.62,547.44 560.61,547.37 561.61,547.27 562.61,547.13 563.61,546.94 564.6,546.72 565.6,546.45 566.6,546.13 567.59,545.78 568.59,545.39 569.59,544.97 570.59,544.53 571.58,544.08 572.58,543.63 573.58,543.19 574.57,542.76 575.57,542.35 576.57,541.98 577.57,541.64 578.56,541.34 579.56,541.09 580.56,540.88 581.56,540.71 582.55,540.59 583.55,540.5 584.55,540.43 585.54,540.39 586.54,540.36 587.54,540.33 588.54,540.29 589.53,540.24 590.53,540.17 591.53,540.07 592.52,539.93 593.52,539.75 594.52,539.53 595.52,539.26 596.51,538.96 597.51,538.61 598.51,538.23 599.5,537.82 600.5,537.39 601.5,536.95 602.5,536.51 603.49,536.08 604.49,535.66 605.49,535.26 606.48,534.89 607.48,534.56 608.48,534.27 609.48,534.02 610.47,533.82 611.47,533.65 612.47,533.53 613.46,533.44 614.46,533.37 615.46,533.33 616.46,533.29 617.45,533.26 618.45,533.23 619.45,533.18 620.44,533.11 621.44,533 622.44,532.87 623.44,532.69 624.43,532.47 625.43,532.21 626.43,531.91 627.42,531.57 628.42,531.19 629.42,530.79 630.42,530.37 631.41,529.94 632.41,529.51 633.41,529.08 634.4,528.67 635.4,528.28 636.4,527.92 637.4,527.6 638.39,527.31 639.39,527.07 640.39,526.86 641.38,526.7 642.38,526.57 643.38,526.48 644.38,526.42 645.37,526.37 646.37,526.33 647.37,526.3 648.37,526.26 649.36,526.21 650.36,526.14 651.36,526.04 652.35,525.9 653.35,525.72 654.35,525.51 655.35,525.25 656.34,524.95 657.34,524.62 658.34,524.25 659.33,523.86 660.33,523.44 661.33,523.02 662.33,522.59 663.32,522.17 664.32,521.77 665.32,521.39 666.31,521.03 667.31,520.71 668.31,520.43 669.31,520.19 670.3,519.98 671.3,519.82" fill="none" stroke="#0000ff" stroke-width="3.8" stroke-linejoin="round" stroke-linecap="butt"/>
<path d="M72.5,541.45H671.3" stroke="#ff0000" stroke-width="3.1"/>
<path d="M72.8,629.99H671.3" stroke="#ff0000" stroke-width="2.5" stroke-dasharray="25 6"/>
<circle cx="253.39" cy="640.08" r="3.35" fill="#000"/>
<g font-family="'Liberation Sans', Arial, sans-serif" font-size="27.3" fill="#000"><text x="63.3" y="772.7" text-anchor="end">0</text><text x="63.3" y="728.43" text-anchor="end">1</text><text x="63.3" y="684.16" text-anchor="end">2</text><text x="63.3" y="639.89" text-anchor="end">3</text><text x="63.3" y="595.62" text-anchor="end">4</text><text x="63.3" y="551.35" text-anchor="end">5</text><text x="63.3" y="507.08" text-anchor="end">6</text><text x="63.3" y="462.81" text-anchor="end">7</text><text x="73.4" y="787.8" text-anchor="middle">0</text><text x="193.06" y="787.8" text-anchor="middle">2</text><text x="312.72" y="787.8" text-anchor="middle">4</text><text x="432.38" y="787.8" text-anchor="middle">6</text><text x="552.04" y="787.8" text-anchor="middle">8</text><text x="671.7" y="787.8" text-anchor="middle">10</text><text x="673.2" y="815.1" text-anchor="end" font-size="27">real time (yr)</text><text x="-1.5" y="447.2" font-size="34">b)</text><text x="134.8" y="480" font-size="27">[2-6] keV</text><text transform="translate(24.9,593.8) rotate(-90)" text-anchor="middle" font-size="27.0"><tspan font-weight="bold" font-size="29.2">S</tspan> (<tspan font-family="'DejaVu Sans', sans-serif" font-size="24.5">σ</tspan> C.L.)</text></g>
</svg>
</body></html>
